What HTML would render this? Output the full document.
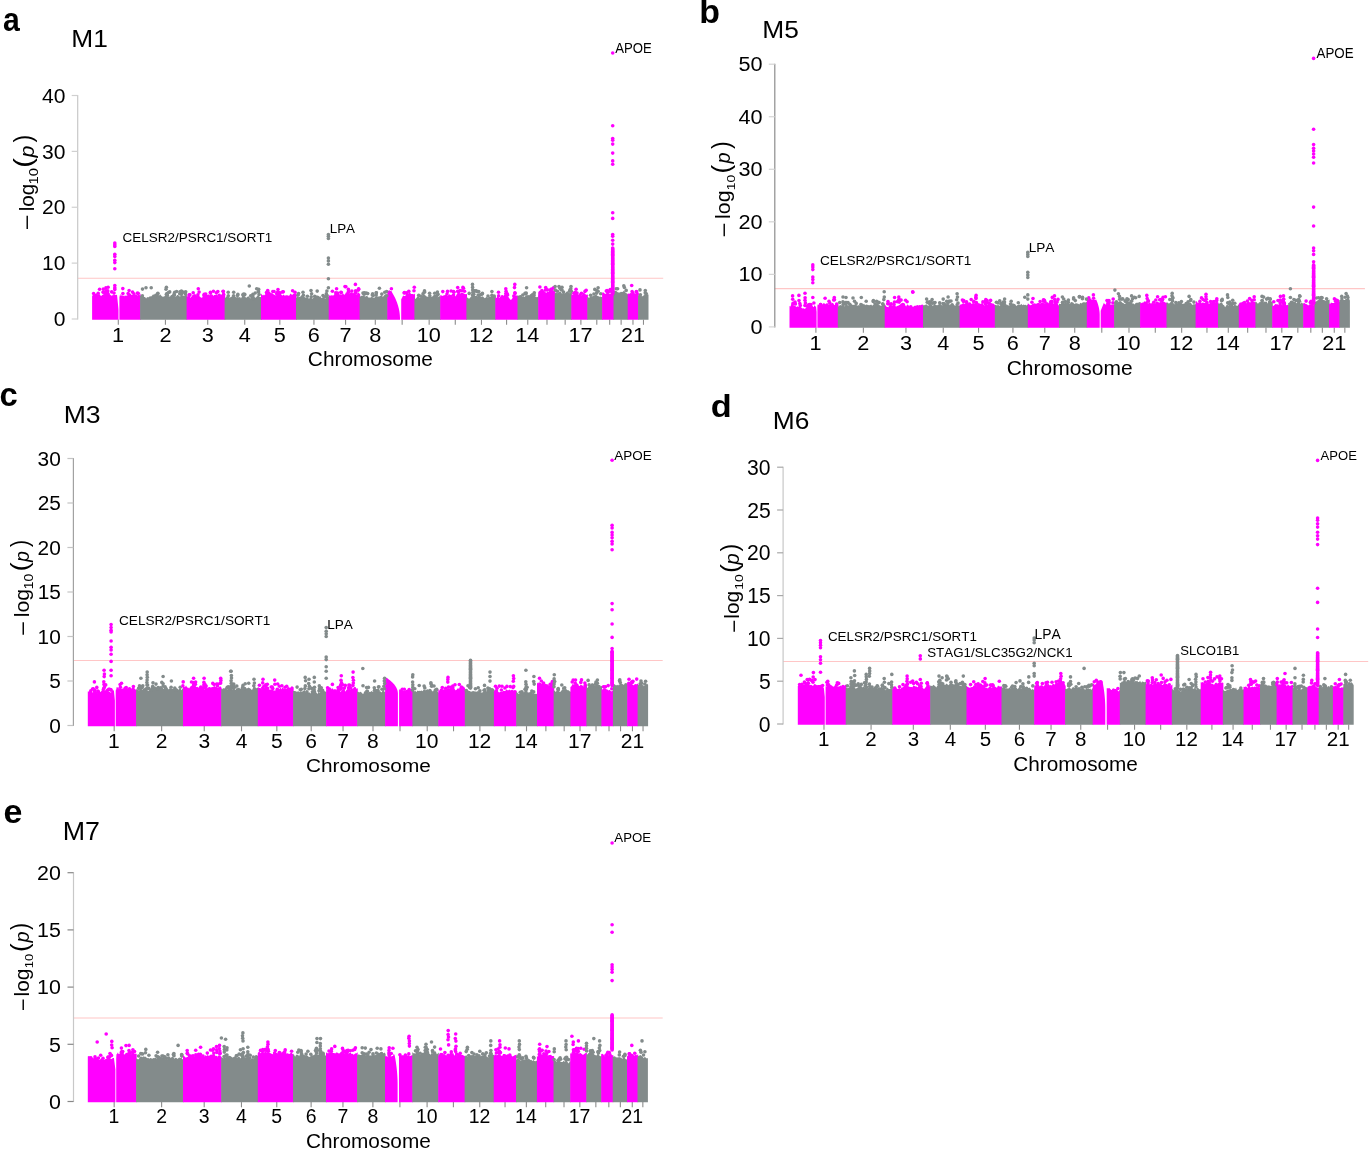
<!DOCTYPE html><html><head><meta charset="utf-8"><style>html,body{margin:0;padding:0;background:#fff;overflow:hidden;}svg{display:block;will-change:transform;} text{font-family:"Liberation Sans", sans-serif; fill:#000; font-kerning:none;}</style></head><body>
<svg width="1369" height="1150" viewBox="0 0 1369 1150">
<rect width="1369" height="1150" fill="#fff"/>
<line x1="77.7" y1="278.21" x2="663.2" y2="278.21" stroke="#ffc6c6" stroke-width="1.15"/>
<line x1="77.70" y1="95.0" x2="77.70" y2="319.5" stroke="#c8c8c8" stroke-width="1.2"/>
<line x1="71.7" y1="319.00" x2="77.7" y2="319.00" stroke="#d0d0d0" stroke-width="1.2"/>
<text x="53.82" y="326.16" font-size="19.63" textLength="11.70" lengthAdjust="spacingAndGlyphs">0</text>
<line x1="71.7" y1="263.12" x2="77.7" y2="263.12" stroke="#d0d0d0" stroke-width="1.2"/>
<text x="42.12" y="270.28" font-size="19.63" textLength="23.40" lengthAdjust="spacingAndGlyphs">10</text>
<line x1="71.7" y1="207.25" x2="77.7" y2="207.25" stroke="#d0d0d0" stroke-width="1.2"/>
<text x="42.12" y="214.41" font-size="19.63" textLength="23.40" lengthAdjust="spacingAndGlyphs">20</text>
<line x1="71.7" y1="151.38" x2="77.7" y2="151.38" stroke="#d0d0d0" stroke-width="1.2"/>
<text x="42.12" y="158.53" font-size="19.63" textLength="23.40" lengthAdjust="spacingAndGlyphs">30</text>
<line x1="71.7" y1="95.50" x2="77.7" y2="95.50" stroke="#d0d0d0" stroke-width="1.2"/>
<text x="42.12" y="102.66" font-size="19.63" textLength="23.40" lengthAdjust="spacingAndGlyphs">40</text>
<line x1="118.30" y1="319.6" x2="118.30" y2="324.8" stroke="#8c8c8c" stroke-width="1.1"/>
<text x="111.98" y="342.00" font-size="20.34" textLength="12.05" lengthAdjust="spacingAndGlyphs">1</text>
<line x1="165.43" y1="319.6" x2="165.43" y2="324.8" stroke="#8c8c8c" stroke-width="1.1"/>
<text x="159.41" y="342.00" font-size="20.34" textLength="12.05" lengthAdjust="spacingAndGlyphs">2</text>
<line x1="207.73" y1="319.6" x2="207.73" y2="324.8" stroke="#8c8c8c" stroke-width="1.1"/>
<text x="201.77" y="341.80" font-size="20.34" textLength="12.05" lengthAdjust="spacingAndGlyphs">3</text>
<line x1="244.74" y1="319.6" x2="244.74" y2="324.8" stroke="#8c8c8c" stroke-width="1.1"/>
<text x="238.79" y="342.00" font-size="20.34" textLength="12.05" lengthAdjust="spacingAndGlyphs">4</text>
<line x1="279.82" y1="319.6" x2="279.82" y2="324.8" stroke="#8c8c8c" stroke-width="1.1"/>
<text x="273.81" y="341.80" font-size="20.34" textLength="12.05" lengthAdjust="spacingAndGlyphs">5</text>
<line x1="313.94" y1="319.6" x2="313.94" y2="324.8" stroke="#8c8c8c" stroke-width="1.1"/>
<text x="307.84" y="341.80" font-size="20.34" textLength="12.05" lengthAdjust="spacingAndGlyphs">6</text>
<line x1="345.57" y1="319.6" x2="345.57" y2="324.8" stroke="#8c8c8c" stroke-width="1.1"/>
<text x="339.53" y="342.00" font-size="20.34" textLength="12.05" lengthAdjust="spacingAndGlyphs">7</text>
<line x1="375.30" y1="319.6" x2="375.30" y2="324.8" stroke="#8c8c8c" stroke-width="1.1"/>
<text x="369.28" y="341.80" font-size="20.34" textLength="12.05" lengthAdjust="spacingAndGlyphs">8</text>
<line x1="402.15" y1="319.6" x2="402.15" y2="324.8" stroke="#8c8c8c" stroke-width="1.1"/>
<line x1="429.16" y1="319.6" x2="429.16" y2="324.8" stroke="#8c8c8c" stroke-width="1.1"/>
<text x="416.71" y="341.80" font-size="20.34" textLength="24.10" lengthAdjust="spacingAndGlyphs">10</text>
<line x1="455.28" y1="319.6" x2="455.28" y2="324.8" stroke="#8c8c8c" stroke-width="1.1"/>
<line x1="481.46" y1="319.6" x2="481.46" y2="324.8" stroke="#8c8c8c" stroke-width="1.1"/>
<text x="469.13" y="342.00" font-size="20.34" textLength="24.10" lengthAdjust="spacingAndGlyphs">12</text>
<line x1="506.58" y1="319.6" x2="506.58" y2="324.8" stroke="#8c8c8c" stroke-width="1.1"/>
<line x1="527.76" y1="319.6" x2="527.76" y2="324.8" stroke="#8c8c8c" stroke-width="1.1"/>
<text x="515.20" y="342.00" font-size="20.34" textLength="24.10" lengthAdjust="spacingAndGlyphs">14</text>
<line x1="546.99" y1="319.6" x2="546.99" y2="324.8" stroke="#8c8c8c" stroke-width="1.1"/>
<line x1="565.16" y1="319.6" x2="565.16" y2="324.8" stroke="#8c8c8c" stroke-width="1.1"/>
<line x1="580.89" y1="319.6" x2="580.89" y2="324.8" stroke="#8c8c8c" stroke-width="1.1"/>
<text x="568.56" y="342.00" font-size="20.34" textLength="24.10" lengthAdjust="spacingAndGlyphs">17</text>
<line x1="596.79" y1="319.6" x2="596.79" y2="324.8" stroke="#8c8c8c" stroke-width="1.1"/>
<line x1="609.68" y1="319.6" x2="609.68" y2="324.8" stroke="#8c8c8c" stroke-width="1.1"/>
<line x1="621.13" y1="319.6" x2="621.13" y2="324.8" stroke="#8c8c8c" stroke-width="1.1"/>
<line x1="632.97" y1="319.6" x2="632.97" y2="324.8" stroke="#8c8c8c" stroke-width="1.1"/>
<text x="620.91" y="342.00" font-size="20.34" textLength="24.10" lengthAdjust="spacingAndGlyphs">21</text>
<line x1="643.48" y1="319.6" x2="643.48" y2="324.8" stroke="#8c8c8c" stroke-width="1.1"/>
<path d="M92.1,319.8 L92.1,295.7 L93.1,295.0 L94.1,294.1 L95.1,294.8 L96.1,295.8 L97.2,295.4 L98.2,294.7 L99.2,293.8 L100.2,295.2 L101.2,296.0 L102.2,294.9 L103.2,294.4 L104.2,293.3 L105.3,293.2 L106.3,294.0 L107.3,294.5 L108.3,292.6 L109.3,293.8 L110.3,294.8 L111.3,295.7 L112.3,295.2 L113.0,295.2 L113.2,295.2 L113.4,294.9 L113.6,294.9 L113.8,294.9 L114.0,294.9 L114.2,294.9 L114.4,295.1 L114.6,295.1 L114.8,295.1 L115.0,295.1 L115.2,295.1 L115.4,295.1 L115.6,295.0 L115.8,295.0 L116.0,295.0 L116.2,295.0 L116.4,295.0 L116.6,294.7 L116.8,294.7 L117.0,294.7 L117.2,296.5 L117.4,298.5 L117.6,300.5 L117.8,302.5 L118.0,304.5 L118.2,306.5 L118.4,308.5 L118.5,309.9 L118.5,319.8 L118.6,319.8 L118.8,319.8 L119.0,319.8 L119.2,319.8 L119.4,319.8 L119.4,319.8 L119.4,297.1 L119.6,296.4 L119.8,295.4 L120.0,294.4 L120.2,293.9 L120.4,293.9 L120.6,295.7 L120.8,295.7 L121.0,295.7 L121.2,295.7 L121.4,295.7 L121.6,294.7 L121.8,294.7 L122.0,294.7 L122.2,294.7 L122.4,294.7 L122.6,295.9 L122.8,295.9 L123.0,295.9 L123.2,295.9 L123.4,295.9 L123.6,295.5 L123.8,295.5 L124.0,295.5 L124.2,295.5 L124.4,295.5 L124.6,296.3 L124.8,296.3 L125.5,295.6 L126.5,295.8 L127.5,295.2 L128.5,292.3 L129.5,293.5 L130.5,293.4 L131.6,295.0 L132.6,295.1 L133.6,294.4 L134.6,294.6 L135.6,294.4 L136.6,294.5 L137.6,295.4 L138.6,294.6 L139.7,295.3 L140.7,293.6 L140.7,319.8 Z" fill="#ff00ff"/>
<circle cx="93.6" cy="293.5" r="1.8" fill="#ff00ff"/>
<circle cx="103.2" cy="292.0" r="1.8" fill="#ff00ff"/>
<circle cx="138.3" cy="293.6" r="1.8" fill="#ff00ff"/>
<circle cx="111.7" cy="291.9" r="1.8" fill="#ff00ff"/>
<circle cx="129.1" cy="290.5" r="1.8" fill="#ff00ff"/>
<circle cx="105.9" cy="290.9" r="1.8" fill="#ff00ff"/>
<circle cx="137.5" cy="293.1" r="1.8" fill="#ff00ff"/>
<circle cx="128.1" cy="293.5" r="1.8" fill="#ff00ff"/>
<circle cx="98.2" cy="293.2" r="1.8" fill="#ff00ff"/>
<circle cx="96.3" cy="295.3" r="1.8" fill="#ff00ff"/>
<circle cx="114.0" cy="293.1" r="1.8" fill="#ff00ff"/>
<circle cx="99.6" cy="289.3" r="1.8" fill="#ff00ff"/>
<circle cx="122.9" cy="293.5" r="1.8" fill="#ff00ff"/>
<circle cx="103.3" cy="292.3" r="1.8" fill="#ff00ff"/>
<circle cx="105.9" cy="287.9" r="1.8" fill="#ff00ff"/>
<circle cx="107.5" cy="293.5" r="1.8" fill="#ff00ff"/>
<circle cx="133.9" cy="293.7" r="1.8" fill="#ff00ff"/>
<circle cx="132.5" cy="292.1" r="1.8" fill="#ff00ff"/>
<circle cx="122.8" cy="288.6" r="1.8" fill="#ff00ff"/>
<circle cx="103.3" cy="289.1" r="1.8" fill="#ff00ff"/>
<circle cx="105.4" cy="292.8" r="1.8" fill="#ff00ff"/>
<path d="M140.1,319.8 L140.1,295.8 L141.1,295.8 L142.1,296.5 L143.1,296.6 L144.1,297.0 L145.1,297.1 L146.1,298.6 L147.1,296.9 L148.1,297.6 L149.1,296.8 L150.1,296.2 L151.1,296.5 L152.1,295.4 L153.1,294.3 L154.1,294.9 L155.1,296.0 L156.1,295.6 L157.1,294.6 L158.1,294.8 L159.1,295.6 L160.1,294.3 L161.1,295.6 L162.1,296.5 L163.2,296.8 L164.2,296.3 L165.2,296.1 L166.2,295.5 L167.2,295.9 L168.2,296.2 L169.2,296.8 L170.2,296.0 L171.2,297.0 L172.2,296.8 L173.2,296.0 L174.2,296.1 L175.2,296.4 L176.2,296.2 L177.2,295.1 L178.2,294.9 L179.2,296.3 L180.2,296.6 L181.2,294.6 L182.2,295.3 L183.2,295.5 L184.2,295.9 L185.2,295.1 L186.2,295.1 L187.2,295.4 L187.2,319.8 Z" fill="#838b8b"/>
<circle cx="157.9" cy="293.2" r="1.8" fill="#838b8b"/>
<circle cx="157.6" cy="293.9" r="1.8" fill="#838b8b"/>
<circle cx="180.9" cy="292.2" r="1.8" fill="#838b8b"/>
<circle cx="172.1" cy="296.5" r="1.8" fill="#838b8b"/>
<circle cx="167.4" cy="295.4" r="1.8" fill="#838b8b"/>
<circle cx="142.4" cy="295.9" r="1.8" fill="#838b8b"/>
<circle cx="181.8" cy="292.3" r="1.8" fill="#838b8b"/>
<circle cx="142.5" cy="289.1" r="1.8" fill="#838b8b"/>
<circle cx="169.7" cy="291.9" r="1.8" fill="#838b8b"/>
<circle cx="155.7" cy="295.4" r="1.8" fill="#838b8b"/>
<circle cx="185.7" cy="291.8" r="1.8" fill="#838b8b"/>
<circle cx="174.1" cy="294.3" r="1.8" fill="#838b8b"/>
<circle cx="181.3" cy="294.2" r="1.8" fill="#838b8b"/>
<circle cx="176.6" cy="291.5" r="1.8" fill="#838b8b"/>
<circle cx="182.0" cy="291.9" r="1.8" fill="#838b8b"/>
<circle cx="181.4" cy="291.0" r="1.8" fill="#838b8b"/>
<circle cx="180.0" cy="291.7" r="1.8" fill="#838b8b"/>
<circle cx="179.7" cy="293.7" r="1.8" fill="#838b8b"/>
<circle cx="166.9" cy="293.5" r="1.8" fill="#838b8b"/>
<circle cx="167.3" cy="293.9" r="1.8" fill="#838b8b"/>
<circle cx="168.5" cy="292.5" r="1.8" fill="#838b8b"/>
<circle cx="185.4" cy="294.1" r="1.8" fill="#838b8b"/>
<path d="M186.6,319.8 L186.6,295.7 L187.7,296.4 L188.7,296.1 L189.7,296.9 L190.7,297.7 L191.7,296.2 L192.7,294.8 L193.7,294.5 L194.8,293.9 L195.8,294.4 L196.8,295.5 L197.8,295.5 L198.8,295.8 L199.8,296.6 L200.8,297.5 L201.9,297.8 L202.9,296.8 L203.9,296.1 L204.9,296.3 L205.9,294.8 L206.9,295.0 L208.0,294.8 L209.0,294.2 L210.0,295.5 L211.0,297.1 L212.0,295.8 L213.0,296.3 L214.0,294.9 L215.1,294.9 L216.1,294.4 L217.1,294.3 L218.1,296.6 L219.1,295.5 L220.1,296.1 L221.1,296.5 L222.2,296.4 L223.2,295.4 L224.2,294.8 L225.2,294.3 L225.2,319.8 Z" fill="#ff00ff"/>
<circle cx="213.4" cy="291.3" r="1.8" fill="#ff00ff"/>
<circle cx="221.9" cy="296.2" r="1.8" fill="#ff00ff"/>
<circle cx="204.2" cy="294.3" r="1.8" fill="#ff00ff"/>
<circle cx="197.9" cy="294.8" r="1.8" fill="#ff00ff"/>
<circle cx="210.4" cy="292.4" r="1.8" fill="#ff00ff"/>
<circle cx="205.7" cy="294.0" r="1.8" fill="#ff00ff"/>
<circle cx="223.1" cy="291.2" r="1.8" fill="#ff00ff"/>
<circle cx="204.2" cy="295.5" r="1.8" fill="#ff00ff"/>
<circle cx="219.2" cy="295.2" r="1.8" fill="#ff00ff"/>
<circle cx="189.6" cy="295.1" r="1.8" fill="#ff00ff"/>
<circle cx="199.1" cy="292.1" r="1.8" fill="#ff00ff"/>
<circle cx="216.3" cy="292.8" r="1.8" fill="#ff00ff"/>
<circle cx="204.3" cy="295.9" r="1.8" fill="#ff00ff"/>
<circle cx="189.0" cy="295.1" r="1.8" fill="#ff00ff"/>
<circle cx="193.2" cy="292.8" r="1.8" fill="#ff00ff"/>
<circle cx="189.8" cy="294.7" r="1.8" fill="#ff00ff"/>
<circle cx="210.5" cy="293.1" r="1.8" fill="#ff00ff"/>
<circle cx="211.4" cy="296.1" r="1.8" fill="#ff00ff"/>
<path d="M224.6,319.8 L224.6,298.6 L225.6,297.4 L226.7,296.2 L227.7,296.4 L228.7,296.4 L229.7,297.8 L230.8,297.1 L231.8,296.6 L232.8,296.1 L233.8,297.1 L234.9,295.9 L235.9,297.3 L236.9,297.2 L237.9,296.9 L239.0,297.6 L240.0,296.8 L241.0,298.4 L242.1,296.0 L243.1,295.4 L244.1,296.0 L245.1,296.7 L246.2,297.8 L247.2,297.0 L248.2,296.2 L249.2,296.8 L250.3,298.3 L251.3,298.2 L252.3,297.0 L253.3,298.7 L254.4,298.9 L255.4,297.7 L256.4,296.9 L257.4,295.6 L258.5,295.6 L259.5,297.1 L260.5,297.0 L261.6,297.4 L261.6,319.8 Z" fill="#838b8b"/>
<circle cx="256.7" cy="288.7" r="1.8" fill="#838b8b"/>
<circle cx="244.3" cy="295.0" r="1.8" fill="#838b8b"/>
<circle cx="252.9" cy="294.2" r="1.8" fill="#838b8b"/>
<circle cx="255.2" cy="293.0" r="1.8" fill="#838b8b"/>
<circle cx="237.9" cy="294.4" r="1.8" fill="#838b8b"/>
<circle cx="244.8" cy="294.4" r="1.8" fill="#838b8b"/>
<circle cx="252.2" cy="297.5" r="1.8" fill="#838b8b"/>
<circle cx="253.6" cy="298.6" r="1.8" fill="#838b8b"/>
<circle cx="228.3" cy="295.8" r="1.8" fill="#838b8b"/>
<circle cx="237.5" cy="295.4" r="1.8" fill="#838b8b"/>
<circle cx="252.9" cy="295.9" r="1.8" fill="#838b8b"/>
<circle cx="243.6" cy="294.1" r="1.8" fill="#838b8b"/>
<circle cx="250.7" cy="295.8" r="1.8" fill="#838b8b"/>
<circle cx="258.2" cy="291.7" r="1.8" fill="#838b8b"/>
<circle cx="242.8" cy="294.8" r="1.8" fill="#838b8b"/>
<circle cx="233.6" cy="295.7" r="1.8" fill="#838b8b"/>
<path d="M261.0,319.8 L261.0,293.5 L262.0,294.7 L263.0,295.4 L264.0,294.6 L265.0,295.5 L266.0,295.4 L267.1,294.4 L268.1,293.6 L269.1,295.5 L270.1,294.8 L271.1,293.2 L272.1,293.0 L273.2,294.0 L274.2,294.8 L275.2,295.0 L276.2,295.8 L277.2,295.5 L278.3,295.3 L279.3,295.2 L280.3,294.0 L281.3,294.5 L282.3,295.8 L283.3,294.5 L284.4,295.5 L285.4,295.5 L286.4,295.3 L287.4,295.3 L288.4,295.8 L289.4,295.5 L290.5,293.4 L291.5,294.5 L292.5,294.7 L293.5,293.8 L294.5,293.6 L295.5,293.5 L296.6,293.4 L296.6,319.8 Z" fill="#ff00ff"/>
<circle cx="278.0" cy="289.6" r="1.8" fill="#ff00ff"/>
<circle cx="272.8" cy="291.5" r="1.8" fill="#ff00ff"/>
<circle cx="292.6" cy="290.8" r="1.8" fill="#ff00ff"/>
<circle cx="266.7" cy="295.3" r="1.8" fill="#ff00ff"/>
<circle cx="268.8" cy="293.0" r="1.8" fill="#ff00ff"/>
<circle cx="269.9" cy="294.5" r="1.8" fill="#ff00ff"/>
<circle cx="274.0" cy="291.5" r="1.8" fill="#ff00ff"/>
<circle cx="282.7" cy="291.9" r="1.8" fill="#ff00ff"/>
<circle cx="266.5" cy="292.5" r="1.8" fill="#ff00ff"/>
<circle cx="279.1" cy="295.3" r="1.8" fill="#ff00ff"/>
<circle cx="279.7" cy="293.2" r="1.8" fill="#ff00ff"/>
<circle cx="276.7" cy="293.6" r="1.8" fill="#ff00ff"/>
<circle cx="279.7" cy="293.0" r="1.8" fill="#ff00ff"/>
<circle cx="267.7" cy="293.2" r="1.8" fill="#ff00ff"/>
<circle cx="283.3" cy="291.7" r="1.8" fill="#ff00ff"/>
<circle cx="279.7" cy="292.7" r="1.8" fill="#ff00ff"/>
<path d="M296.0,319.8 L296.0,298.2 L297.0,297.0 L298.0,297.0 L299.0,299.2 L300.0,299.1 L301.0,298.1 L302.0,297.7 L303.0,298.3 L304.0,296.7 L305.1,297.4 L306.1,297.5 L307.1,297.4 L308.1,297.9 L309.1,298.7 L310.1,297.3 L311.1,296.9 L312.1,298.8 L313.1,298.0 L314.2,297.6 L315.2,297.3 L316.2,297.9 L317.2,298.2 L318.2,297.9 L319.2,297.0 L320.2,295.8 L321.2,298.1 L322.2,297.5 L323.2,297.3 L324.3,297.7 L325.3,298.9 L326.3,298.9 L327.3,299.1 L328.3,298.4 L329.3,298.2 L329.3,319.8 Z" fill="#838b8b"/>
<circle cx="298.6" cy="293.5" r="1.8" fill="#838b8b"/>
<circle cx="314.7" cy="296.4" r="1.8" fill="#838b8b"/>
<circle cx="301.9" cy="297.3" r="1.8" fill="#838b8b"/>
<circle cx="323.0" cy="295.6" r="1.8" fill="#838b8b"/>
<circle cx="327.5" cy="297.9" r="1.8" fill="#838b8b"/>
<circle cx="299.3" cy="298.6" r="1.8" fill="#838b8b"/>
<circle cx="326.3" cy="293.9" r="1.8" fill="#838b8b"/>
<circle cx="307.4" cy="296.2" r="1.8" fill="#838b8b"/>
<circle cx="311.6" cy="293.8" r="1.8" fill="#838b8b"/>
<circle cx="315.7" cy="297.0" r="1.8" fill="#838b8b"/>
<circle cx="297.9" cy="295.2" r="1.8" fill="#838b8b"/>
<circle cx="303.0" cy="292.2" r="1.8" fill="#838b8b"/>
<circle cx="311.2" cy="296.7" r="1.8" fill="#838b8b"/>
<circle cx="303.4" cy="295.2" r="1.8" fill="#838b8b"/>
<circle cx="302.5" cy="297.2" r="1.8" fill="#838b8b"/>
<circle cx="324.6" cy="296.7" r="1.8" fill="#838b8b"/>
<path d="M328.7,319.8 L328.7,294.3 L329.7,295.7 L330.7,295.4 L331.8,295.3 L332.8,295.5 L333.8,295.3 L334.8,293.2 L335.8,293.7 L336.8,293.9 L337.8,292.1 L338.9,293.0 L339.9,294.8 L340.9,294.1 L341.9,294.7 L342.9,293.0 L343.9,294.4 L345.0,294.7 L346.0,295.6 L347.0,294.8 L348.0,295.2 L349.0,294.7 L350.0,294.6 L351.1,294.8 L352.1,293.6 L353.1,293.0 L354.1,293.4 L355.1,294.3 L356.1,295.0 L357.2,294.3 L358.2,292.2 L359.2,293.3 L360.2,294.2 L360.2,319.8 Z" fill="#ff00ff"/>
<circle cx="349.0" cy="291.8" r="1.8" fill="#ff00ff"/>
<circle cx="341.3" cy="292.5" r="1.8" fill="#ff00ff"/>
<circle cx="358.7" cy="289.3" r="1.8" fill="#ff00ff"/>
<circle cx="351.9" cy="291.1" r="1.8" fill="#ff00ff"/>
<circle cx="358.1" cy="290.2" r="1.8" fill="#ff00ff"/>
<circle cx="351.3" cy="294.2" r="1.8" fill="#ff00ff"/>
<circle cx="337.5" cy="293.1" r="1.8" fill="#ff00ff"/>
<circle cx="335.8" cy="292.7" r="1.8" fill="#ff00ff"/>
<circle cx="340.9" cy="292.2" r="1.8" fill="#ff00ff"/>
<circle cx="356.0" cy="293.0" r="1.8" fill="#ff00ff"/>
<circle cx="345.9" cy="286.8" r="1.8" fill="#ff00ff"/>
<circle cx="346.4" cy="295.2" r="1.8" fill="#ff00ff"/>
<circle cx="358.6" cy="288.7" r="1.8" fill="#ff00ff"/>
<circle cx="332.4" cy="291.2" r="1.8" fill="#ff00ff"/>
<circle cx="347.2" cy="293.8" r="1.8" fill="#ff00ff"/>
<path d="M359.6,319.8 L359.6,296.9 L360.6,296.3 L361.6,295.7 L362.6,295.7 L363.6,295.3 L364.7,296.2 L365.7,296.6 L366.7,295.8 L367.7,296.5 L368.7,297.7 L369.7,297.4 L370.7,297.5 L371.7,296.7 L372.7,297.2 L373.7,297.8 L374.8,297.6 L375.8,295.9 L376.8,296.3 L377.8,296.4 L378.8,296.5 L379.8,296.3 L380.8,295.8 L381.8,295.1 L382.8,297.1 L383.8,295.8 L384.9,296.2 L385.9,296.7 L386.9,294.8 L387.9,295.8 L387.9,319.8 Z" fill="#838b8b"/>
<circle cx="363.0" cy="293.1" r="1.8" fill="#838b8b"/>
<circle cx="373.2" cy="295.5" r="1.8" fill="#838b8b"/>
<circle cx="385.7" cy="296.1" r="1.8" fill="#838b8b"/>
<circle cx="384.8" cy="292.2" r="1.8" fill="#838b8b"/>
<circle cx="379.4" cy="288.3" r="1.8" fill="#838b8b"/>
<circle cx="381.8" cy="294.1" r="1.8" fill="#838b8b"/>
<circle cx="376.4" cy="292.8" r="1.8" fill="#838b8b"/>
<circle cx="372.6" cy="293.9" r="1.8" fill="#838b8b"/>
<circle cx="366.3" cy="293.1" r="1.8" fill="#838b8b"/>
<circle cx="364.2" cy="294.2" r="1.8" fill="#838b8b"/>
<circle cx="372.3" cy="295.0" r="1.8" fill="#838b8b"/>
<circle cx="367.7" cy="293.6" r="1.8" fill="#838b8b"/>
<path d="M387.3,319.8 L387.3,290.7 L388.3,290.8 L389.3,290.3 L390.4,291.1 L391.4,291.1 L392.4,292.9 L393.4,294.7 L394.5,296.7 L394.6,296.9 L394.8,297.3 L395.0,297.8 L395.2,298.2 L395.4,298.6 L395.6,299.1 L395.8,299.5 L396.0,300.0 L396.2,300.5 L396.4,301.0 L396.6,301.5 L396.8,302.0 L397.0,302.5 L397.2,303.1 L397.4,303.7 L397.6,304.3 L397.8,304.9 L398.0,305.6 L398.2,306.3 L398.4,307.0 L398.6,307.8 L398.8,308.6 L399.0,309.5 L399.2,310.5 L399.4,311.6 L399.6,313.0 L399.8,314.8 L400.0,318.0 L400.0,319.0 L400.0,319.8 L400.2,319.8 L400.4,319.8 L400.6,319.8 L400.8,319.8 L401.0,319.8 L401.2,319.8 L401.2,319.8 L401.2,299.3 L401.4,299.0 L401.6,298.6 L401.8,298.2 L402.0,297.8 L402.2,297.4 L402.4,297.0 L402.6,296.6 L402.8,296.2 L403.0,295.8 L403.2,295.6 L403.4,295.6 L403.6,295.6 L403.8,296.0 L404.0,296.0 L404.2,296.0 L404.4,296.0 L404.6,296.0 L404.8,295.9 L405.0,295.9 L405.2,295.9 L405.4,295.9 L405.6,295.9 L405.8,295.3 L406.0,295.3 L406.2,295.3 L406.4,295.3 L406.6,295.3 L406.8,295.4 L407.8,295.0 L408.8,292.5 L409.9,292.0 L410.9,293.9 L411.9,293.9 L413.0,294.1 L414.0,294.4 L415.0,293.6 L415.0,319.8 Z" fill="#ff00ff"/>
<circle cx="404.2" cy="293.0" r="1.8" fill="#ff00ff"/>
<circle cx="404.4" cy="292.6" r="1.8" fill="#ff00ff"/>
<circle cx="407.2" cy="294.8" r="1.8" fill="#ff00ff"/>
<circle cx="408.8" cy="291.3" r="1.8" fill="#ff00ff"/>
<path d="M414.4,319.8 L414.4,297.5 L415.4,298.9 L416.4,298.1 L417.5,296.3 L418.5,296.3 L419.5,298.0 L420.5,297.9 L421.5,296.7 L422.5,295.1 L423.5,294.6 L424.6,295.0 L425.6,295.4 L426.6,296.6 L427.6,296.7 L428.6,296.7 L429.6,297.1 L430.6,296.6 L431.7,296.7 L432.7,296.2 L433.7,295.0 L434.7,294.9 L435.7,295.1 L436.7,295.8 L437.8,297.2 L438.8,296.8 L439.8,296.1 L440.8,296.9 L440.8,319.8 Z" fill="#838b8b"/>
<circle cx="424.5" cy="290.9" r="1.8" fill="#838b8b"/>
<circle cx="418.7" cy="295.3" r="1.8" fill="#838b8b"/>
<circle cx="437.4" cy="292.0" r="1.8" fill="#838b8b"/>
<circle cx="437.9" cy="294.4" r="1.8" fill="#838b8b"/>
<circle cx="434.7" cy="293.3" r="1.8" fill="#838b8b"/>
<circle cx="423.0" cy="293.9" r="1.8" fill="#838b8b"/>
<circle cx="437.8" cy="294.4" r="1.8" fill="#838b8b"/>
<circle cx="436.8" cy="295.7" r="1.8" fill="#838b8b"/>
<circle cx="424.5" cy="291.8" r="1.8" fill="#838b8b"/>
<circle cx="424.4" cy="292.3" r="1.8" fill="#838b8b"/>
<circle cx="420.5" cy="296.2" r="1.8" fill="#838b8b"/>
<path d="M440.2,319.8 L440.2,295.2 L441.2,295.2 L442.3,296.1 L443.3,295.5 L444.3,295.2 L445.4,294.8 L446.4,294.3 L447.4,295.8 L448.5,295.0 L449.5,294.3 L450.5,295.1 L451.6,294.7 L452.6,296.2 L453.6,296.0 L454.6,295.9 L455.7,296.2 L456.7,294.2 L457.7,293.7 L458.8,293.7 L459.8,294.1 L460.8,292.9 L461.9,292.7 L462.9,293.0 L463.9,293.6 L465.0,294.0 L466.0,294.3 L467.0,294.1 L467.0,319.8 Z" fill="#ff00ff"/>
<circle cx="447.5" cy="291.4" r="1.8" fill="#ff00ff"/>
<circle cx="447.0" cy="294.0" r="1.8" fill="#ff00ff"/>
<circle cx="459.9" cy="290.5" r="1.8" fill="#ff00ff"/>
<circle cx="451.1" cy="291.0" r="1.8" fill="#ff00ff"/>
<circle cx="457.7" cy="287.5" r="1.8" fill="#ff00ff"/>
<circle cx="453.5" cy="291.6" r="1.8" fill="#ff00ff"/>
<circle cx="458.6" cy="292.6" r="1.8" fill="#ff00ff"/>
<circle cx="463.5" cy="288.2" r="1.8" fill="#ff00ff"/>
<circle cx="457.6" cy="291.2" r="1.8" fill="#ff00ff"/>
<circle cx="462.0" cy="290.7" r="1.8" fill="#ff00ff"/>
<circle cx="462.9" cy="287.4" r="1.8" fill="#ff00ff"/>
<circle cx="464.5" cy="291.3" r="1.8" fill="#ff00ff"/>
<path d="M466.4,319.8 L466.4,297.4 L467.4,297.5 L468.5,298.5 L469.5,298.4 L470.5,297.3 L471.5,296.2 L472.5,295.4 L473.6,295.2 L474.6,295.9 L475.6,296.0 L476.6,295.8 L477.6,296.8 L478.6,296.5 L479.7,296.3 L480.7,296.5 L481.7,296.7 L482.7,296.3 L483.7,297.3 L484.7,298.2 L485.8,297.4 L486.8,296.8 L487.8,297.8 L488.8,297.0 L489.8,296.7 L490.8,296.8 L491.9,296.4 L492.9,296.2 L493.9,296.3 L494.9,295.9 L495.9,296.5 L495.9,319.8 Z" fill="#838b8b"/>
<circle cx="473.9" cy="291.2" r="1.8" fill="#838b8b"/>
<circle cx="472.8" cy="295.0" r="1.8" fill="#838b8b"/>
<circle cx="488.0" cy="296.0" r="1.8" fill="#838b8b"/>
<circle cx="476.2" cy="290.7" r="1.8" fill="#838b8b"/>
<circle cx="480.6" cy="294.6" r="1.8" fill="#838b8b"/>
<circle cx="474.8" cy="290.9" r="1.8" fill="#838b8b"/>
<circle cx="477.0" cy="291.5" r="1.8" fill="#838b8b"/>
<circle cx="482.4" cy="293.4" r="1.8" fill="#838b8b"/>
<circle cx="473.8" cy="294.3" r="1.8" fill="#838b8b"/>
<circle cx="469.2" cy="293.4" r="1.8" fill="#838b8b"/>
<circle cx="478.1" cy="295.1" r="1.8" fill="#838b8b"/>
<circle cx="481.9" cy="294.3" r="1.8" fill="#838b8b"/>
<circle cx="494.2" cy="296.1" r="1.8" fill="#838b8b"/>
<path d="M495.3,319.8 L495.3,297.6 L496.4,297.9 L497.4,296.7 L498.4,296.9 L499.5,298.0 L500.5,296.7 L501.5,297.2 L502.6,298.3 L503.6,297.6 L504.7,297.0 L505.7,297.4 L506.7,296.8 L507.8,296.3 L508.8,297.5 L509.8,299.0 L510.9,300.1 L511.9,298.9 L512.9,297.2 L514.0,296.4 L515.0,295.7 L516.0,294.9 L517.1,295.9 L518.1,295.7 L518.1,319.8 Z" fill="#ff00ff"/>
<circle cx="498.5" cy="292.3" r="1.8" fill="#ff00ff"/>
<circle cx="502.2" cy="296.9" r="1.8" fill="#ff00ff"/>
<circle cx="506.3" cy="296.1" r="1.8" fill="#ff00ff"/>
<circle cx="506.1" cy="293.6" r="1.8" fill="#ff00ff"/>
<circle cx="513.8" cy="296.1" r="1.8" fill="#ff00ff"/>
<circle cx="502.8" cy="297.5" r="1.8" fill="#ff00ff"/>
<circle cx="515.0" cy="293.4" r="1.8" fill="#ff00ff"/>
<circle cx="498.6" cy="295.9" r="1.8" fill="#ff00ff"/>
<circle cx="507.6" cy="295.0" r="1.8" fill="#ff00ff"/>
<circle cx="507.2" cy="293.7" r="1.8" fill="#ff00ff"/>
<path d="M517.5,319.8 L517.5,294.9 L518.5,295.7 L519.5,295.3 L520.5,295.0 L521.6,295.2 L522.6,296.9 L523.6,296.3 L524.6,297.0 L525.6,295.7 L526.6,295.2 L527.6,295.1 L528.7,297.6 L529.7,296.5 L530.7,295.7 L531.7,296.9 L532.7,295.8 L533.7,295.9 L534.7,296.1 L535.7,296.7 L536.8,297.3 L537.8,297.1 L538.8,294.2 L538.8,319.8 Z" fill="#838b8b"/>
<circle cx="533.6" cy="295.2" r="1.8" fill="#838b8b"/>
<circle cx="522.8" cy="295.0" r="1.8" fill="#838b8b"/>
<circle cx="525.9" cy="294.0" r="1.8" fill="#838b8b"/>
<circle cx="528.9" cy="296.8" r="1.8" fill="#838b8b"/>
<circle cx="526.2" cy="293.1" r="1.8" fill="#838b8b"/>
<circle cx="531.2" cy="295.7" r="1.8" fill="#838b8b"/>
<circle cx="532.4" cy="294.9" r="1.8" fill="#838b8b"/>
<circle cx="525.0" cy="293.4" r="1.8" fill="#838b8b"/>
<circle cx="532.2" cy="295.6" r="1.8" fill="#838b8b"/>
<path d="M538.2,319.8 L538.2,292.4 L539.2,290.8 L540.2,290.8 L541.2,290.9 L542.2,290.3 L543.2,290.2 L544.2,291.0 L545.2,291.8 L546.2,293.0 L547.2,291.5 L548.2,291.9 L549.3,292.0 L550.3,291.8 L551.3,291.3 L552.3,290.9 L553.3,290.6 L554.3,289.5 L555.3,289.7 L555.3,319.8 Z" fill="#ff00ff"/>
<circle cx="545.7" cy="287.5" r="1.8" fill="#ff00ff"/>
<circle cx="550.5" cy="291.4" r="1.8" fill="#ff00ff"/>
<circle cx="551.3" cy="289.2" r="1.8" fill="#ff00ff"/>
<circle cx="545.5" cy="290.0" r="1.8" fill="#ff00ff"/>
<circle cx="539.9" cy="287.0" r="1.8" fill="#ff00ff"/>
<circle cx="553.5" cy="287.9" r="1.8" fill="#ff00ff"/>
<circle cx="550.8" cy="289.6" r="1.8" fill="#ff00ff"/>
<path d="M554.7,319.8 L554.7,293.7 L555.7,292.6 L556.7,292.6 L557.7,293.3 L558.7,292.1 L559.8,291.8 L560.8,291.8 L561.8,293.6 L562.8,293.3 L563.8,292.6 L564.8,293.6 L565.8,292.5 L566.8,291.5 L567.9,291.2 L568.9,292.5 L569.9,293.2 L570.9,292.3 L571.9,291.7 L571.9,319.8 Z" fill="#838b8b"/>
<circle cx="570.2" cy="289.5" r="1.8" fill="#838b8b"/>
<circle cx="563.5" cy="292.1" r="1.8" fill="#838b8b"/>
<circle cx="559.0" cy="286.5" r="1.8" fill="#838b8b"/>
<circle cx="569.6" cy="291.1" r="1.8" fill="#838b8b"/>
<circle cx="557.4" cy="291.2" r="1.8" fill="#838b8b"/>
<circle cx="559.7" cy="288.0" r="1.8" fill="#838b8b"/>
<circle cx="560.9" cy="289.6" r="1.8" fill="#838b8b"/>
<path d="M571.3,319.8 L571.3,294.1 L572.3,294.7 L573.4,295.1 L574.4,294.8 L575.4,294.4 L576.5,294.6 L577.5,293.8 L578.6,294.8 L579.6,295.7 L580.6,295.7 L581.7,295.4 L582.7,293.4 L583.7,292.5 L584.8,293.6 L585.8,294.4 L586.8,294.8 L587.9,294.5 L587.9,319.8 Z" fill="#ff00ff"/>
<circle cx="585.0" cy="291.4" r="1.8" fill="#ff00ff"/>
<circle cx="576.1" cy="289.3" r="1.8" fill="#ff00ff"/>
<circle cx="575.3" cy="292.3" r="1.8" fill="#ff00ff"/>
<circle cx="580.2" cy="295.0" r="1.8" fill="#ff00ff"/>
<circle cx="575.3" cy="294.5" r="1.8" fill="#ff00ff"/>
<circle cx="586.2" cy="290.3" r="1.8" fill="#ff00ff"/>
<circle cx="577.0" cy="293.0" r="1.8" fill="#ff00ff"/>
<path d="M587.3,319.8 L587.3,296.8 L588.3,297.6 L589.3,297.7 L590.4,296.3 L591.4,296.2 L592.4,296.3 L593.4,295.9 L594.5,295.2 L595.5,295.1 L596.5,295.0 L597.6,295.9 L598.6,296.2 L599.6,296.8 L600.6,296.6 L601.7,297.0 L602.7,296.9 L602.7,319.8 Z" fill="#838b8b"/>
<circle cx="596.7" cy="290.6" r="1.8" fill="#838b8b"/>
<circle cx="590.6" cy="295.2" r="1.8" fill="#838b8b"/>
<circle cx="600.7" cy="293.8" r="1.8" fill="#838b8b"/>
<circle cx="593.9" cy="294.0" r="1.8" fill="#838b8b"/>
<circle cx="596.5" cy="293.2" r="1.8" fill="#838b8b"/>
<circle cx="598.1" cy="291.2" r="1.8" fill="#838b8b"/>
<circle cx="594.8" cy="289.4" r="1.8" fill="#838b8b"/>
<path d="M602.1,319.8 L602.1,292.8 L603.2,292.3 L604.3,293.2 L605.4,293.9 L606.5,293.0 L607.6,292.1 L608.6,292.9 L609.7,293.7 L610.8,293.4 L611.9,292.6 L613.0,293.1 L614.1,291.7 L614.1,319.8 Z" fill="#ff00ff"/>
<circle cx="611.7" cy="291.8" r="1.8" fill="#ff00ff"/>
<circle cx="610.2" cy="289.6" r="1.8" fill="#ff00ff"/>
<circle cx="606.3" cy="291.1" r="1.8" fill="#ff00ff"/>
<circle cx="608.9" cy="291.5" r="1.8" fill="#ff00ff"/>
<circle cx="607.6" cy="291.4" r="1.8" fill="#ff00ff"/>
<path d="M613.5,319.8 L613.5,293.0 L614.6,292.7 L615.6,291.3 L616.7,291.3 L617.7,292.3 L618.8,292.4 L619.9,292.6 L620.9,291.7 L622.0,291.9 L623.0,291.7 L624.1,290.2 L625.1,292.2 L626.2,293.0 L627.3,294.0 L628.3,294.5 L628.3,319.8 Z" fill="#838b8b"/>
<circle cx="617.6" cy="288.7" r="1.8" fill="#838b8b"/>
<circle cx="623.8" cy="285.8" r="1.8" fill="#838b8b"/>
<circle cx="616.2" cy="288.7" r="1.8" fill="#838b8b"/>
<circle cx="624.4" cy="287.5" r="1.8" fill="#838b8b"/>
<circle cx="626.2" cy="290.4" r="1.8" fill="#838b8b"/>
<circle cx="615.0" cy="292.6" r="1.8" fill="#838b8b"/>
<path d="M627.7,319.8 L627.7,293.2 L628.8,293.7 L629.9,293.5 L631.0,292.5 L632.1,294.0 L633.2,294.6 L634.3,293.8 L635.4,294.1 L636.5,294.1 L637.6,292.3 L638.7,292.7 L638.7,319.8 Z" fill="#ff00ff"/>
<circle cx="631.7" cy="285.5" r="1.8" fill="#ff00ff"/>
<circle cx="637.0" cy="294.0" r="1.8" fill="#ff00ff"/>
<circle cx="633.0" cy="293.4" r="1.8" fill="#ff00ff"/>
<circle cx="636.6" cy="291.7" r="1.8" fill="#ff00ff"/>
<path d="M638.1,319.8 L638.1,295.2 L639.2,295.7 L640.2,295.2 L641.2,296.0 L642.3,296.3 L643.3,295.9 L644.3,293.8 L645.4,296.4 L646.4,295.7 L647.5,294.6 L648.5,294.4 L648.5,319.8 Z" fill="#838b8b"/>
<circle cx="640.0" cy="289.9" r="1.8" fill="#838b8b"/>
<circle cx="640.4" cy="294.8" r="1.8" fill="#838b8b"/>
<circle cx="646.3" cy="293.8" r="1.8" fill="#838b8b"/>
<circle cx="646.0" cy="296.0" r="1.8" fill="#838b8b"/>
<circle cx="107.8" cy="293.5" r="1.8" fill="#ff00ff"/>
<circle cx="107.8" cy="290.9" r="1.8" fill="#ff00ff"/>
<circle cx="108.1" cy="287.2" r="1.8" fill="#ff00ff"/>
<circle cx="146.0" cy="287.7" r="1.8" fill="#838b8b"/>
<circle cx="151.2" cy="287.7" r="1.8" fill="#838b8b"/>
<circle cx="166.3" cy="294.5" r="1.8" fill="#838b8b"/>
<circle cx="166.0" cy="289.3" r="1.8" fill="#838b8b"/>
<circle cx="166.4" cy="287.2" r="1.8" fill="#838b8b"/>
<circle cx="174.4" cy="295.1" r="1.8" fill="#838b8b"/>
<circle cx="174.7" cy="292.2" r="1.8" fill="#838b8b"/>
<circle cx="183.8" cy="292.2" r="1.8" fill="#838b8b"/>
<circle cx="198.3" cy="288.8" r="1.8" fill="#ff00ff"/>
<circle cx="217.8" cy="291.6" r="1.8" fill="#ff00ff"/>
<circle cx="223.6" cy="294.4" r="1.8" fill="#ff00ff"/>
<circle cx="223.3" cy="291.6" r="1.8" fill="#ff00ff"/>
<circle cx="228.2" cy="292.2" r="1.8" fill="#838b8b"/>
<circle cx="233.7" cy="292.2" r="1.8" fill="#838b8b"/>
<circle cx="249.3" cy="286.0" r="1.8" fill="#838b8b"/>
<circle cx="259.1" cy="294.6" r="1.8" fill="#838b8b"/>
<circle cx="258.6" cy="292.0" r="1.8" fill="#838b8b"/>
<circle cx="258.7" cy="289.4" r="1.8" fill="#838b8b"/>
<circle cx="267.3" cy="293.4" r="1.8" fill="#ff00ff"/>
<circle cx="267.7" cy="290.5" r="1.8" fill="#ff00ff"/>
<circle cx="277.4" cy="294.5" r="1.8" fill="#ff00ff"/>
<circle cx="277.6" cy="292.2" r="1.8" fill="#ff00ff"/>
<circle cx="295.0" cy="292.2" r="1.8" fill="#ff00ff"/>
<circle cx="311.0" cy="290.5" r="1.8" fill="#838b8b"/>
<circle cx="317.5" cy="297.2" r="1.8" fill="#838b8b"/>
<circle cx="317.2" cy="291.1" r="1.8" fill="#838b8b"/>
<circle cx="327.0" cy="297.9" r="1.8" fill="#838b8b"/>
<circle cx="326.9" cy="295.3" r="1.8" fill="#838b8b"/>
<circle cx="326.9" cy="291.1" r="1.8" fill="#838b8b"/>
<circle cx="336.6" cy="288.8" r="1.8" fill="#ff00ff"/>
<circle cx="345.0" cy="286.6" r="1.8" fill="#ff00ff"/>
<circle cx="348.3" cy="294.2" r="1.8" fill="#ff00ff"/>
<circle cx="348.5" cy="291.6" r="1.8" fill="#ff00ff"/>
<circle cx="348.4" cy="289.4" r="1.8" fill="#ff00ff"/>
<circle cx="355.2" cy="293.3" r="1.8" fill="#ff00ff"/>
<circle cx="355.6" cy="290.7" r="1.8" fill="#ff00ff"/>
<circle cx="355.4" cy="284.4" r="1.8" fill="#ff00ff"/>
<circle cx="364.4" cy="292.7" r="1.8" fill="#838b8b"/>
<circle cx="376.2" cy="294.9" r="1.8" fill="#838b8b"/>
<circle cx="376.2" cy="292.7" r="1.8" fill="#838b8b"/>
<circle cx="386.8" cy="295.7" r="1.8" fill="#838b8b"/>
<circle cx="386.6" cy="291.6" r="1.8" fill="#838b8b"/>
<circle cx="391.4" cy="288.8" r="1.8" fill="#ff00ff"/>
<circle cx="406.7" cy="292.7" r="1.8" fill="#ff00ff"/>
<circle cx="414.0" cy="290.8" r="1.8" fill="#ff00ff"/>
<circle cx="414.3" cy="287.2" r="1.8" fill="#ff00ff"/>
<circle cx="429.8" cy="295.7" r="1.8" fill="#838b8b"/>
<circle cx="429.6" cy="293.3" r="1.8" fill="#838b8b"/>
<circle cx="442.8" cy="291.6" r="1.8" fill="#ff00ff"/>
<circle cx="453.5" cy="295.0" r="1.8" fill="#ff00ff"/>
<circle cx="453.9" cy="292.2" r="1.8" fill="#ff00ff"/>
<circle cx="472.7" cy="295.2" r="1.8" fill="#838b8b"/>
<circle cx="472.8" cy="292.6" r="1.8" fill="#838b8b"/>
<circle cx="472.7" cy="290.0" r="1.8" fill="#838b8b"/>
<circle cx="472.6" cy="287.4" r="1.8" fill="#838b8b"/>
<circle cx="472.5" cy="284.4" r="1.8" fill="#838b8b"/>
<circle cx="479.0" cy="295.5" r="1.8" fill="#838b8b"/>
<circle cx="478.7" cy="291.6" r="1.8" fill="#838b8b"/>
<circle cx="491.9" cy="295.4" r="1.8" fill="#838b8b"/>
<circle cx="491.9" cy="291.6" r="1.8" fill="#838b8b"/>
<circle cx="505.4" cy="296.4" r="1.8" fill="#ff00ff"/>
<circle cx="505.9" cy="293.8" r="1.8" fill="#ff00ff"/>
<circle cx="506.1" cy="291.2" r="1.8" fill="#ff00ff"/>
<circle cx="505.8" cy="288.8" r="1.8" fill="#ff00ff"/>
<circle cx="514.9" cy="292.8" r="1.8" fill="#ff00ff"/>
<circle cx="514.5" cy="287.6" r="1.8" fill="#ff00ff"/>
<circle cx="514.8" cy="284.4" r="1.8" fill="#ff00ff"/>
<circle cx="526.6" cy="287.7" r="1.8" fill="#838b8b"/>
<circle cx="534.0" cy="294.9" r="1.8" fill="#838b8b"/>
<circle cx="534.3" cy="292.7" r="1.8" fill="#838b8b"/>
<circle cx="541.9" cy="290.5" r="1.8" fill="#ff00ff"/>
<circle cx="547.4" cy="289.9" r="1.8" fill="#ff00ff"/>
<circle cx="551.6" cy="289.4" r="1.8" fill="#ff00ff"/>
<circle cx="555.4" cy="290.1" r="1.8" fill="#838b8b"/>
<circle cx="555.1" cy="286.6" r="1.8" fill="#838b8b"/>
<circle cx="562.0" cy="290.0" r="1.8" fill="#838b8b"/>
<circle cx="562.0" cy="287.2" r="1.8" fill="#838b8b"/>
<circle cx="571.3" cy="291.3" r="1.8" fill="#838b8b"/>
<circle cx="570.8" cy="288.7" r="1.8" fill="#838b8b"/>
<circle cx="571.0" cy="286.6" r="1.8" fill="#838b8b"/>
<circle cx="573.8" cy="293.3" r="1.8" fill="#ff00ff"/>
<circle cx="581.4" cy="293.3" r="1.8" fill="#ff00ff"/>
<circle cx="598.1" cy="287.7" r="1.8" fill="#838b8b"/>
<circle cx="607.1" cy="290.5" r="1.8" fill="#ff00ff"/>
<circle cx="632.1" cy="291.6" r="1.8" fill="#ff00ff"/>
<circle cx="636.3" cy="291.6" r="1.8" fill="#ff00ff"/>
<circle cx="645.2" cy="292.8" r="1.8" fill="#838b8b"/>
<circle cx="645.3" cy="290.5" r="1.8" fill="#838b8b"/>
<circle cx="612.7" cy="53.0" r="1.8" fill="#ff00ff"/>
<circle cx="612.7" cy="125.7" r="1.8" fill="#ff00ff"/>
<circle cx="612.7" cy="138.5" r="1.8" fill="#ff00ff"/>
<circle cx="612.7" cy="140.2" r="1.8" fill="#ff00ff"/>
<circle cx="612.7" cy="144.1" r="1.8" fill="#ff00ff"/>
<circle cx="612.7" cy="153.1" r="1.8" fill="#ff00ff"/>
<circle cx="612.7" cy="160.9" r="1.8" fill="#ff00ff"/>
<circle cx="612.7" cy="164.2" r="1.8" fill="#ff00ff"/>
<circle cx="612.7" cy="212.8" r="1.8" fill="#ff00ff"/>
<circle cx="612.7" cy="218.4" r="1.8" fill="#ff00ff"/>
<circle cx="612.7" cy="234.6" r="1.8" fill="#ff00ff"/>
<circle cx="612.7" cy="236.3" r="1.8" fill="#ff00ff"/>
<circle cx="612.7" cy="240.2" r="1.8" fill="#ff00ff"/>
<circle cx="612.7" cy="244.1" r="1.8" fill="#ff00ff"/>
<circle cx="612.7" cy="248.0" r="1.8" fill="#ff00ff"/>
<circle cx="612.7" cy="293.9" r="1.8" fill="#ff00ff"/>
<circle cx="612.7" cy="293.0" r="1.8" fill="#ff00ff"/>
<circle cx="612.7" cy="292.1" r="1.8" fill="#ff00ff"/>
<circle cx="612.7" cy="291.2" r="1.8" fill="#ff00ff"/>
<circle cx="612.7" cy="290.3" r="1.8" fill="#ff00ff"/>
<circle cx="612.7" cy="289.4" r="1.8" fill="#ff00ff"/>
<circle cx="612.7" cy="288.5" r="1.8" fill="#ff00ff"/>
<circle cx="612.7" cy="287.6" r="1.8" fill="#ff00ff"/>
<circle cx="612.7" cy="286.7" r="1.8" fill="#ff00ff"/>
<circle cx="612.7" cy="285.8" r="1.8" fill="#ff00ff"/>
<circle cx="612.7" cy="284.9" r="1.8" fill="#ff00ff"/>
<circle cx="612.7" cy="284.0" r="1.8" fill="#ff00ff"/>
<circle cx="612.7" cy="283.1" r="1.8" fill="#ff00ff"/>
<circle cx="612.7" cy="282.2" r="1.8" fill="#ff00ff"/>
<circle cx="612.7" cy="281.3" r="1.8" fill="#ff00ff"/>
<circle cx="612.7" cy="280.4" r="1.8" fill="#ff00ff"/>
<circle cx="612.7" cy="279.5" r="1.8" fill="#ff00ff"/>
<circle cx="612.7" cy="278.6" r="1.8" fill="#ff00ff"/>
<circle cx="612.7" cy="277.7" r="1.8" fill="#ff00ff"/>
<circle cx="612.7" cy="276.8" r="1.8" fill="#ff00ff"/>
<circle cx="612.7" cy="275.9" r="1.8" fill="#ff00ff"/>
<circle cx="612.7" cy="275.0" r="1.8" fill="#ff00ff"/>
<circle cx="612.7" cy="274.1" r="1.8" fill="#ff00ff"/>
<circle cx="612.7" cy="273.2" r="1.8" fill="#ff00ff"/>
<circle cx="612.7" cy="272.3" r="1.8" fill="#ff00ff"/>
<circle cx="612.7" cy="271.4" r="1.8" fill="#ff00ff"/>
<circle cx="612.7" cy="270.5" r="1.8" fill="#ff00ff"/>
<circle cx="612.7" cy="269.6" r="1.8" fill="#ff00ff"/>
<circle cx="612.7" cy="268.7" r="1.8" fill="#ff00ff"/>
<circle cx="612.7" cy="267.8" r="1.8" fill="#ff00ff"/>
<circle cx="612.7" cy="266.9" r="1.8" fill="#ff00ff"/>
<circle cx="612.7" cy="266.0" r="1.8" fill="#ff00ff"/>
<circle cx="612.7" cy="265.1" r="1.8" fill="#ff00ff"/>
<circle cx="612.7" cy="264.2" r="1.8" fill="#ff00ff"/>
<circle cx="612.7" cy="263.3" r="1.8" fill="#ff00ff"/>
<circle cx="612.7" cy="262.4" r="1.8" fill="#ff00ff"/>
<circle cx="612.7" cy="261.5" r="1.8" fill="#ff00ff"/>
<circle cx="612.7" cy="260.6" r="1.8" fill="#ff00ff"/>
<circle cx="612.7" cy="259.7" r="1.8" fill="#ff00ff"/>
<circle cx="612.7" cy="258.8" r="1.8" fill="#ff00ff"/>
<circle cx="612.7" cy="257.9" r="1.8" fill="#ff00ff"/>
<circle cx="612.7" cy="257.0" r="1.8" fill="#ff00ff"/>
<circle cx="612.7" cy="256.1" r="1.8" fill="#ff00ff"/>
<circle cx="612.7" cy="255.2" r="1.8" fill="#ff00ff"/>
<circle cx="612.7" cy="254.3" r="1.8" fill="#ff00ff"/>
<circle cx="612.7" cy="253.4" r="1.8" fill="#ff00ff"/>
<circle cx="612.7" cy="252.5" r="1.8" fill="#ff00ff"/>
<circle cx="612.7" cy="251.6" r="1.8" fill="#ff00ff"/>
<circle cx="612.7" cy="250.7" r="1.8" fill="#ff00ff"/>
<circle cx="612.7" cy="249.8" r="1.8" fill="#ff00ff"/>
<circle cx="612.7" cy="248.9" r="1.8" fill="#ff00ff"/>
<circle cx="114.8" cy="243.0" r="1.8" fill="#ff00ff"/>
<circle cx="114.8" cy="244.7" r="1.8" fill="#ff00ff"/>
<circle cx="114.8" cy="246.4" r="1.8" fill="#ff00ff"/>
<circle cx="114.8" cy="254.2" r="1.8" fill="#ff00ff"/>
<circle cx="114.8" cy="256.4" r="1.8" fill="#ff00ff"/>
<circle cx="114.8" cy="260.3" r="1.8" fill="#ff00ff"/>
<circle cx="114.8" cy="262.6" r="1.8" fill="#ff00ff"/>
<circle cx="114.8" cy="268.7" r="1.8" fill="#ff00ff"/>
<circle cx="114.8" cy="285.5" r="1.8" fill="#ff00ff"/>
<circle cx="114.8" cy="287.7" r="1.8" fill="#ff00ff"/>
<circle cx="114.8" cy="289.4" r="1.8" fill="#ff00ff"/>
<circle cx="328.4" cy="234.6" r="1.8" fill="#838b8b"/>
<circle cx="328.4" cy="236.3" r="1.8" fill="#838b8b"/>
<circle cx="328.4" cy="238.5" r="1.8" fill="#838b8b"/>
<circle cx="328.4" cy="258.1" r="1.8" fill="#838b8b"/>
<circle cx="328.4" cy="260.9" r="1.8" fill="#838b8b"/>
<circle cx="328.4" cy="264.2" r="1.8" fill="#838b8b"/>
<circle cx="328.4" cy="278.8" r="1.8" fill="#838b8b"/>
<circle cx="328.4" cy="287.7" r="1.8" fill="#838b8b"/>
<text x="3.02" y="30.77" font-size="33.59" textLength="16.79" lengthAdjust="spacingAndGlyphs" font-weight="bold">a</text>
<text x="71.24" y="46.90" font-size="23.98" textLength="36.54" lengthAdjust="spacingAndGlyphs">M1</text>
<text transform="translate(33.50,0) rotate(-90)" x="-230.33" y="0.67" font-size="20.40" textLength="15.75" lengthAdjust="spacingAndGlyphs">−</text>
<text transform="translate(33.50,0) rotate(-90)" x="-211.30" y="0.00" font-size="20.40" textLength="27.63" lengthAdjust="spacingAndGlyphs">log</text>
<text transform="translate(37.80,0) rotate(-90)" x="-184.43" y="0.00" font-size="11.90" textLength="16.51" lengthAdjust="spacingAndGlyphs">10</text>
<text transform="translate(32.40,0) rotate(-90)" x="-167.72" y="0.00" font-size="26.10" textLength="9.80" lengthAdjust="spacingAndGlyphs">(</text>
<text transform="translate(33.50,0) rotate(-90)" x="-157.56" y="0.00" font-size="20.40" textLength="11.96" lengthAdjust="spacingAndGlyphs" font-style="italic">p</text>
<text transform="translate(32.40,0) rotate(-90)" x="-142.53" y="0.00" font-size="26.10" textLength="7.66" lengthAdjust="spacingAndGlyphs">)</text>
<text x="307.84" y="365.80" font-size="20.29" textLength="125.08" lengthAdjust="spacingAndGlyphs">Chromosome</text>
<text x="615.27" y="52.86" font-size="14.83" textLength="36.59" lengthAdjust="spacingAndGlyphs">APOE</text>
<text x="122.62" y="242.47" font-size="12.94" textLength="149.64" lengthAdjust="spacingAndGlyphs">CELSR2/PSRC1/SORT1</text>
<text x="329.70" y="233.30" font-size="12.21" textLength="25.33" lengthAdjust="spacingAndGlyphs">LPA</text>
<line x1="774.8" y1="288.55" x2="1364.9" y2="288.55" stroke="#ffc6c6" stroke-width="1.15"/>
<line x1="774.80" y1="63.7" x2="774.80" y2="327.4" stroke="#8c8c8c" stroke-width="1.2"/>
<line x1="768.8" y1="326.90" x2="774.8" y2="326.90" stroke="#d4d4d4" stroke-width="1.2"/>
<text x="750.59" y="333.91" font-size="19.77" textLength="12.06" lengthAdjust="spacingAndGlyphs">0</text>
<line x1="768.8" y1="274.36" x2="774.8" y2="274.36" stroke="#d4d4d4" stroke-width="1.2"/>
<text x="738.53" y="281.37" font-size="19.77" textLength="24.11" lengthAdjust="spacingAndGlyphs">10</text>
<line x1="768.8" y1="221.82" x2="774.8" y2="221.82" stroke="#d4d4d4" stroke-width="1.2"/>
<text x="738.53" y="228.83" font-size="19.77" textLength="24.11" lengthAdjust="spacingAndGlyphs">20</text>
<line x1="768.8" y1="169.28" x2="774.8" y2="169.28" stroke="#d4d4d4" stroke-width="1.2"/>
<text x="738.53" y="176.29" font-size="19.77" textLength="24.11" lengthAdjust="spacingAndGlyphs">30</text>
<line x1="768.8" y1="116.74" x2="774.8" y2="116.74" stroke="#d4d4d4" stroke-width="1.2"/>
<text x="738.53" y="123.75" font-size="19.77" textLength="24.11" lengthAdjust="spacingAndGlyphs">40</text>
<line x1="768.8" y1="64.20" x2="774.8" y2="64.20" stroke="#d4d4d4" stroke-width="1.2"/>
<text x="738.53" y="71.21" font-size="19.77" textLength="24.11" lengthAdjust="spacingAndGlyphs">50</text>
<line x1="815.89" y1="327.5" x2="815.89" y2="332.7" stroke="#8c8c8c" stroke-width="1.1"/>
<text x="809.57" y="350.10" font-size="19.77" textLength="12.05" lengthAdjust="spacingAndGlyphs">1</text>
<line x1="863.36" y1="327.5" x2="863.36" y2="332.7" stroke="#8c8c8c" stroke-width="1.1"/>
<text x="857.33" y="350.10" font-size="19.77" textLength="12.05" lengthAdjust="spacingAndGlyphs">2</text>
<line x1="905.96" y1="327.5" x2="905.96" y2="332.7" stroke="#8c8c8c" stroke-width="1.1"/>
<text x="900.00" y="349.91" font-size="19.77" textLength="12.05" lengthAdjust="spacingAndGlyphs">3</text>
<line x1="943.24" y1="327.5" x2="943.24" y2="332.7" stroke="#8c8c8c" stroke-width="1.1"/>
<text x="937.29" y="350.10" font-size="19.77" textLength="12.05" lengthAdjust="spacingAndGlyphs">4</text>
<line x1="978.56" y1="327.5" x2="978.56" y2="332.7" stroke="#8c8c8c" stroke-width="1.1"/>
<text x="972.56" y="349.91" font-size="19.77" textLength="12.05" lengthAdjust="spacingAndGlyphs">5</text>
<line x1="1012.94" y1="327.5" x2="1012.94" y2="332.7" stroke="#8c8c8c" stroke-width="1.1"/>
<text x="1006.84" y="349.91" font-size="19.77" textLength="12.05" lengthAdjust="spacingAndGlyphs">6</text>
<line x1="1044.79" y1="327.5" x2="1044.79" y2="332.7" stroke="#8c8c8c" stroke-width="1.1"/>
<text x="1038.75" y="350.10" font-size="19.77" textLength="12.05" lengthAdjust="spacingAndGlyphs">7</text>
<line x1="1074.74" y1="327.5" x2="1074.74" y2="332.7" stroke="#8c8c8c" stroke-width="1.1"/>
<text x="1068.71" y="349.91" font-size="19.77" textLength="12.05" lengthAdjust="spacingAndGlyphs">8</text>
<line x1="1101.78" y1="327.5" x2="1101.78" y2="332.7" stroke="#8c8c8c" stroke-width="1.1"/>
<line x1="1128.98" y1="327.5" x2="1128.98" y2="332.7" stroke="#8c8c8c" stroke-width="1.1"/>
<text x="1116.53" y="349.91" font-size="19.77" textLength="24.10" lengthAdjust="spacingAndGlyphs">10</text>
<line x1="1155.29" y1="327.5" x2="1155.29" y2="332.7" stroke="#8c8c8c" stroke-width="1.1"/>
<line x1="1181.66" y1="327.5" x2="1181.66" y2="332.7" stroke="#8c8c8c" stroke-width="1.1"/>
<text x="1169.33" y="350.10" font-size="19.77" textLength="24.10" lengthAdjust="spacingAndGlyphs">12</text>
<line x1="1206.96" y1="327.5" x2="1206.96" y2="332.7" stroke="#8c8c8c" stroke-width="1.1"/>
<line x1="1228.29" y1="327.5" x2="1228.29" y2="332.7" stroke="#8c8c8c" stroke-width="1.1"/>
<text x="1215.74" y="350.10" font-size="19.77" textLength="24.10" lengthAdjust="spacingAndGlyphs">14</text>
<line x1="1247.66" y1="327.5" x2="1247.66" y2="332.7" stroke="#8c8c8c" stroke-width="1.1"/>
<line x1="1265.97" y1="327.5" x2="1265.97" y2="332.7" stroke="#8c8c8c" stroke-width="1.1"/>
<line x1="1281.81" y1="327.5" x2="1281.81" y2="332.7" stroke="#8c8c8c" stroke-width="1.1"/>
<text x="1269.48" y="350.10" font-size="19.77" textLength="24.10" lengthAdjust="spacingAndGlyphs">17</text>
<line x1="1297.82" y1="327.5" x2="1297.82" y2="332.7" stroke="#8c8c8c" stroke-width="1.1"/>
<line x1="1310.81" y1="327.5" x2="1310.81" y2="332.7" stroke="#8c8c8c" stroke-width="1.1"/>
<line x1="1322.34" y1="327.5" x2="1322.34" y2="332.7" stroke="#8c8c8c" stroke-width="1.1"/>
<line x1="1334.26" y1="327.5" x2="1334.26" y2="332.7" stroke="#8c8c8c" stroke-width="1.1"/>
<text x="1322.20" y="350.10" font-size="19.77" textLength="24.10" lengthAdjust="spacingAndGlyphs">21</text>
<line x1="1344.84" y1="327.5" x2="1344.84" y2="332.7" stroke="#8c8c8c" stroke-width="1.1"/>
<path d="M789.5,327.7 L789.5,306.1 L790.5,306.4 L791.5,303.5 L792.6,304.4 L793.6,305.2 L794.6,305.4 L795.6,306.3 L796.6,307.0 L797.7,306.3 L798.7,306.8 L799.7,306.0 L800.7,306.4 L801.7,307.9 L802.7,308.4 L803.8,308.2 L804.8,309.1 L805.8,308.0 L806.8,307.6 L807.8,306.3 L808.9,307.1 L809.9,307.0 L810.9,306.3 L811.0,306.3 L811.2,306.3 L811.4,306.3 L811.6,306.3 L811.8,306.3 L812.0,305.8 L812.2,305.8 L812.4,305.8 L812.6,305.8 L812.8,305.8 L813.0,306.9 L813.2,306.9 L813.4,306.9 L813.6,306.9 L813.8,306.9 L814.0,305.5 L814.2,305.5 L814.4,305.5 L814.6,305.5 L814.8,305.5 L815.0,306.4 L815.2,306.4 L815.4,306.4 L815.6,306.4 L815.8,306.4 L816.0,305.9 L816.2,307.9 L816.4,309.9 L816.6,311.8 L816.6,327.7 L816.6,327.7 L816.8,327.7 L817.0,327.7 L817.2,327.7 L817.4,327.7 L817.4,306.0 L817.4,305.9 L817.6,304.8 L817.8,304.6 L818.0,304.6 L818.2,305.1 L818.4,305.1 L818.6,305.1 L818.8,305.1 L819.0,305.1 L819.2,306.0 L819.4,306.0 L819.6,306.0 L819.8,306.0 L820.0,306.0 L820.2,305.6 L820.4,305.6 L820.6,305.6 L820.8,305.6 L821.0,305.6 L821.2,303.3 L821.4,303.3 L821.6,303.3 L821.8,303.3 L822.0,303.3 L822.2,304.6 L822.4,304.6 L822.6,304.6 L822.8,304.6 L823.1,303.4 L824.1,303.0 L825.2,304.2 L826.2,303.6 L827.2,303.0 L828.2,304.1 L829.2,304.9 L830.3,304.0 L831.3,304.1 L832.3,302.7 L833.3,303.3 L834.3,305.0 L835.4,305.0 L836.4,305.9 L837.4,304.8 L838.4,304.3 L838.4,327.7 Z" fill="#ff00ff"/>
<circle cx="808.2" cy="305.0" r="1.8" fill="#ff00ff"/>
<circle cx="810.9" cy="304.6" r="1.8" fill="#ff00ff"/>
<circle cx="795.0" cy="302.1" r="1.8" fill="#ff00ff"/>
<circle cx="836.7" cy="304.0" r="1.8" fill="#ff00ff"/>
<circle cx="809.5" cy="304.6" r="1.8" fill="#ff00ff"/>
<circle cx="833.7" cy="299.9" r="1.8" fill="#ff00ff"/>
<circle cx="809.4" cy="306.0" r="1.8" fill="#ff00ff"/>
<circle cx="795.4" cy="303.9" r="1.8" fill="#ff00ff"/>
<circle cx="807.0" cy="306.2" r="1.8" fill="#ff00ff"/>
<circle cx="799.8" cy="303.5" r="1.8" fill="#ff00ff"/>
<circle cx="792.7" cy="299.2" r="1.8" fill="#ff00ff"/>
<circle cx="820.7" cy="304.5" r="1.8" fill="#ff00ff"/>
<circle cx="800.3" cy="305.6" r="1.8" fill="#ff00ff"/>
<circle cx="809.9" cy="306.2" r="1.8" fill="#ff00ff"/>
<circle cx="829.0" cy="301.2" r="1.8" fill="#ff00ff"/>
<circle cx="829.9" cy="303.3" r="1.8" fill="#ff00ff"/>
<circle cx="813.9" cy="303.0" r="1.8" fill="#ff00ff"/>
<circle cx="836.5" cy="305.4" r="1.8" fill="#ff00ff"/>
<circle cx="825.1" cy="298.2" r="1.8" fill="#ff00ff"/>
<circle cx="820.5" cy="304.6" r="1.8" fill="#ff00ff"/>
<path d="M837.8,327.7 L837.8,305.1 L838.8,306.7 L839.8,307.6 L840.8,307.8 L841.9,305.8 L842.9,305.5 L843.9,306.0 L844.9,306.3 L845.9,305.3 L846.9,304.3 L847.9,305.4 L848.9,305.2 L849.9,303.3 L851.0,303.7 L852.0,304.7 L853.0,304.7 L854.0,304.9 L855.0,304.5 L856.0,304.6 L857.0,305.4 L858.0,305.5 L859.0,305.1 L860.1,305.8 L861.1,305.5 L862.1,306.2 L863.1,304.8 L864.1,303.7 L865.1,305.2 L866.1,304.5 L867.1,304.8 L868.1,304.9 L869.1,305.3 L870.2,305.1 L871.2,304.4 L872.2,305.8 L873.2,304.8 L874.2,305.2 L875.2,306.2 L876.2,305.9 L877.2,305.1 L878.2,305.3 L879.3,305.1 L880.3,305.5 L881.3,305.9 L882.3,304.8 L883.3,305.8 L884.3,304.8 L885.3,304.7 L885.3,327.7 Z" fill="#838b8b"/>
<circle cx="866.2" cy="301.2" r="1.8" fill="#838b8b"/>
<circle cx="840.6" cy="306.7" r="1.8" fill="#838b8b"/>
<circle cx="873.4" cy="300.5" r="1.8" fill="#838b8b"/>
<circle cx="883.2" cy="304.7" r="1.8" fill="#838b8b"/>
<circle cx="877.0" cy="305.5" r="1.8" fill="#838b8b"/>
<circle cx="845.5" cy="302.6" r="1.8" fill="#838b8b"/>
<circle cx="854.5" cy="301.3" r="1.8" fill="#838b8b"/>
<circle cx="839.7" cy="302.5" r="1.8" fill="#838b8b"/>
<circle cx="856.2" cy="303.4" r="1.8" fill="#838b8b"/>
<circle cx="875.0" cy="303.8" r="1.8" fill="#838b8b"/>
<circle cx="879.1" cy="302.6" r="1.8" fill="#838b8b"/>
<circle cx="877.1" cy="304.9" r="1.8" fill="#838b8b"/>
<circle cx="862.1" cy="305.3" r="1.8" fill="#838b8b"/>
<circle cx="846.4" cy="303.1" r="1.8" fill="#838b8b"/>
<circle cx="876.6" cy="301.2" r="1.8" fill="#838b8b"/>
<circle cx="875.7" cy="305.9" r="1.8" fill="#838b8b"/>
<circle cx="882.7" cy="303.7" r="1.8" fill="#838b8b"/>
<circle cx="878.2" cy="302.2" r="1.8" fill="#838b8b"/>
<circle cx="873.2" cy="301.4" r="1.8" fill="#838b8b"/>
<circle cx="848.0" cy="302.5" r="1.8" fill="#838b8b"/>
<circle cx="846.5" cy="302.5" r="1.8" fill="#838b8b"/>
<circle cx="849.8" cy="304.2" r="1.8" fill="#838b8b"/>
<path d="M884.7,327.7 L884.7,305.2 L885.7,305.5 L886.8,307.1 L887.8,307.0 L888.8,307.2 L889.8,307.1 L890.9,306.5 L891.9,306.3 L892.9,304.9 L893.9,305.6 L894.9,305.1 L896.0,306.8 L897.0,306.1 L898.0,305.7 L899.0,305.3 L900.1,304.6 L901.1,303.5 L902.1,305.1 L903.1,306.3 L904.1,305.5 L905.2,305.6 L906.2,306.4 L907.2,304.2 L908.2,305.2 L909.2,305.7 L910.3,307.4 L911.3,306.3 L912.3,307.1 L913.3,306.8 L914.4,305.7 L915.4,305.7 L916.4,305.4 L917.4,304.9 L918.4,305.6 L919.5,304.9 L920.5,305.2 L921.5,304.7 L922.5,304.6 L923.6,305.4 L923.6,327.7 Z" fill="#ff00ff"/>
<circle cx="903.3" cy="304.7" r="1.8" fill="#ff00ff"/>
<circle cx="901.1" cy="300.1" r="1.8" fill="#ff00ff"/>
<circle cx="897.2" cy="301.7" r="1.8" fill="#ff00ff"/>
<circle cx="905.6" cy="300.2" r="1.8" fill="#ff00ff"/>
<circle cx="899.7" cy="300.0" r="1.8" fill="#ff00ff"/>
<circle cx="887.7" cy="303.7" r="1.8" fill="#ff00ff"/>
<circle cx="894.0" cy="304.5" r="1.8" fill="#ff00ff"/>
<circle cx="890.8" cy="306.9" r="1.8" fill="#ff00ff"/>
<circle cx="891.2" cy="303.9" r="1.8" fill="#ff00ff"/>
<circle cx="888.0" cy="301.5" r="1.8" fill="#ff00ff"/>
<circle cx="890.3" cy="306.9" r="1.8" fill="#ff00ff"/>
<circle cx="903.4" cy="305.2" r="1.8" fill="#ff00ff"/>
<circle cx="888.7" cy="303.7" r="1.8" fill="#ff00ff"/>
<circle cx="898.4" cy="300.9" r="1.8" fill="#ff00ff"/>
<circle cx="907.1" cy="301.8" r="1.8" fill="#ff00ff"/>
<circle cx="902.7" cy="304.5" r="1.8" fill="#ff00ff"/>
<circle cx="910.8" cy="306.7" r="1.8" fill="#ff00ff"/>
<path d="M923.0,327.7 L923.0,305.6 L924.0,305.3 L925.0,305.0 L926.0,304.6 L927.0,304.5 L928.0,306.0 L929.0,305.1 L930.0,304.8 L931.0,304.0 L932.0,305.1 L933.0,305.9 L934.0,303.7 L935.0,304.0 L936.0,305.0 L937.0,305.3 L938.0,305.0 L939.0,303.8 L940.1,303.6 L941.1,304.5 L942.1,305.5 L943.1,304.6 L944.1,304.4 L945.1,303.9 L946.1,303.5 L947.1,304.6 L948.1,304.5 L949.1,305.2 L950.1,304.1 L951.1,305.5 L952.1,305.1 L953.1,304.0 L954.1,304.9 L955.1,305.8 L956.1,305.9 L957.2,305.8 L958.2,306.1 L959.2,305.8 L960.2,305.2 L960.2,327.7 Z" fill="#838b8b"/>
<circle cx="958.0" cy="303.0" r="1.8" fill="#838b8b"/>
<circle cx="944.3" cy="303.9" r="1.8" fill="#838b8b"/>
<circle cx="928.8" cy="302.9" r="1.8" fill="#838b8b"/>
<circle cx="949.6" cy="301.3" r="1.8" fill="#838b8b"/>
<circle cx="935.0" cy="302.5" r="1.8" fill="#838b8b"/>
<circle cx="951.0" cy="301.0" r="1.8" fill="#838b8b"/>
<circle cx="948.9" cy="301.2" r="1.8" fill="#838b8b"/>
<circle cx="932.4" cy="303.2" r="1.8" fill="#838b8b"/>
<circle cx="946.7" cy="301.3" r="1.8" fill="#838b8b"/>
<circle cx="933.4" cy="302.7" r="1.8" fill="#838b8b"/>
<circle cx="952.1" cy="304.9" r="1.8" fill="#838b8b"/>
<circle cx="929.9" cy="301.8" r="1.8" fill="#838b8b"/>
<circle cx="929.9" cy="303.8" r="1.8" fill="#838b8b"/>
<circle cx="927.9" cy="302.1" r="1.8" fill="#838b8b"/>
<circle cx="930.5" cy="302.4" r="1.8" fill="#838b8b"/>
<circle cx="927.3" cy="302.2" r="1.8" fill="#838b8b"/>
<circle cx="939.7" cy="302.8" r="1.8" fill="#838b8b"/>
<path d="M959.6,327.7 L959.6,303.9 L960.6,304.8 L961.6,304.2 L962.6,303.4 L963.7,303.3 L964.7,303.7 L965.7,303.4 L966.7,303.3 L967.8,303.0 L968.8,304.1 L969.8,302.9 L970.8,303.7 L971.9,304.1 L972.9,303.1 L973.9,303.4 L974.9,304.1 L976.0,303.6 L977.0,304.4 L978.0,303.3 L979.0,303.2 L980.1,303.8 L981.1,303.9 L982.1,302.2 L983.1,303.9 L984.2,305.5 L985.2,304.8 L986.2,304.6 L987.2,305.1 L988.3,303.3 L989.3,301.8 L990.3,301.8 L991.3,303.1 L992.4,303.5 L993.4,303.4 L994.4,304.6 L995.4,305.2 L995.4,327.7 Z" fill="#ff00ff"/>
<circle cx="973.8" cy="302.1" r="1.8" fill="#ff00ff"/>
<circle cx="987.1" cy="300.6" r="1.8" fill="#ff00ff"/>
<circle cx="966.6" cy="302.5" r="1.8" fill="#ff00ff"/>
<circle cx="962.4" cy="300.0" r="1.8" fill="#ff00ff"/>
<circle cx="987.9" cy="302.8" r="1.8" fill="#ff00ff"/>
<circle cx="976.0" cy="298.4" r="1.8" fill="#ff00ff"/>
<circle cx="966.5" cy="301.9" r="1.8" fill="#ff00ff"/>
<circle cx="969.6" cy="304.0" r="1.8" fill="#ff00ff"/>
<circle cx="986.0" cy="303.6" r="1.8" fill="#ff00ff"/>
<circle cx="971.2" cy="299.6" r="1.8" fill="#ff00ff"/>
<circle cx="982.9" cy="301.9" r="1.8" fill="#ff00ff"/>
<circle cx="963.7" cy="300.5" r="1.8" fill="#ff00ff"/>
<circle cx="976.5" cy="303.2" r="1.8" fill="#ff00ff"/>
<circle cx="973.9" cy="301.2" r="1.8" fill="#ff00ff"/>
<circle cx="963.5" cy="301.5" r="1.8" fill="#ff00ff"/>
<circle cx="990.6" cy="300.4" r="1.8" fill="#ff00ff"/>
<circle cx="985.3" cy="303.8" r="1.8" fill="#ff00ff"/>
<circle cx="985.3" cy="301.2" r="1.8" fill="#ff00ff"/>
<path d="M994.8,327.7 L994.8,305.3 L995.9,304.7 L996.9,305.6 L997.9,305.1 L998.9,305.2 L999.9,305.9 L1000.9,304.2 L1002.0,304.6 L1003.0,305.3 L1004.0,305.6 L1005.0,305.2 L1006.0,305.2 L1007.0,304.6 L1008.1,305.4 L1009.1,305.2 L1010.1,305.6 L1011.1,306.0 L1012.1,305.1 L1013.1,305.8 L1014.2,306.9 L1015.2,305.6 L1016.2,305.9 L1017.2,305.2 L1018.2,304.8 L1019.3,304.6 L1020.3,304.9 L1021.3,303.8 L1022.3,305.3 L1023.3,304.4 L1024.3,304.9 L1025.4,304.8 L1026.4,305.4 L1027.4,304.7 L1028.4,304.6 L1028.4,327.7 Z" fill="#838b8b"/>
<circle cx="1002.8" cy="303.5" r="1.8" fill="#838b8b"/>
<circle cx="1001.1" cy="304.1" r="1.8" fill="#838b8b"/>
<circle cx="1024.8" cy="297.3" r="1.8" fill="#838b8b"/>
<circle cx="1003.3" cy="302.0" r="1.8" fill="#838b8b"/>
<circle cx="1014.2" cy="305.8" r="1.8" fill="#838b8b"/>
<circle cx="999.7" cy="300.7" r="1.8" fill="#838b8b"/>
<circle cx="996.4" cy="302.2" r="1.8" fill="#838b8b"/>
<circle cx="1018.3" cy="302.7" r="1.8" fill="#838b8b"/>
<circle cx="1011.2" cy="301.2" r="1.8" fill="#838b8b"/>
<circle cx="1010.5" cy="304.0" r="1.8" fill="#838b8b"/>
<circle cx="1012.0" cy="305.8" r="1.8" fill="#838b8b"/>
<circle cx="1003.7" cy="304.9" r="1.8" fill="#838b8b"/>
<circle cx="1001.2" cy="303.4" r="1.8" fill="#838b8b"/>
<circle cx="998.0" cy="303.0" r="1.8" fill="#838b8b"/>
<circle cx="1013.3" cy="305.2" r="1.8" fill="#838b8b"/>
<circle cx="1011.7" cy="305.0" r="1.8" fill="#838b8b"/>
<path d="M1027.8,327.7 L1027.8,303.2 L1028.8,303.9 L1029.9,304.9 L1030.9,305.3 L1031.9,304.6 L1032.9,303.5 L1033.9,303.4 L1035.0,303.3 L1036.0,304.1 L1037.0,303.2 L1038.0,302.9 L1039.1,303.0 L1040.1,303.6 L1041.1,302.9 L1042.1,302.6 L1043.2,302.5 L1044.2,303.6 L1045.2,303.6 L1046.2,302.2 L1047.3,302.3 L1048.3,302.5 L1049.3,304.3 L1050.3,304.9 L1051.3,303.8 L1052.4,304.3 L1053.4,304.0 L1054.4,303.1 L1055.4,302.9 L1056.5,302.7 L1057.5,302.9 L1058.5,305.4 L1059.5,304.6 L1059.5,327.7 Z" fill="#ff00ff"/>
<circle cx="1050.5" cy="303.7" r="1.8" fill="#ff00ff"/>
<circle cx="1057.1" cy="301.9" r="1.8" fill="#ff00ff"/>
<circle cx="1050.7" cy="301.9" r="1.8" fill="#ff00ff"/>
<circle cx="1051.2" cy="304.7" r="1.8" fill="#ff00ff"/>
<circle cx="1058.0" cy="299.4" r="1.8" fill="#ff00ff"/>
<circle cx="1051.7" cy="303.5" r="1.8" fill="#ff00ff"/>
<circle cx="1031.9" cy="302.2" r="1.8" fill="#ff00ff"/>
<circle cx="1040.1" cy="301.6" r="1.8" fill="#ff00ff"/>
<circle cx="1044.4" cy="300.4" r="1.8" fill="#ff00ff"/>
<circle cx="1051.7" cy="301.4" r="1.8" fill="#ff00ff"/>
<circle cx="1043.2" cy="301.0" r="1.8" fill="#ff00ff"/>
<circle cx="1043.5" cy="299.7" r="1.8" fill="#ff00ff"/>
<circle cx="1052.3" cy="297.4" r="1.8" fill="#ff00ff"/>
<circle cx="1045.0" cy="302.1" r="1.8" fill="#ff00ff"/>
<path d="M1058.9,327.7 L1058.9,303.7 L1059.9,303.9 L1061.0,304.1 L1062.0,303.0 L1063.0,302.8 L1064.0,303.6 L1065.0,302.2 L1066.1,303.2 L1067.1,301.8 L1068.1,302.6 L1069.1,303.4 L1070.1,303.5 L1071.1,302.0 L1072.2,302.2 L1073.2,302.5 L1074.2,303.9 L1075.2,303.4 L1076.2,303.3 L1077.2,303.4 L1078.3,303.7 L1079.3,304.5 L1080.3,302.7 L1081.3,303.5 L1082.3,302.7 L1083.3,302.3 L1084.4,302.3 L1085.4,302.4 L1086.4,302.1 L1087.4,302.6 L1087.4,327.7 Z" fill="#838b8b"/>
<circle cx="1062.7" cy="302.9" r="1.8" fill="#838b8b"/>
<circle cx="1062.6" cy="302.2" r="1.8" fill="#838b8b"/>
<circle cx="1079.5" cy="296.6" r="1.8" fill="#838b8b"/>
<circle cx="1073.6" cy="298.9" r="1.8" fill="#838b8b"/>
<circle cx="1063.7" cy="299.0" r="1.8" fill="#838b8b"/>
<circle cx="1062.4" cy="297.0" r="1.8" fill="#838b8b"/>
<circle cx="1068.3" cy="302.2" r="1.8" fill="#838b8b"/>
<circle cx="1082.4" cy="298.8" r="1.8" fill="#838b8b"/>
<circle cx="1079.3" cy="296.9" r="1.8" fill="#838b8b"/>
<circle cx="1082.5" cy="297.2" r="1.8" fill="#838b8b"/>
<circle cx="1065.4" cy="301.6" r="1.8" fill="#838b8b"/>
<circle cx="1073.6" cy="297.9" r="1.8" fill="#838b8b"/>
<path d="M1086.8,327.7 L1086.8,299.5 L1087.8,299.2 L1088.9,298.1 L1089.9,298.7 L1090.9,298.4 L1092.0,300.1 L1093.0,299.2 L1094.0,299.9 L1094.2,299.9 L1094.4,299.9 L1094.6,299.9 L1094.8,299.9 L1095.0,299.9 L1095.2,299.8 L1095.4,299.8 L1095.6,299.8 L1095.8,299.8 L1096.0,299.8 L1096.2,299.6 L1096.4,300.0 L1096.6,300.5 L1096.8,301.0 L1097.0,301.5 L1097.2,302.0 L1097.4,302.6 L1097.6,303.1 L1097.8,303.7 L1098.0,304.3 L1098.2,305.0 L1098.4,305.7 L1098.6,306.5 L1098.8,307.3 L1099.0,308.3 L1099.2,309.4 L1099.4,310.7 L1099.6,312.6 L1099.7,314.5 L1099.7,327.7 L1099.8,327.7 L1100.0,327.7 L1100.2,327.7 L1100.4,327.7 L1100.6,327.7 L1100.7,327.7 L1100.7,310.7 L1100.8,310.5 L1101.0,310.0 L1101.2,309.5 L1101.4,309.0 L1101.6,308.5 L1101.8,308.0 L1102.0,307.5 L1102.2,307.0 L1102.4,306.5 L1102.6,306.0 L1102.8,305.5 L1103.0,305.0 L1103.2,304.5 L1103.4,304.0 L1103.6,303.5 L1103.8,303.0 L1104.0,302.7 L1104.2,302.7 L1104.4,304.0 L1104.6,304.0 L1104.8,304.0 L1105.0,304.0 L1105.2,304.0 L1105.4,304.0 L1105.6,304.7 L1105.8,304.7 L1106.0,304.7 L1106.5,303.3 L1107.5,304.1 L1108.5,303.4 L1109.6,303.0 L1110.6,304.7 L1111.6,304.5 L1112.7,304.6 L1113.7,304.3 L1114.7,305.3 L1114.7,327.7 Z" fill="#ff00ff"/>
<circle cx="1107.9" cy="303.4" r="1.8" fill="#ff00ff"/>
<circle cx="1107.0" cy="300.5" r="1.8" fill="#ff00ff"/>
<circle cx="1088.8" cy="297.9" r="1.8" fill="#ff00ff"/>
<circle cx="1112.9" cy="302.7" r="1.8" fill="#ff00ff"/>
<circle cx="1108.9" cy="300.6" r="1.8" fill="#ff00ff"/>
<circle cx="1109.2" cy="302.5" r="1.8" fill="#ff00ff"/>
<path d="M1114.1,327.7 L1114.1,301.9 L1115.2,301.2 L1116.2,302.3 L1117.2,302.9 L1118.2,302.1 L1119.2,301.3 L1120.3,301.1 L1121.3,301.4 L1122.3,302.7 L1123.3,303.0 L1124.3,303.9 L1125.4,303.7 L1126.4,302.1 L1127.4,300.9 L1128.4,301.8 L1129.5,301.5 L1130.5,300.8 L1131.5,302.3 L1132.5,303.4 L1133.5,303.4 L1134.6,304.6 L1135.6,303.0 L1136.6,302.8 L1137.6,302.8 L1138.7,302.5 L1139.7,302.0 L1140.7,302.2 L1140.7,327.7 Z" fill="#838b8b"/>
<circle cx="1125.7" cy="301.4" r="1.8" fill="#838b8b"/>
<circle cx="1119.7" cy="299.2" r="1.8" fill="#838b8b"/>
<circle cx="1127.5" cy="300.3" r="1.8" fill="#838b8b"/>
<circle cx="1132.5" cy="298.9" r="1.8" fill="#838b8b"/>
<circle cx="1122.7" cy="298.7" r="1.8" fill="#838b8b"/>
<circle cx="1128.2" cy="299.5" r="1.8" fill="#838b8b"/>
<circle cx="1134.5" cy="297.3" r="1.8" fill="#838b8b"/>
<circle cx="1119.5" cy="296.4" r="1.8" fill="#838b8b"/>
<circle cx="1127.0" cy="298.7" r="1.8" fill="#838b8b"/>
<circle cx="1125.0" cy="300.8" r="1.8" fill="#838b8b"/>
<circle cx="1135.7" cy="297.7" r="1.8" fill="#838b8b"/>
<circle cx="1116.4" cy="301.8" r="1.8" fill="#838b8b"/>
<path d="M1140.1,327.7 L1140.1,302.9 L1141.1,303.2 L1142.1,302.6 L1143.1,302.8 L1144.1,301.5 L1145.1,301.2 L1146.1,302.1 L1147.1,301.4 L1148.1,303.7 L1149.1,301.8 L1150.1,303.1 L1151.1,303.8 L1152.1,302.3 L1153.1,303.6 L1154.1,303.6 L1155.1,302.8 L1156.1,304.3 L1157.1,303.5 L1158.1,302.3 L1159.1,302.9 L1160.1,301.5 L1161.1,302.6 L1162.1,301.4 L1163.1,301.5 L1164.1,301.8 L1165.1,302.2 L1166.1,303.1 L1167.1,301.9 L1167.1,327.7 Z" fill="#ff00ff"/>
<circle cx="1153.8" cy="302.3" r="1.8" fill="#ff00ff"/>
<circle cx="1147.9" cy="301.2" r="1.8" fill="#ff00ff"/>
<circle cx="1162.5" cy="299.4" r="1.8" fill="#ff00ff"/>
<circle cx="1155.8" cy="300.0" r="1.8" fill="#ff00ff"/>
<circle cx="1148.4" cy="300.7" r="1.8" fill="#ff00ff"/>
<circle cx="1162.5" cy="299.5" r="1.8" fill="#ff00ff"/>
<circle cx="1161.8" cy="301.0" r="1.8" fill="#ff00ff"/>
<circle cx="1159.7" cy="299.7" r="1.8" fill="#ff00ff"/>
<circle cx="1163.1" cy="297.3" r="1.8" fill="#ff00ff"/>
<circle cx="1157.1" cy="303.4" r="1.8" fill="#ff00ff"/>
<circle cx="1157.6" cy="296.7" r="1.8" fill="#ff00ff"/>
<circle cx="1165.4" cy="296.8" r="1.8" fill="#ff00ff"/>
<path d="M1166.5,327.7 L1166.5,303.0 L1167.5,302.5 L1168.6,303.6 L1169.6,303.3 L1170.6,302.1 L1171.6,301.9 L1172.7,302.0 L1173.7,303.4 L1174.7,304.2 L1175.7,304.0 L1176.8,302.7 L1177.8,303.8 L1178.8,303.3 L1179.8,302.7 L1180.9,302.6 L1181.9,303.2 L1182.9,304.0 L1183.9,303.4 L1185.0,303.9 L1186.0,303.6 L1187.0,304.1 L1188.0,304.4 L1189.1,304.6 L1190.1,305.1 L1191.1,303.8 L1192.1,304.9 L1193.2,304.2 L1194.2,304.4 L1195.2,303.8 L1196.2,305.1 L1196.2,327.7 Z" fill="#838b8b"/>
<circle cx="1175.8" cy="302.6" r="1.8" fill="#838b8b"/>
<circle cx="1188.7" cy="304.4" r="1.8" fill="#838b8b"/>
<circle cx="1193.9" cy="302.1" r="1.8" fill="#838b8b"/>
<circle cx="1178.8" cy="302.9" r="1.8" fill="#838b8b"/>
<circle cx="1169.8" cy="299.5" r="1.8" fill="#838b8b"/>
<circle cx="1190.5" cy="300.5" r="1.8" fill="#838b8b"/>
<circle cx="1172.8" cy="297.5" r="1.8" fill="#838b8b"/>
<circle cx="1172.2" cy="299.1" r="1.8" fill="#838b8b"/>
<circle cx="1190.8" cy="299.5" r="1.8" fill="#838b8b"/>
<circle cx="1188.1" cy="301.8" r="1.8" fill="#838b8b"/>
<circle cx="1189.8" cy="304.2" r="1.8" fill="#838b8b"/>
<circle cx="1186.2" cy="303.5" r="1.8" fill="#838b8b"/>
<circle cx="1181.4" cy="301.6" r="1.8" fill="#838b8b"/>
<path d="M1195.6,327.7 L1195.6,302.2 L1196.7,301.1 L1197.7,302.9 L1198.8,302.6 L1199.8,302.5 L1200.8,302.7 L1201.9,303.3 L1202.9,302.3 L1204.0,303.1 L1205.0,302.9 L1206.1,303.0 L1207.1,302.7 L1208.1,303.2 L1209.2,303.7 L1210.2,302.8 L1211.3,302.9 L1212.3,302.2 L1213.4,302.6 L1214.4,302.5 L1215.4,302.3 L1216.5,302.0 L1217.5,301.9 L1218.6,302.7 L1218.6,327.7 Z" fill="#ff00ff"/>
<circle cx="1216.7" cy="300.6" r="1.8" fill="#ff00ff"/>
<circle cx="1214.2" cy="301.6" r="1.8" fill="#ff00ff"/>
<circle cx="1216.8" cy="298.8" r="1.8" fill="#ff00ff"/>
<circle cx="1210.6" cy="301.6" r="1.8" fill="#ff00ff"/>
<circle cx="1206.9" cy="302.6" r="1.8" fill="#ff00ff"/>
<circle cx="1201.5" cy="297.9" r="1.8" fill="#ff00ff"/>
<circle cx="1204.8" cy="300.5" r="1.8" fill="#ff00ff"/>
<circle cx="1213.2" cy="301.9" r="1.8" fill="#ff00ff"/>
<circle cx="1199.9" cy="301.4" r="1.8" fill="#ff00ff"/>
<circle cx="1203.1" cy="299.5" r="1.8" fill="#ff00ff"/>
<path d="M1218.0,327.7 L1218.0,303.6 L1219.0,303.7 L1220.0,303.3 L1221.0,302.2 L1222.1,302.7 L1223.1,304.7 L1224.1,305.3 L1225.1,307.3 L1226.1,305.8 L1227.2,303.7 L1228.2,305.7 L1229.2,304.2 L1230.2,305.3 L1231.2,304.2 L1232.3,303.7 L1233.3,305.8 L1234.3,304.9 L1235.3,305.1 L1236.3,305.4 L1237.4,305.9 L1238.4,304.4 L1239.4,304.4 L1239.4,327.7 Z" fill="#838b8b"/>
<circle cx="1232.9" cy="303.4" r="1.8" fill="#838b8b"/>
<circle cx="1221.7" cy="300.5" r="1.8" fill="#838b8b"/>
<circle cx="1229.8" cy="302.1" r="1.8" fill="#838b8b"/>
<circle cx="1230.9" cy="303.7" r="1.8" fill="#838b8b"/>
<circle cx="1222.2" cy="299.4" r="1.8" fill="#838b8b"/>
<circle cx="1234.8" cy="303.2" r="1.8" fill="#838b8b"/>
<circle cx="1232.7" cy="300.3" r="1.8" fill="#838b8b"/>
<circle cx="1221.8" cy="300.4" r="1.8" fill="#838b8b"/>
<circle cx="1229.2" cy="303.7" r="1.8" fill="#838b8b"/>
<path d="M1238.8,327.7 L1238.8,303.9 L1239.8,302.4 L1240.8,302.5 L1241.8,302.2 L1242.8,301.6 L1243.9,303.1 L1244.9,302.9 L1245.9,302.8 L1246.9,303.5 L1247.9,303.8 L1248.9,303.2 L1249.9,302.7 L1251.0,301.7 L1252.0,301.4 L1253.0,300.8 L1254.0,302.0 L1255.0,302.1 L1256.0,302.4 L1256.0,327.7 Z" fill="#ff00ff"/>
<circle cx="1244.5" cy="302.5" r="1.8" fill="#ff00ff"/>
<circle cx="1249.6" cy="298.6" r="1.8" fill="#ff00ff"/>
<circle cx="1248.3" cy="303.3" r="1.8" fill="#ff00ff"/>
<circle cx="1254.2" cy="299.8" r="1.8" fill="#ff00ff"/>
<circle cx="1254.2" cy="296.8" r="1.8" fill="#ff00ff"/>
<circle cx="1247.4" cy="301.0" r="1.8" fill="#ff00ff"/>
<circle cx="1251.9" cy="300.4" r="1.8" fill="#ff00ff"/>
<path d="M1255.4,327.7 L1255.4,301.4 L1256.4,301.9 L1257.5,303.5 L1258.5,303.2 L1259.5,304.2 L1260.5,302.1 L1261.5,301.7 L1262.6,301.5 L1263.6,302.3 L1264.6,301.5 L1265.6,301.8 L1266.6,301.4 L1267.7,303.6 L1268.7,302.6 L1269.7,301.9 L1270.7,302.1 L1271.7,301.5 L1272.8,301.0 L1272.8,327.7 Z" fill="#838b8b"/>
<circle cx="1268.0" cy="298.4" r="1.8" fill="#838b8b"/>
<circle cx="1269.6" cy="302.0" r="1.8" fill="#838b8b"/>
<circle cx="1263.6" cy="297.1" r="1.8" fill="#838b8b"/>
<circle cx="1270.2" cy="298.9" r="1.8" fill="#838b8b"/>
<circle cx="1260.2" cy="303.9" r="1.8" fill="#838b8b"/>
<circle cx="1262.1" cy="300.5" r="1.8" fill="#838b8b"/>
<circle cx="1270.0" cy="299.3" r="1.8" fill="#838b8b"/>
<path d="M1272.2,327.7 L1272.2,305.6 L1273.2,306.1 L1274.2,305.3 L1275.3,304.1 L1276.3,304.3 L1277.4,304.2 L1278.4,304.7 L1279.5,303.7 L1280.5,304.0 L1281.5,304.0 L1282.6,305.2 L1283.6,304.1 L1284.7,303.9 L1285.7,304.7 L1286.7,305.3 L1287.8,304.7 L1288.8,305.7 L1288.8,327.7 Z" fill="#ff00ff"/>
<circle cx="1284.4" cy="303.8" r="1.8" fill="#ff00ff"/>
<circle cx="1282.7" cy="302.4" r="1.8" fill="#ff00ff"/>
<circle cx="1282.8" cy="301.1" r="1.8" fill="#ff00ff"/>
<circle cx="1283.5" cy="299.3" r="1.8" fill="#ff00ff"/>
<circle cx="1273.8" cy="301.8" r="1.8" fill="#ff00ff"/>
<circle cx="1284.3" cy="303.1" r="1.8" fill="#ff00ff"/>
<circle cx="1278.0" cy="300.5" r="1.8" fill="#ff00ff"/>
<path d="M1288.2,327.7 L1288.2,302.9 L1289.3,302.8 L1290.3,302.1 L1291.3,302.5 L1292.4,301.2 L1293.4,301.2 L1294.4,301.9 L1295.5,301.7 L1296.5,303.2 L1297.6,302.7 L1298.6,302.2 L1299.6,302.2 L1300.7,303.7 L1301.7,302.3 L1302.7,303.6 L1303.8,303.8 L1303.8,327.7 Z" fill="#838b8b"/>
<circle cx="1298.4" cy="301.6" r="1.8" fill="#838b8b"/>
<circle cx="1295.8" cy="300.4" r="1.8" fill="#838b8b"/>
<circle cx="1298.7" cy="299.2" r="1.8" fill="#838b8b"/>
<circle cx="1291.5" cy="302.2" r="1.8" fill="#838b8b"/>
<circle cx="1299.9" cy="296.2" r="1.8" fill="#838b8b"/>
<circle cx="1299.5" cy="301.3" r="1.8" fill="#838b8b"/>
<circle cx="1293.9" cy="299.6" r="1.8" fill="#838b8b"/>
<path d="M1303.2,327.7 L1303.2,303.5 L1304.2,302.7 L1305.2,303.7 L1306.2,303.9 L1307.2,304.6 L1308.2,305.4 L1309.2,304.4 L1310.2,303.9 L1311.2,304.5 L1312.2,304.6 L1313.2,305.2 L1314.2,303.8 L1315.2,303.2 L1315.2,327.7 Z" fill="#ff00ff"/>
<circle cx="1310.4" cy="302.4" r="1.8" fill="#ff00ff"/>
<circle cx="1306.1" cy="301.1" r="1.8" fill="#ff00ff"/>
<circle cx="1312.1" cy="303.4" r="1.8" fill="#ff00ff"/>
<circle cx="1312.9" cy="302.1" r="1.8" fill="#ff00ff"/>
<circle cx="1311.1" cy="301.3" r="1.8" fill="#ff00ff"/>
<path d="M1314.6,327.7 L1314.6,301.3 L1315.7,301.8 L1316.8,300.9 L1317.8,300.3 L1318.9,299.5 L1320.0,300.3 L1321.0,299.9 L1322.1,299.8 L1323.2,299.9 L1324.2,300.0 L1325.3,300.8 L1326.4,300.3 L1327.4,299.6 L1328.5,300.0 L1329.6,299.5 L1329.6,327.7 Z" fill="#838b8b"/>
<circle cx="1320.9" cy="298.9" r="1.8" fill="#838b8b"/>
<circle cx="1320.7" cy="300.0" r="1.8" fill="#838b8b"/>
<circle cx="1318.5" cy="297.7" r="1.8" fill="#838b8b"/>
<circle cx="1321.3" cy="297.5" r="1.8" fill="#838b8b"/>
<circle cx="1326.6" cy="298.8" r="1.8" fill="#838b8b"/>
<circle cx="1322.1" cy="297.7" r="1.8" fill="#838b8b"/>
<path d="M1329.0,327.7 L1329.0,303.2 L1330.0,304.2 L1331.0,302.4 L1332.0,302.9 L1333.0,303.0 L1334.0,303.1 L1335.0,302.1 L1336.0,303.0 L1337.0,303.1 L1338.0,302.9 L1339.0,302.1 L1340.0,301.0 L1340.0,327.7 Z" fill="#ff00ff"/>
<circle cx="1337.4" cy="302.9" r="1.8" fill="#ff00ff"/>
<circle cx="1337.7" cy="300.8" r="1.8" fill="#ff00ff"/>
<circle cx="1336.3" cy="300.1" r="1.8" fill="#ff00ff"/>
<circle cx="1334.4" cy="298.9" r="1.8" fill="#ff00ff"/>
<circle cx="1335.6" cy="301.3" r="1.8" fill="#ff00ff"/>
<path d="M1339.4,327.7 L1339.4,300.1 L1340.5,299.9 L1341.5,300.0 L1342.6,299.9 L1343.6,300.1 L1344.7,299.9 L1345.7,299.1 L1346.8,298.9 L1347.8,299.0 L1348.9,298.4 L1349.9,300.5 L1349.9,327.7 Z" fill="#838b8b"/>
<circle cx="1345.1" cy="297.2" r="1.8" fill="#838b8b"/>
<circle cx="1347.4" cy="296.1" r="1.8" fill="#838b8b"/>
<circle cx="1347.9" cy="297.6" r="1.8" fill="#838b8b"/>
<circle cx="1346.1" cy="293.6" r="1.8" fill="#838b8b"/>
<circle cx="793.0" cy="303.4" r="1.8" fill="#ff00ff"/>
<circle cx="792.6" cy="295.9" r="1.8" fill="#ff00ff"/>
<circle cx="799.0" cy="300.6" r="1.8" fill="#ff00ff"/>
<circle cx="798.9" cy="295.4" r="1.8" fill="#ff00ff"/>
<circle cx="804.9" cy="305.5" r="1.8" fill="#ff00ff"/>
<circle cx="805.4" cy="302.9" r="1.8" fill="#ff00ff"/>
<circle cx="805.0" cy="300.3" r="1.8" fill="#ff00ff"/>
<circle cx="805.1" cy="297.7" r="1.8" fill="#ff00ff"/>
<circle cx="805.0" cy="293.3" r="1.8" fill="#ff00ff"/>
<circle cx="834.5" cy="299.7" r="1.8" fill="#ff00ff"/>
<circle cx="834.3" cy="297.5" r="1.8" fill="#ff00ff"/>
<circle cx="843.2" cy="304.5" r="1.8" fill="#838b8b"/>
<circle cx="842.9" cy="301.9" r="1.8" fill="#838b8b"/>
<circle cx="843.0" cy="297.0" r="1.8" fill="#838b8b"/>
<circle cx="845.6" cy="304.3" r="1.8" fill="#838b8b"/>
<circle cx="846.0" cy="297.5" r="1.8" fill="#838b8b"/>
<circle cx="853.0" cy="298.0" r="1.8" fill="#838b8b"/>
<circle cx="860.9" cy="304.5" r="1.8" fill="#838b8b"/>
<circle cx="861.3" cy="297.5" r="1.8" fill="#838b8b"/>
<circle cx="883.8" cy="299.6" r="1.8" fill="#838b8b"/>
<circle cx="884.3" cy="297.0" r="1.8" fill="#838b8b"/>
<circle cx="884.2" cy="291.7" r="1.8" fill="#838b8b"/>
<circle cx="894.5" cy="302.0" r="1.8" fill="#ff00ff"/>
<circle cx="894.6" cy="297.5" r="1.8" fill="#ff00ff"/>
<circle cx="899.2" cy="302.1" r="1.8" fill="#ff00ff"/>
<circle cx="898.8" cy="299.5" r="1.8" fill="#ff00ff"/>
<circle cx="898.8" cy="297.0" r="1.8" fill="#ff00ff"/>
<circle cx="912.7" cy="291.7" r="1.8" fill="#ff00ff"/>
<circle cx="926.6" cy="299.1" r="1.8" fill="#838b8b"/>
<circle cx="932.1" cy="299.6" r="1.8" fill="#838b8b"/>
<circle cx="943.0" cy="303.6" r="1.8" fill="#838b8b"/>
<circle cx="943.2" cy="299.1" r="1.8" fill="#838b8b"/>
<circle cx="947.8" cy="303.5" r="1.8" fill="#838b8b"/>
<circle cx="948.1" cy="297.0" r="1.8" fill="#838b8b"/>
<circle cx="957.1" cy="304.9" r="1.8" fill="#838b8b"/>
<circle cx="956.7" cy="299.7" r="1.8" fill="#838b8b"/>
<circle cx="957.5" cy="297.1" r="1.8" fill="#838b8b"/>
<circle cx="957.1" cy="293.8" r="1.8" fill="#838b8b"/>
<circle cx="976.3" cy="302.6" r="1.8" fill="#ff00ff"/>
<circle cx="975.8" cy="297.4" r="1.8" fill="#ff00ff"/>
<circle cx="976.1" cy="295.4" r="1.8" fill="#ff00ff"/>
<circle cx="985.8" cy="299.6" r="1.8" fill="#ff00ff"/>
<circle cx="1004.6" cy="304.6" r="1.8" fill="#838b8b"/>
<circle cx="1004.5" cy="302.0" r="1.8" fill="#838b8b"/>
<circle cx="1004.6" cy="299.1" r="1.8" fill="#838b8b"/>
<circle cx="1033.0" cy="298.5" r="1.8" fill="#ff00ff"/>
<circle cx="1054.9" cy="302.1" r="1.8" fill="#ff00ff"/>
<circle cx="1054.7" cy="299.5" r="1.8" fill="#ff00ff"/>
<circle cx="1054.5" cy="295.9" r="1.8" fill="#ff00ff"/>
<circle cx="1068.4" cy="300.1" r="1.8" fill="#838b8b"/>
<circle cx="1075.3" cy="300.6" r="1.8" fill="#838b8b"/>
<circle cx="1086.4" cy="299.1" r="1.8" fill="#838b8b"/>
<circle cx="1093.6" cy="298.2" r="1.8" fill="#ff00ff"/>
<circle cx="1093.4" cy="294.9" r="1.8" fill="#ff00ff"/>
<circle cx="1108.0" cy="301.2" r="1.8" fill="#ff00ff"/>
<circle cx="1113.2" cy="299.1" r="1.8" fill="#ff00ff"/>
<circle cx="1114.9" cy="290.1" r="1.8" fill="#838b8b"/>
<circle cx="1118.4" cy="293.8" r="1.8" fill="#838b8b"/>
<circle cx="1121.8" cy="299.1" r="1.8" fill="#838b8b"/>
<circle cx="1131.5" cy="301.3" r="1.8" fill="#838b8b"/>
<circle cx="1131.6" cy="295.9" r="1.8" fill="#838b8b"/>
<circle cx="1139.2" cy="296.4" r="1.8" fill="#838b8b"/>
<circle cx="1147.2" cy="298.5" r="1.8" fill="#ff00ff"/>
<circle cx="1146.8" cy="295.4" r="1.8" fill="#ff00ff"/>
<circle cx="1160.7" cy="299.6" r="1.8" fill="#ff00ff"/>
<circle cx="1172.5" cy="300.9" r="1.8" fill="#838b8b"/>
<circle cx="1172.6" cy="298.3" r="1.8" fill="#838b8b"/>
<circle cx="1172.0" cy="295.7" r="1.8" fill="#838b8b"/>
<circle cx="1172.2" cy="293.3" r="1.8" fill="#838b8b"/>
<circle cx="1189.1" cy="296.4" r="1.8" fill="#838b8b"/>
<circle cx="1206.3" cy="299.3" r="1.8" fill="#ff00ff"/>
<circle cx="1206.0" cy="296.7" r="1.8" fill="#ff00ff"/>
<circle cx="1206.0" cy="294.3" r="1.8" fill="#ff00ff"/>
<circle cx="1227.7" cy="302.7" r="1.8" fill="#838b8b"/>
<circle cx="1227.8" cy="297.5" r="1.8" fill="#838b8b"/>
<circle cx="1227.5" cy="294.9" r="1.8" fill="#838b8b"/>
<circle cx="1262.2" cy="300.7" r="1.8" fill="#838b8b"/>
<circle cx="1262.0" cy="296.4" r="1.8" fill="#838b8b"/>
<circle cx="1266.6" cy="299.1" r="1.8" fill="#838b8b"/>
<circle cx="1280.1" cy="302.7" r="1.8" fill="#ff00ff"/>
<circle cx="1280.3" cy="300.1" r="1.8" fill="#ff00ff"/>
<circle cx="1280.4" cy="296.4" r="1.8" fill="#ff00ff"/>
<circle cx="1283.9" cy="304.2" r="1.8" fill="#ff00ff"/>
<circle cx="1283.4" cy="301.6" r="1.8" fill="#ff00ff"/>
<circle cx="1283.7" cy="299.0" r="1.8" fill="#ff00ff"/>
<circle cx="1283.5" cy="295.9" r="1.8" fill="#ff00ff"/>
<circle cx="1290.4" cy="288.8" r="1.8" fill="#838b8b"/>
<circle cx="1290.4" cy="297.5" r="1.8" fill="#838b8b"/>
<circle cx="1299.6" cy="295.9" r="1.8" fill="#838b8b"/>
<circle cx="1316.4" cy="298.0" r="1.8" fill="#838b8b"/>
<circle cx="1341.9" cy="299.0" r="1.8" fill="#838b8b"/>
<circle cx="1341.7" cy="296.4" r="1.8" fill="#838b8b"/>
<circle cx="1313.6" cy="58.4" r="1.8" fill="#ff00ff"/>
<circle cx="1313.6" cy="129.3" r="1.8" fill="#ff00ff"/>
<circle cx="1313.6" cy="144.6" r="1.8" fill="#ff00ff"/>
<circle cx="1313.6" cy="148.3" r="1.8" fill="#ff00ff"/>
<circle cx="1313.6" cy="150.9" r="1.8" fill="#ff00ff"/>
<circle cx="1313.6" cy="154.0" r="1.8" fill="#ff00ff"/>
<circle cx="1313.6" cy="157.2" r="1.8" fill="#ff00ff"/>
<circle cx="1313.6" cy="163.0" r="1.8" fill="#ff00ff"/>
<circle cx="1313.6" cy="207.1" r="1.8" fill="#ff00ff"/>
<circle cx="1313.6" cy="226.0" r="1.8" fill="#ff00ff"/>
<circle cx="1313.6" cy="248.1" r="1.8" fill="#ff00ff"/>
<circle cx="1313.6" cy="250.7" r="1.8" fill="#ff00ff"/>
<circle cx="1313.6" cy="254.4" r="1.8" fill="#ff00ff"/>
<circle cx="1313.6" cy="261.8" r="1.8" fill="#ff00ff"/>
<circle cx="1313.6" cy="264.9" r="1.8" fill="#ff00ff"/>
<circle cx="1313.6" cy="303.3" r="1.8" fill="#ff00ff"/>
<circle cx="1313.6" cy="302.4" r="1.8" fill="#ff00ff"/>
<circle cx="1313.6" cy="301.5" r="1.8" fill="#ff00ff"/>
<circle cx="1313.6" cy="300.6" r="1.8" fill="#ff00ff"/>
<circle cx="1313.6" cy="299.7" r="1.8" fill="#ff00ff"/>
<circle cx="1313.6" cy="298.8" r="1.8" fill="#ff00ff"/>
<circle cx="1313.6" cy="297.9" r="1.8" fill="#ff00ff"/>
<circle cx="1313.6" cy="297.0" r="1.8" fill="#ff00ff"/>
<circle cx="1313.6" cy="296.1" r="1.8" fill="#ff00ff"/>
<circle cx="1313.6" cy="295.2" r="1.8" fill="#ff00ff"/>
<circle cx="1313.6" cy="294.3" r="1.8" fill="#ff00ff"/>
<circle cx="1313.6" cy="293.4" r="1.8" fill="#ff00ff"/>
<circle cx="1313.6" cy="292.5" r="1.8" fill="#ff00ff"/>
<circle cx="1313.6" cy="291.6" r="1.8" fill="#ff00ff"/>
<circle cx="1313.6" cy="290.7" r="1.8" fill="#ff00ff"/>
<circle cx="1313.6" cy="289.8" r="1.8" fill="#ff00ff"/>
<circle cx="1313.6" cy="288.9" r="1.8" fill="#ff00ff"/>
<circle cx="1313.6" cy="288.0" r="1.8" fill="#ff00ff"/>
<circle cx="1313.6" cy="287.1" r="1.8" fill="#ff00ff"/>
<circle cx="1313.6" cy="286.2" r="1.8" fill="#ff00ff"/>
<circle cx="1313.6" cy="285.3" r="1.8" fill="#ff00ff"/>
<circle cx="1313.6" cy="284.4" r="1.8" fill="#ff00ff"/>
<circle cx="1313.6" cy="283.5" r="1.8" fill="#ff00ff"/>
<circle cx="1313.6" cy="282.6" r="1.8" fill="#ff00ff"/>
<circle cx="1313.6" cy="281.7" r="1.8" fill="#ff00ff"/>
<circle cx="1313.6" cy="280.8" r="1.8" fill="#ff00ff"/>
<circle cx="1313.6" cy="279.9" r="1.8" fill="#ff00ff"/>
<circle cx="1313.6" cy="279.0" r="1.8" fill="#ff00ff"/>
<circle cx="1313.6" cy="278.1" r="1.8" fill="#ff00ff"/>
<circle cx="1313.6" cy="277.2" r="1.8" fill="#ff00ff"/>
<circle cx="1313.6" cy="276.3" r="1.8" fill="#ff00ff"/>
<circle cx="1313.6" cy="275.4" r="1.8" fill="#ff00ff"/>
<circle cx="1313.6" cy="274.5" r="1.8" fill="#ff00ff"/>
<circle cx="1313.6" cy="273.6" r="1.8" fill="#ff00ff"/>
<circle cx="1313.6" cy="272.7" r="1.8" fill="#ff00ff"/>
<circle cx="1313.6" cy="271.8" r="1.8" fill="#ff00ff"/>
<circle cx="1313.6" cy="270.9" r="1.8" fill="#ff00ff"/>
<circle cx="1313.6" cy="270.0" r="1.8" fill="#ff00ff"/>
<circle cx="1313.6" cy="269.1" r="1.8" fill="#ff00ff"/>
<circle cx="1313.6" cy="268.2" r="1.8" fill="#ff00ff"/>
<circle cx="1313.6" cy="267.3" r="1.8" fill="#ff00ff"/>
<circle cx="1313.6" cy="266.4" r="1.8" fill="#ff00ff"/>
<circle cx="1313.6" cy="265.5" r="1.8" fill="#ff00ff"/>
<circle cx="812.8" cy="264.9" r="1.8" fill="#ff00ff"/>
<circle cx="812.8" cy="267.0" r="1.8" fill="#ff00ff"/>
<circle cx="812.8" cy="269.6" r="1.8" fill="#ff00ff"/>
<circle cx="812.8" cy="277.0" r="1.8" fill="#ff00ff"/>
<circle cx="812.8" cy="279.6" r="1.8" fill="#ff00ff"/>
<circle cx="812.8" cy="282.8" r="1.8" fill="#ff00ff"/>
<circle cx="812.8" cy="297.5" r="1.8" fill="#ff00ff"/>
<circle cx="1027.8" cy="252.3" r="1.8" fill="#838b8b"/>
<circle cx="1027.8" cy="254.4" r="1.8" fill="#838b8b"/>
<circle cx="1027.8" cy="256.5" r="1.8" fill="#838b8b"/>
<circle cx="1027.8" cy="272.3" r="1.8" fill="#838b8b"/>
<circle cx="1027.8" cy="274.9" r="1.8" fill="#838b8b"/>
<circle cx="1027.8" cy="277.5" r="1.8" fill="#838b8b"/>
<circle cx="1027.8" cy="294.9" r="1.8" fill="#838b8b"/>
<circle cx="1027.8" cy="299.1" r="1.8" fill="#838b8b"/>
<circle cx="912.8" cy="292.2" r="1.8" fill="#ff00ff"/>
<text x="699.16" y="23.37" font-size="33.63" textLength="20.73" lengthAdjust="spacingAndGlyphs" font-weight="bold">b</text>
<text x="762.34" y="37.86" font-size="24.51" textLength="36.56" lengthAdjust="spacingAndGlyphs">M5</text>
<text transform="translate(730.20,0) rotate(-90)" x="-237.58" y="0.67" font-size="20.40" textLength="15.15" lengthAdjust="spacingAndGlyphs">−</text>
<text transform="translate(730.20,0) rotate(-90)" x="-218.93" y="0.00" font-size="20.40" textLength="28.41" lengthAdjust="spacingAndGlyphs">log</text>
<text transform="translate(735.00,0) rotate(-90)" x="-190.36" y="0.00" font-size="11.30" textLength="15.51" lengthAdjust="spacingAndGlyphs">10</text>
<text transform="translate(729.60,0) rotate(-90)" x="-173.51" y="0.00" font-size="26.10" textLength="8.67" lengthAdjust="spacingAndGlyphs">(</text>
<text transform="translate(730.20,0) rotate(-90)" x="-163.61" y="0.00" font-size="20.40" textLength="11.05" lengthAdjust="spacingAndGlyphs" font-style="italic">p</text>
<text transform="translate(729.60,0) rotate(-90)" x="-149.03" y="0.00" font-size="26.10" textLength="7.66" lengthAdjust="spacingAndGlyphs">)</text>
<text x="1006.73" y="374.60" font-size="20.29" textLength="125.90" lengthAdjust="spacingAndGlyphs">Chromosome</text>
<text x="1316.57" y="58.05" font-size="14.97" textLength="37.10" lengthAdjust="spacingAndGlyphs">APOE</text>
<text x="820.01" y="265.37" font-size="13.48" textLength="151.26" lengthAdjust="spacingAndGlyphs">CELSR2/PSRC1/SORT1</text>
<text x="1028.68" y="252.10" font-size="13.52" textLength="25.74" lengthAdjust="spacingAndGlyphs">LPA</text>
<line x1="73.4" y1="660.53" x2="662.7" y2="660.53" stroke="#ffc6c6" stroke-width="1.15"/>
<line x1="73.40" y1="458.0" x2="73.40" y2="726.0" stroke="#a2a2a2" stroke-width="1.2"/>
<line x1="67.4" y1="725.50" x2="73.4" y2="725.50" stroke="#c4c4c4" stroke-width="1.2"/>
<text x="49.21" y="732.66" font-size="19.92" textLength="11.60" lengthAdjust="spacingAndGlyphs">0</text>
<line x1="67.4" y1="681.00" x2="73.4" y2="681.00" stroke="#c4c4c4" stroke-width="1.2"/>
<text x="49.27" y="688.16" font-size="19.92" textLength="11.60" lengthAdjust="spacingAndGlyphs">5</text>
<line x1="67.4" y1="636.50" x2="73.4" y2="636.50" stroke="#c4c4c4" stroke-width="1.2"/>
<text x="37.61" y="643.66" font-size="19.92" textLength="23.21" lengthAdjust="spacingAndGlyphs">10</text>
<line x1="67.4" y1="592.00" x2="73.4" y2="592.00" stroke="#c4c4c4" stroke-width="1.2"/>
<text x="37.67" y="599.16" font-size="19.92" textLength="23.21" lengthAdjust="spacingAndGlyphs">15</text>
<line x1="67.4" y1="547.50" x2="73.4" y2="547.50" stroke="#c4c4c4" stroke-width="1.2"/>
<text x="37.61" y="554.66" font-size="19.92" textLength="23.21" lengthAdjust="spacingAndGlyphs">20</text>
<line x1="67.4" y1="503.00" x2="73.4" y2="503.00" stroke="#c4c4c4" stroke-width="1.2"/>
<text x="37.67" y="510.16" font-size="19.92" textLength="23.21" lengthAdjust="spacingAndGlyphs">25</text>
<line x1="67.4" y1="458.50" x2="73.4" y2="458.50" stroke="#c4c4c4" stroke-width="1.2"/>
<text x="37.61" y="465.66" font-size="19.92" textLength="23.21" lengthAdjust="spacingAndGlyphs">30</text>
<line x1="114.18" y1="726.1" x2="114.18" y2="731.3" stroke="#8c8c8c" stroke-width="1.1"/>
<text x="108.04" y="748.00" font-size="19.77" textLength="11.71" lengthAdjust="spacingAndGlyphs">1</text>
<line x1="161.64" y1="726.1" x2="161.64" y2="731.3" stroke="#8c8c8c" stroke-width="1.1"/>
<text x="155.79" y="748.00" font-size="19.77" textLength="11.71" lengthAdjust="spacingAndGlyphs">2</text>
<line x1="204.24" y1="726.1" x2="204.24" y2="731.3" stroke="#8c8c8c" stroke-width="1.1"/>
<text x="198.44" y="747.81" font-size="19.77" textLength="11.71" lengthAdjust="spacingAndGlyphs">3</text>
<line x1="241.51" y1="726.1" x2="241.51" y2="731.3" stroke="#8c8c8c" stroke-width="1.1"/>
<text x="235.72" y="748.00" font-size="19.77" textLength="11.71" lengthAdjust="spacingAndGlyphs">4</text>
<line x1="276.83" y1="726.1" x2="276.83" y2="731.3" stroke="#8c8c8c" stroke-width="1.1"/>
<text x="270.99" y="747.81" font-size="19.77" textLength="11.71" lengthAdjust="spacingAndGlyphs">5</text>
<line x1="311.20" y1="726.1" x2="311.20" y2="731.3" stroke="#8c8c8c" stroke-width="1.1"/>
<text x="305.27" y="747.81" font-size="19.77" textLength="11.71" lengthAdjust="spacingAndGlyphs">6</text>
<line x1="343.04" y1="726.1" x2="343.04" y2="731.3" stroke="#8c8c8c" stroke-width="1.1"/>
<text x="337.18" y="748.00" font-size="19.77" textLength="11.71" lengthAdjust="spacingAndGlyphs">7</text>
<line x1="372.99" y1="726.1" x2="372.99" y2="731.3" stroke="#8c8c8c" stroke-width="1.1"/>
<text x="367.13" y="747.81" font-size="19.77" textLength="11.71" lengthAdjust="spacingAndGlyphs">8</text>
<line x1="400.02" y1="726.1" x2="400.02" y2="731.3" stroke="#8c8c8c" stroke-width="1.1"/>
<line x1="427.22" y1="726.1" x2="427.22" y2="731.3" stroke="#8c8c8c" stroke-width="1.1"/>
<text x="415.12" y="747.81" font-size="19.77" textLength="23.43" lengthAdjust="spacingAndGlyphs">10</text>
<line x1="453.53" y1="726.1" x2="453.53" y2="731.3" stroke="#8c8c8c" stroke-width="1.1"/>
<line x1="479.89" y1="726.1" x2="479.89" y2="731.3" stroke="#8c8c8c" stroke-width="1.1"/>
<text x="467.90" y="748.00" font-size="19.77" textLength="23.43" lengthAdjust="spacingAndGlyphs">12</text>
<line x1="505.19" y1="726.1" x2="505.19" y2="731.3" stroke="#8c8c8c" stroke-width="1.1"/>
<line x1="526.51" y1="726.1" x2="526.51" y2="731.3" stroke="#8c8c8c" stroke-width="1.1"/>
<text x="514.31" y="748.00" font-size="19.77" textLength="23.43" lengthAdjust="spacingAndGlyphs">14</text>
<line x1="545.88" y1="726.1" x2="545.88" y2="731.3" stroke="#8c8c8c" stroke-width="1.1"/>
<line x1="564.18" y1="726.1" x2="564.18" y2="731.3" stroke="#8c8c8c" stroke-width="1.1"/>
<line x1="580.02" y1="726.1" x2="580.02" y2="731.3" stroke="#8c8c8c" stroke-width="1.1"/>
<text x="568.03" y="748.00" font-size="19.77" textLength="23.43" lengthAdjust="spacingAndGlyphs">17</text>
<line x1="596.03" y1="726.1" x2="596.03" y2="731.3" stroke="#8c8c8c" stroke-width="1.1"/>
<line x1="609.01" y1="726.1" x2="609.01" y2="731.3" stroke="#8c8c8c" stroke-width="1.1"/>
<line x1="620.54" y1="726.1" x2="620.54" y2="731.3" stroke="#8c8c8c" stroke-width="1.1"/>
<line x1="632.46" y1="726.1" x2="632.46" y2="731.3" stroke="#8c8c8c" stroke-width="1.1"/>
<text x="620.74" y="748.00" font-size="19.77" textLength="23.43" lengthAdjust="spacingAndGlyphs">21</text>
<line x1="643.04" y1="726.1" x2="643.04" y2="731.3" stroke="#8c8c8c" stroke-width="1.1"/>
<path d="M87.8,726.3 L87.8,691.5 L88.8,691.5 L89.8,690.8 L90.9,691.3 L91.9,691.9 L92.9,692.6 L93.9,691.2 L94.9,691.2 L96.0,691.5 L97.0,692.0 L98.0,693.4 L99.0,692.1 L100.0,692.3 L101.0,691.6 L102.1,690.0 L103.1,690.6 L104.1,690.8 L105.1,690.0 L106.1,690.5 L107.2,690.5 L108.2,691.5 L109.2,691.9 L109.3,691.9 L109.5,691.9 L109.7,691.9 L109.9,691.9 L110.1,691.9 L110.3,692.6 L110.5,692.6 L110.7,692.6 L110.9,692.6 L111.1,692.6 L111.3,691.0 L111.5,691.0 L111.7,691.0 L111.9,691.0 L112.1,691.0 L112.3,689.8 L112.5,689.8 L112.7,689.8 L112.9,689.8 L113.1,689.8 L113.3,690.6 L113.5,690.6 L113.7,690.6 L113.9,690.6 L114.1,692.5 L114.3,694.5 L114.5,696.5 L114.7,698.5 L114.9,700.4 L114.9,726.3 L114.9,726.3 L115.1,726.3 L115.3,726.3 L115.5,726.3 L115.7,726.3 L115.7,691.0 L115.7,690.9 L115.9,689.8 L116.1,689.6 L116.3,689.6 L116.5,687.3 L116.7,687.3 L116.9,687.3 L117.1,687.3 L117.3,687.3 L117.5,687.4 L117.7,687.4 L117.9,687.4 L118.1,687.4 L118.3,687.4 L118.5,688.3 L118.7,688.3 L118.9,688.3 L119.1,688.3 L119.3,688.3 L119.5,688.2 L119.7,688.2 L119.9,688.2 L120.1,688.2 L120.3,688.2 L120.5,687.5 L120.7,687.5 L120.9,687.5 L121.1,687.5 L121.4,689.1 L122.4,688.6 L123.5,688.4 L124.5,688.7 L125.5,688.3 L126.5,687.7 L127.5,688.3 L128.6,689.0 L129.6,688.3 L130.6,688.5 L131.6,688.5 L132.6,687.2 L133.6,687.7 L134.7,688.4 L135.7,689.8 L136.7,689.2 L136.7,726.3 Z" fill="#ff00ff"/>
<circle cx="94.8" cy="690.0" r="1.8" fill="#ff00ff"/>
<circle cx="103.8" cy="688.4" r="1.8" fill="#ff00ff"/>
<circle cx="98.6" cy="692.5" r="1.8" fill="#ff00ff"/>
<circle cx="98.2" cy="691.5" r="1.8" fill="#ff00ff"/>
<circle cx="111.0" cy="689.9" r="1.8" fill="#ff00ff"/>
<circle cx="105.7" cy="684.9" r="1.8" fill="#ff00ff"/>
<circle cx="103.4" cy="689.4" r="1.8" fill="#ff00ff"/>
<circle cx="92.5" cy="689.0" r="1.8" fill="#ff00ff"/>
<circle cx="125.1" cy="688.4" r="1.8" fill="#ff00ff"/>
<circle cx="94.4" cy="690.9" r="1.8" fill="#ff00ff"/>
<circle cx="109.7" cy="689.4" r="1.8" fill="#ff00ff"/>
<circle cx="121.5" cy="683.3" r="1.8" fill="#ff00ff"/>
<circle cx="96.8" cy="687.4" r="1.8" fill="#ff00ff"/>
<circle cx="90.8" cy="690.7" r="1.8" fill="#ff00ff"/>
<circle cx="93.3" cy="688.7" r="1.8" fill="#ff00ff"/>
<circle cx="110.5" cy="689.7" r="1.8" fill="#ff00ff"/>
<circle cx="108.7" cy="689.2" r="1.8" fill="#ff00ff"/>
<circle cx="129.5" cy="688.9" r="1.8" fill="#ff00ff"/>
<circle cx="133.4" cy="686.6" r="1.8" fill="#ff00ff"/>
<circle cx="107.5" cy="690.4" r="1.8" fill="#ff00ff"/>
<circle cx="126.2" cy="687.6" r="1.8" fill="#ff00ff"/>
<circle cx="97.8" cy="691.0" r="1.8" fill="#ff00ff"/>
<path d="M136.1,726.3 L136.1,689.2 L137.1,689.4 L138.1,690.1 L139.1,690.4 L140.1,688.2 L141.2,688.7 L142.2,690.1 L143.2,688.9 L144.2,687.4 L145.2,688.7 L146.2,688.7 L147.2,689.8 L148.2,690.9 L149.2,690.0 L150.3,690.3 L151.3,690.5 L152.3,689.7 L153.3,688.9 L154.3,688.9 L155.3,687.8 L156.3,688.7 L157.3,688.9 L158.3,688.1 L159.3,686.6 L160.4,685.9 L161.4,686.4 L162.4,687.3 L163.4,689.0 L164.4,687.6 L165.4,688.2 L166.4,686.5 L167.4,687.4 L168.4,689.5 L169.5,688.2 L170.5,688.3 L171.5,688.9 L172.5,688.7 L173.5,688.6 L174.5,688.4 L175.5,689.9 L176.5,689.3 L177.5,688.7 L178.6,689.7 L179.6,688.2 L180.6,688.5 L181.6,690.2 L182.6,688.2 L183.6,688.7 L183.6,726.3 Z" fill="#838b8b"/>
<circle cx="174.8" cy="688.1" r="1.8" fill="#838b8b"/>
<circle cx="176.0" cy="689.9" r="1.8" fill="#838b8b"/>
<circle cx="165.1" cy="686.9" r="1.8" fill="#838b8b"/>
<circle cx="152.4" cy="688.3" r="1.8" fill="#838b8b"/>
<circle cx="152.7" cy="686.4" r="1.8" fill="#838b8b"/>
<circle cx="146.6" cy="688.6" r="1.8" fill="#838b8b"/>
<circle cx="141.3" cy="688.3" r="1.8" fill="#838b8b"/>
<circle cx="142.1" cy="687.2" r="1.8" fill="#838b8b"/>
<circle cx="156.0" cy="684.1" r="1.8" fill="#838b8b"/>
<circle cx="161.8" cy="682.4" r="1.8" fill="#838b8b"/>
<circle cx="158.1" cy="687.5" r="1.8" fill="#838b8b"/>
<circle cx="138.6" cy="688.4" r="1.8" fill="#838b8b"/>
<circle cx="141.1" cy="686.7" r="1.8" fill="#838b8b"/>
<circle cx="148.8" cy="688.4" r="1.8" fill="#838b8b"/>
<circle cx="151.2" cy="690.1" r="1.8" fill="#838b8b"/>
<circle cx="157.6" cy="688.6" r="1.8" fill="#838b8b"/>
<circle cx="154.6" cy="688.0" r="1.8" fill="#838b8b"/>
<circle cx="147.6" cy="685.1" r="1.8" fill="#838b8b"/>
<circle cx="139.5" cy="685.9" r="1.8" fill="#838b8b"/>
<circle cx="153.0" cy="682.7" r="1.8" fill="#838b8b"/>
<circle cx="142.8" cy="685.8" r="1.8" fill="#838b8b"/>
<circle cx="180.2" cy="687.2" r="1.8" fill="#838b8b"/>
<path d="M183.0,726.3 L183.0,686.9 L184.0,687.1 L185.0,686.9 L186.1,685.5 L187.1,687.6 L188.1,687.4 L189.1,688.4 L190.2,686.7 L191.2,685.8 L192.2,685.8 L193.2,686.1 L194.2,686.0 L195.3,685.8 L196.3,686.9 L197.3,686.7 L198.3,687.4 L199.4,687.4 L200.4,688.9 L201.4,688.4 L202.4,688.2 L203.4,688.6 L204.5,689.6 L205.5,688.1 L206.5,688.4 L207.5,688.0 L208.5,687.3 L209.6,687.1 L210.6,687.5 L211.6,687.2 L212.6,686.9 L213.7,686.5 L214.7,686.0 L215.7,686.9 L216.7,686.9 L217.7,688.1 L218.8,687.0 L219.8,686.6 L220.8,686.5 L221.8,688.4 L221.8,726.3 Z" fill="#ff00ff"/>
<circle cx="217.4" cy="686.0" r="1.8" fill="#ff00ff"/>
<circle cx="204.9" cy="684.4" r="1.8" fill="#ff00ff"/>
<circle cx="220.1" cy="683.3" r="1.8" fill="#ff00ff"/>
<circle cx="216.7" cy="684.0" r="1.8" fill="#ff00ff"/>
<circle cx="205.5" cy="687.5" r="1.8" fill="#ff00ff"/>
<circle cx="212.8" cy="683.4" r="1.8" fill="#ff00ff"/>
<circle cx="202.7" cy="688.1" r="1.8" fill="#ff00ff"/>
<circle cx="195.6" cy="682.1" r="1.8" fill="#ff00ff"/>
<circle cx="194.6" cy="685.1" r="1.8" fill="#ff00ff"/>
<circle cx="200.9" cy="687.0" r="1.8" fill="#ff00ff"/>
<circle cx="193.6" cy="685.0" r="1.8" fill="#ff00ff"/>
<circle cx="195.4" cy="684.2" r="1.8" fill="#ff00ff"/>
<circle cx="214.1" cy="684.5" r="1.8" fill="#ff00ff"/>
<circle cx="217.8" cy="684.2" r="1.8" fill="#ff00ff"/>
<circle cx="191.5" cy="682.0" r="1.8" fill="#ff00ff"/>
<circle cx="200.6" cy="687.9" r="1.8" fill="#ff00ff"/>
<circle cx="206.1" cy="686.1" r="1.8" fill="#ff00ff"/>
<path d="M221.2,726.3 L221.2,689.0 L222.2,689.3 L223.2,688.1 L224.2,688.7 L225.3,687.2 L226.3,688.6 L227.3,689.5 L228.3,688.8 L229.3,689.4 L230.3,689.5 L231.3,689.8 L232.3,689.4 L233.3,688.7 L234.3,688.3 L235.3,690.2 L236.3,688.3 L237.3,688.2 L238.3,687.7 L239.3,687.8 L240.3,688.9 L241.3,687.3 L242.3,688.8 L243.4,688.4 L244.4,688.9 L245.4,688.3 L246.4,688.5 L247.4,688.3 L248.4,687.5 L249.4,688.0 L250.4,688.4 L251.4,689.7 L252.4,689.4 L253.4,686.7 L254.4,686.9 L255.4,687.3 L256.4,688.2 L257.4,688.0 L258.4,687.1 L258.4,726.3 Z" fill="#838b8b"/>
<circle cx="227.2" cy="687.4" r="1.8" fill="#838b8b"/>
<circle cx="228.8" cy="687.8" r="1.8" fill="#838b8b"/>
<circle cx="233.0" cy="686.7" r="1.8" fill="#838b8b"/>
<circle cx="232.9" cy="687.6" r="1.8" fill="#838b8b"/>
<circle cx="233.4" cy="685.1" r="1.8" fill="#838b8b"/>
<circle cx="243.0" cy="685.4" r="1.8" fill="#838b8b"/>
<circle cx="242.7" cy="687.3" r="1.8" fill="#838b8b"/>
<circle cx="233.7" cy="684.1" r="1.8" fill="#838b8b"/>
<circle cx="245.2" cy="683.8" r="1.8" fill="#838b8b"/>
<circle cx="236.8" cy="686.1" r="1.8" fill="#838b8b"/>
<circle cx="232.6" cy="685.8" r="1.8" fill="#838b8b"/>
<circle cx="228.4" cy="686.9" r="1.8" fill="#838b8b"/>
<circle cx="244.6" cy="688.5" r="1.8" fill="#838b8b"/>
<circle cx="248.7" cy="683.3" r="1.8" fill="#838b8b"/>
<circle cx="229.3" cy="689.1" r="1.8" fill="#838b8b"/>
<circle cx="234.3" cy="687.4" r="1.8" fill="#838b8b"/>
<circle cx="233.5" cy="687.7" r="1.8" fill="#838b8b"/>
<circle cx="233.5" cy="685.1" r="1.8" fill="#838b8b"/>
<path d="M257.8,726.3 L257.8,687.4 L258.9,687.8 L259.9,688.0 L260.9,688.2 L261.9,689.3 L263.0,689.1 L264.0,687.4 L265.0,688.3 L266.0,688.8 L267.1,688.6 L268.1,689.1 L269.1,689.4 L270.1,689.6 L271.2,689.6 L272.2,688.9 L273.2,690.3 L274.2,690.4 L275.3,690.4 L276.3,689.3 L277.3,689.4 L278.3,688.4 L279.4,688.9 L280.4,687.6 L281.4,689.2 L282.4,687.2 L283.5,688.5 L284.5,688.5 L285.5,689.1 L286.5,688.8 L287.6,687.3 L288.6,686.9 L289.6,687.8 L290.6,687.5 L291.6,686.3 L292.7,686.6 L293.7,687.4 L293.7,726.3 Z" fill="#ff00ff"/>
<circle cx="263.9" cy="686.2" r="1.8" fill="#ff00ff"/>
<circle cx="286.7" cy="686.3" r="1.8" fill="#ff00ff"/>
<circle cx="267.5" cy="688.4" r="1.8" fill="#ff00ff"/>
<circle cx="266.2" cy="688.0" r="1.8" fill="#ff00ff"/>
<circle cx="277.3" cy="689.2" r="1.8" fill="#ff00ff"/>
<circle cx="281.9" cy="685.7" r="1.8" fill="#ff00ff"/>
<circle cx="271.2" cy="687.0" r="1.8" fill="#ff00ff"/>
<circle cx="259.4" cy="685.2" r="1.8" fill="#ff00ff"/>
<circle cx="265.9" cy="685.7" r="1.8" fill="#ff00ff"/>
<circle cx="265.8" cy="684.7" r="1.8" fill="#ff00ff"/>
<circle cx="267.3" cy="684.3" r="1.8" fill="#ff00ff"/>
<circle cx="272.8" cy="688.6" r="1.8" fill="#ff00ff"/>
<circle cx="285.1" cy="687.3" r="1.8" fill="#ff00ff"/>
<circle cx="277.7" cy="684.0" r="1.8" fill="#ff00ff"/>
<circle cx="279.5" cy="686.3" r="1.8" fill="#ff00ff"/>
<circle cx="272.2" cy="687.1" r="1.8" fill="#ff00ff"/>
<path d="M293.1,726.3 L293.1,691.0 L294.1,691.0 L295.1,691.1 L296.1,691.6 L297.2,691.7 L298.2,691.1 L299.2,692.2 L300.2,691.2 L301.2,691.5 L302.3,691.5 L303.3,691.0 L304.3,689.5 L305.3,691.5 L306.3,693.0 L307.3,691.8 L308.4,692.4 L309.4,692.3 L310.4,693.5 L311.4,692.1 L312.4,691.9 L313.4,693.4 L314.5,692.1 L315.5,692.2 L316.5,692.7 L317.5,693.9 L318.5,691.7 L319.5,692.7 L320.6,692.0 L321.6,692.7 L322.6,693.3 L323.6,692.1 L324.6,691.7 L325.6,691.5 L326.7,692.2 L326.7,726.3 Z" fill="#838b8b"/>
<circle cx="300.3" cy="689.8" r="1.8" fill="#838b8b"/>
<circle cx="314.5" cy="691.7" r="1.8" fill="#838b8b"/>
<circle cx="319.0" cy="690.8" r="1.8" fill="#838b8b"/>
<circle cx="323.5" cy="692.5" r="1.8" fill="#838b8b"/>
<circle cx="297.1" cy="687.1" r="1.8" fill="#838b8b"/>
<circle cx="301.3" cy="689.3" r="1.8" fill="#838b8b"/>
<circle cx="311.7" cy="688.4" r="1.8" fill="#838b8b"/>
<circle cx="319.7" cy="690.0" r="1.8" fill="#838b8b"/>
<circle cx="321.3" cy="687.8" r="1.8" fill="#838b8b"/>
<circle cx="312.4" cy="691.7" r="1.8" fill="#838b8b"/>
<circle cx="320.8" cy="690.2" r="1.8" fill="#838b8b"/>
<circle cx="319.7" cy="688.2" r="1.8" fill="#838b8b"/>
<circle cx="319.3" cy="685.9" r="1.8" fill="#838b8b"/>
<circle cx="306.9" cy="691.7" r="1.8" fill="#838b8b"/>
<circle cx="322.6" cy="690.4" r="1.8" fill="#838b8b"/>
<circle cx="321.8" cy="691.7" r="1.8" fill="#838b8b"/>
<path d="M326.1,726.3 L326.1,689.6 L327.1,688.2 L328.1,689.7 L329.1,689.5 L330.2,689.8 L331.2,689.3 L332.2,688.1 L333.2,689.5 L334.2,689.3 L335.3,689.3 L336.3,689.5 L337.3,691.2 L338.3,690.3 L339.4,690.5 L340.4,691.7 L341.4,690.9 L342.4,689.3 L343.5,689.0 L344.5,689.3 L345.5,691.7 L346.5,689.7 L347.6,688.9 L348.6,688.1 L349.6,688.8 L350.6,689.8 L351.6,688.3 L352.7,689.0 L353.7,687.6 L354.7,686.7 L355.7,687.3 L356.8,689.0 L357.8,687.9 L357.8,726.3 Z" fill="#ff00ff"/>
<circle cx="344.4" cy="688.1" r="1.8" fill="#ff00ff"/>
<circle cx="348.9" cy="685.1" r="1.8" fill="#ff00ff"/>
<circle cx="350.8" cy="688.1" r="1.8" fill="#ff00ff"/>
<circle cx="348.5" cy="687.7" r="1.8" fill="#ff00ff"/>
<circle cx="340.6" cy="689.3" r="1.8" fill="#ff00ff"/>
<circle cx="340.8" cy="684.7" r="1.8" fill="#ff00ff"/>
<circle cx="327.6" cy="687.8" r="1.8" fill="#ff00ff"/>
<circle cx="345.3" cy="685.4" r="1.8" fill="#ff00ff"/>
<circle cx="342.7" cy="684.7" r="1.8" fill="#ff00ff"/>
<circle cx="353.3" cy="683.1" r="1.8" fill="#ff00ff"/>
<circle cx="332.4" cy="684.4" r="1.8" fill="#ff00ff"/>
<circle cx="329.4" cy="689.0" r="1.8" fill="#ff00ff"/>
<circle cx="349.9" cy="685.4" r="1.8" fill="#ff00ff"/>
<circle cx="340.3" cy="686.3" r="1.8" fill="#ff00ff"/>
<circle cx="338.1" cy="690.2" r="1.8" fill="#ff00ff"/>
<circle cx="338.1" cy="687.6" r="1.8" fill="#ff00ff"/>
<path d="M357.2,726.3 L357.2,691.5 L358.2,691.7 L359.2,692.6 L360.2,691.8 L361.3,692.3 L362.3,693.5 L363.3,693.9 L364.3,691.3 L365.3,691.6 L366.3,692.2 L367.4,692.6 L368.4,692.3 L369.4,692.0 L370.4,691.9 L371.4,691.1 L372.4,691.7 L373.5,691.2 L374.5,691.3 L375.5,691.7 L376.5,691.0 L377.5,690.8 L378.5,691.7 L379.6,691.0 L380.6,691.5 L381.6,692.6 L382.6,690.4 L383.6,689.7 L384.6,691.9 L385.7,691.4 L385.7,726.3 Z" fill="#838b8b"/>
<circle cx="376.4" cy="690.9" r="1.8" fill="#838b8b"/>
<circle cx="367.3" cy="691.2" r="1.8" fill="#838b8b"/>
<circle cx="366.9" cy="691.4" r="1.8" fill="#838b8b"/>
<circle cx="366.6" cy="687.6" r="1.8" fill="#838b8b"/>
<circle cx="363.0" cy="685.7" r="1.8" fill="#838b8b"/>
<circle cx="378.9" cy="686.7" r="1.8" fill="#838b8b"/>
<circle cx="383.9" cy="686.3" r="1.8" fill="#838b8b"/>
<circle cx="382.0" cy="689.2" r="1.8" fill="#838b8b"/>
<circle cx="378.4" cy="687.1" r="1.8" fill="#838b8b"/>
<circle cx="368.4" cy="687.4" r="1.8" fill="#838b8b"/>
<circle cx="374.7" cy="690.3" r="1.8" fill="#838b8b"/>
<circle cx="378.0" cy="690.6" r="1.8" fill="#838b8b"/>
<path d="M385.1,726.3 L385.1,680.2 L386.1,677.8 L387.1,678.1 L388.2,678.9 L389.2,679.7 L390.2,680.5 L391.3,681.4 L392.3,682.4 L392.5,682.6 L392.7,682.8 L392.9,683.0 L393.1,683.2 L393.3,683.4 L393.5,683.6 L393.7,683.9 L393.9,684.1 L394.1,684.3 L394.3,684.6 L394.5,684.8 L394.7,685.1 L394.9,685.4 L395.1,685.6 L395.3,685.9 L395.5,686.2 L395.7,686.5 L395.9,686.9 L396.1,687.2 L396.3,687.6 L396.5,687.9 L396.7,688.4 L396.9,688.8 L397.1,689.3 L397.3,689.9 L397.5,690.5 L397.7,691.4 L397.9,693.0 L397.9,693.5 L397.9,726.3 L398.1,726.3 L398.3,726.3 L398.5,726.3 L398.7,726.3 L398.9,726.3 L399.1,726.3 L399.1,726.3 L399.1,689.6 L399.3,689.6 L399.5,689.6 L399.7,689.6 L399.9,689.6 L400.1,689.6 L400.3,689.6 L400.5,689.6 L400.7,689.6 L400.9,689.6 L401.1,689.6 L401.3,689.6 L401.5,689.6 L401.7,689.6 L401.9,689.6 L402.1,689.6 L402.3,689.6 L402.5,689.6 L402.7,690.9 L402.9,690.9 L403.1,690.9 L403.3,690.9 L403.5,690.9 L403.7,690.9 L403.9,691.1 L404.1,691.1 L404.3,691.1 L404.5,691.1 L404.7,691.0 L405.7,690.0 L406.8,690.0 L407.8,689.6 L408.8,689.9 L409.9,689.6 L410.9,689.6 L411.9,689.6 L413.0,689.6 L413.0,726.3 Z" fill="#ff00ff"/>
<circle cx="409.2" cy="689.6" r="1.8" fill="#ff00ff"/>
<circle cx="402.3" cy="689.2" r="1.8" fill="#ff00ff"/>
<circle cx="404.3" cy="689.3" r="1.8" fill="#ff00ff"/>
<path d="M412.4,726.3 L412.4,690.9 L413.4,690.8 L414.4,691.3 L415.4,691.1 L416.5,691.9 L417.5,690.4 L418.5,691.0 L419.5,690.7 L420.5,691.1 L421.6,690.4 L422.6,691.2 L423.6,689.5 L424.6,689.8 L425.7,690.2 L426.7,689.4 L427.7,689.2 L428.7,689.9 L429.7,691.2 L430.8,690.9 L431.8,690.6 L432.8,691.4 L433.8,690.8 L434.9,691.1 L435.9,690.4 L436.9,690.8 L437.9,691.7 L438.9,693.0 L438.9,726.3 Z" fill="#838b8b"/>
<circle cx="429.9" cy="690.5" r="1.8" fill="#838b8b"/>
<circle cx="436.7" cy="689.4" r="1.8" fill="#838b8b"/>
<circle cx="414.8" cy="688.8" r="1.8" fill="#838b8b"/>
<circle cx="431.9" cy="685.6" r="1.8" fill="#838b8b"/>
<circle cx="431.0" cy="684.0" r="1.8" fill="#838b8b"/>
<circle cx="419.2" cy="685.5" r="1.8" fill="#838b8b"/>
<circle cx="435.3" cy="690.4" r="1.8" fill="#838b8b"/>
<circle cx="424.8" cy="687.9" r="1.8" fill="#838b8b"/>
<circle cx="424.1" cy="686.1" r="1.8" fill="#838b8b"/>
<circle cx="434.0" cy="686.0" r="1.8" fill="#838b8b"/>
<circle cx="431.6" cy="686.2" r="1.8" fill="#838b8b"/>
<circle cx="435.7" cy="690.0" r="1.8" fill="#838b8b"/>
<path d="M438.3,726.3 L438.3,689.1 L439.3,690.7 L440.3,688.6 L441.3,689.0 L442.3,688.9 L443.3,689.5 L444.3,689.0 L445.3,689.6 L446.3,689.3 L447.3,688.3 L448.3,688.6 L449.3,688.4 L450.3,688.2 L451.3,687.9 L452.3,688.2 L453.4,688.3 L454.4,688.6 L455.4,690.2 L456.4,690.1 L457.4,688.4 L458.4,688.4 L459.4,688.7 L460.4,689.7 L461.4,689.7 L462.4,688.5 L463.4,687.1 L464.4,687.5 L465.4,689.0 L465.4,726.3 Z" fill="#ff00ff"/>
<circle cx="452.7" cy="687.7" r="1.8" fill="#ff00ff"/>
<circle cx="460.9" cy="688.8" r="1.8" fill="#ff00ff"/>
<circle cx="452.4" cy="687.5" r="1.8" fill="#ff00ff"/>
<circle cx="452.8" cy="686.0" r="1.8" fill="#ff00ff"/>
<circle cx="442.3" cy="687.6" r="1.8" fill="#ff00ff"/>
<circle cx="461.4" cy="687.0" r="1.8" fill="#ff00ff"/>
<circle cx="462.7" cy="688.1" r="1.8" fill="#ff00ff"/>
<circle cx="445.7" cy="688.2" r="1.8" fill="#ff00ff"/>
<circle cx="455.0" cy="684.7" r="1.8" fill="#ff00ff"/>
<circle cx="448.5" cy="687.1" r="1.8" fill="#ff00ff"/>
<circle cx="459.3" cy="684.5" r="1.8" fill="#ff00ff"/>
<circle cx="450.8" cy="687.3" r="1.8" fill="#ff00ff"/>
<path d="M464.8,726.3 L464.8,690.3 L465.8,691.1 L466.8,690.4 L467.8,690.1 L468.9,691.1 L469.9,690.9 L470.9,691.8 L471.9,691.6 L473.0,691.0 L474.0,691.3 L475.0,691.4 L476.0,691.4 L477.0,691.8 L478.1,690.5 L479.1,692.1 L480.1,691.8 L481.1,692.6 L482.2,692.5 L483.2,692.1 L484.2,690.0 L485.2,690.7 L486.3,691.2 L487.3,691.0 L488.3,691.6 L489.3,692.5 L490.4,691.4 L491.4,691.0 L492.4,691.5 L493.4,691.7 L494.5,690.6 L494.5,726.3 Z" fill="#838b8b"/>
<circle cx="484.5" cy="685.4" r="1.8" fill="#838b8b"/>
<circle cx="492.7" cy="690.4" r="1.8" fill="#838b8b"/>
<circle cx="468.0" cy="685.7" r="1.8" fill="#838b8b"/>
<circle cx="487.9" cy="688.0" r="1.8" fill="#838b8b"/>
<circle cx="491.8" cy="689.8" r="1.8" fill="#838b8b"/>
<circle cx="484.1" cy="690.2" r="1.8" fill="#838b8b"/>
<circle cx="488.4" cy="690.5" r="1.8" fill="#838b8b"/>
<circle cx="469.7" cy="687.5" r="1.8" fill="#838b8b"/>
<circle cx="484.9" cy="689.9" r="1.8" fill="#838b8b"/>
<circle cx="466.3" cy="690.5" r="1.8" fill="#838b8b"/>
<circle cx="475.4" cy="688.8" r="1.8" fill="#838b8b"/>
<circle cx="478.2" cy="687.8" r="1.8" fill="#838b8b"/>
<circle cx="479.9" cy="690.8" r="1.8" fill="#838b8b"/>
<path d="M493.9,726.3 L493.9,690.9 L494.9,690.3 L495.9,691.5 L497.0,690.7 L498.0,691.6 L499.1,692.6 L500.1,692.0 L501.2,691.7 L502.2,691.7 L503.2,690.8 L504.3,691.1 L505.3,691.0 L506.4,689.3 L507.4,690.3 L508.5,690.3 L509.5,689.5 L510.5,690.6 L511.6,689.8 L512.6,690.0 L513.7,690.6 L514.7,690.0 L515.8,690.3 L516.8,691.0 L516.8,726.3 Z" fill="#ff00ff"/>
<circle cx="497.0" cy="688.2" r="1.8" fill="#ff00ff"/>
<circle cx="504.9" cy="688.0" r="1.8" fill="#ff00ff"/>
<circle cx="513.0" cy="687.6" r="1.8" fill="#ff00ff"/>
<circle cx="502.0" cy="686.3" r="1.8" fill="#ff00ff"/>
<circle cx="501.4" cy="690.0" r="1.8" fill="#ff00ff"/>
<circle cx="506.9" cy="686.4" r="1.8" fill="#ff00ff"/>
<circle cx="499.3" cy="686.1" r="1.8" fill="#ff00ff"/>
<circle cx="510.3" cy="686.6" r="1.8" fill="#ff00ff"/>
<circle cx="495.5" cy="686.2" r="1.8" fill="#ff00ff"/>
<circle cx="496.4" cy="690.9" r="1.8" fill="#ff00ff"/>
<path d="M516.2,726.3 L516.2,691.8 L517.2,692.5 L518.2,693.7 L519.3,693.8 L520.3,694.0 L521.3,694.3 L522.3,694.6 L523.3,694.4 L524.4,694.4 L525.4,693.1 L526.4,692.1 L527.4,692.2 L528.4,692.6 L529.5,692.2 L530.5,691.9 L531.5,691.4 L532.5,693.2 L533.5,692.9 L534.6,694.1 L535.6,693.7 L536.6,693.9 L537.6,693.1 L537.6,726.3 Z" fill="#838b8b"/>
<circle cx="531.8" cy="691.1" r="1.8" fill="#838b8b"/>
<circle cx="520.3" cy="692.3" r="1.8" fill="#838b8b"/>
<circle cx="524.2" cy="693.7" r="1.8" fill="#838b8b"/>
<circle cx="521.9" cy="691.8" r="1.8" fill="#838b8b"/>
<circle cx="525.6" cy="688.9" r="1.8" fill="#838b8b"/>
<circle cx="523.6" cy="694.4" r="1.8" fill="#838b8b"/>
<circle cx="525.1" cy="689.3" r="1.8" fill="#838b8b"/>
<circle cx="521.7" cy="693.8" r="1.8" fill="#838b8b"/>
<circle cx="527.1" cy="687.3" r="1.8" fill="#838b8b"/>
<path d="M537.0,726.3 L537.0,682.4 L538.0,683.4 L539.0,682.0 L540.1,682.9 L541.1,682.9 L542.1,683.9 L543.1,683.5 L544.1,684.3 L545.1,683.6 L546.1,684.2 L547.1,684.0 L548.2,685.0 L549.2,685.6 L550.2,684.9 L551.2,684.2 L552.2,683.7 L553.2,683.9 L554.2,685.2 L554.2,726.3 Z" fill="#ff00ff"/>
<circle cx="551.9" cy="683.7" r="1.8" fill="#ff00ff"/>
<circle cx="550.2" cy="684.3" r="1.8" fill="#ff00ff"/>
<circle cx="541.3" cy="681.0" r="1.8" fill="#ff00ff"/>
<circle cx="539.5" cy="678.3" r="1.8" fill="#ff00ff"/>
<circle cx="552.1" cy="683.5" r="1.8" fill="#ff00ff"/>
<circle cx="552.4" cy="681.5" r="1.8" fill="#ff00ff"/>
<circle cx="543.5" cy="683.1" r="1.8" fill="#ff00ff"/>
<path d="M553.6,726.3 L553.6,690.3 L554.7,690.7 L555.7,692.1 L556.7,690.8 L557.7,690.6 L558.7,691.0 L559.8,692.0 L560.8,691.5 L561.8,689.9 L562.8,689.0 L563.8,690.0 L564.9,690.9 L565.9,690.9 L566.9,690.4 L567.9,690.0 L568.9,690.5 L570.0,691.6 L571.0,691.7 L571.0,726.3 Z" fill="#838b8b"/>
<circle cx="563.8" cy="688.3" r="1.8" fill="#838b8b"/>
<circle cx="564.7" cy="687.7" r="1.8" fill="#838b8b"/>
<circle cx="558.2" cy="689.3" r="1.8" fill="#838b8b"/>
<circle cx="561.8" cy="685.0" r="1.8" fill="#838b8b"/>
<circle cx="565.6" cy="690.7" r="1.8" fill="#838b8b"/>
<circle cx="558.2" cy="690.1" r="1.8" fill="#838b8b"/>
<circle cx="558.2" cy="688.5" r="1.8" fill="#838b8b"/>
<path d="M570.4,726.3 L570.4,687.0 L571.4,686.2 L572.5,684.1 L573.5,684.5 L574.5,684.2 L575.6,684.4 L576.6,685.5 L577.7,685.4 L578.7,685.7 L579.7,686.0 L580.8,684.4 L581.8,685.2 L582.9,685.7 L583.9,686.6 L585.0,686.1 L586.0,684.1 L587.0,684.4 L587.0,726.3 Z" fill="#ff00ff"/>
<circle cx="572.2" cy="682.0" r="1.8" fill="#ff00ff"/>
<circle cx="580.8" cy="682.4" r="1.8" fill="#ff00ff"/>
<circle cx="576.9" cy="685.4" r="1.8" fill="#ff00ff"/>
<circle cx="584.9" cy="683.1" r="1.8" fill="#ff00ff"/>
<circle cx="573.2" cy="680.1" r="1.8" fill="#ff00ff"/>
<circle cx="585.2" cy="685.5" r="1.8" fill="#ff00ff"/>
<circle cx="581.5" cy="679.9" r="1.8" fill="#ff00ff"/>
<path d="M586.4,726.3 L586.4,686.4 L587.5,688.0 L588.5,686.4 L589.5,684.9 L590.6,685.1 L591.6,685.2 L592.7,685.5 L593.7,684.9 L594.7,685.2 L595.8,685.2 L596.8,686.9 L597.8,687.1 L598.9,687.2 L599.9,686.9 L600.9,685.7 L602.0,686.3 L602.0,726.3 Z" fill="#838b8b"/>
<circle cx="596.0" cy="682.0" r="1.8" fill="#838b8b"/>
<circle cx="589.1" cy="684.9" r="1.8" fill="#838b8b"/>
<circle cx="598.9" cy="686.5" r="1.8" fill="#838b8b"/>
<circle cx="588.1" cy="680.4" r="1.8" fill="#838b8b"/>
<circle cx="592.1" cy="685.0" r="1.8" fill="#838b8b"/>
<circle cx="592.8" cy="685.4" r="1.8" fill="#838b8b"/>
<circle cx="595.6" cy="683.9" r="1.8" fill="#838b8b"/>
<path d="M601.4,726.3 L601.4,688.5 L602.4,689.5 L603.4,688.9 L604.4,688.9 L605.4,688.7 L606.4,689.3 L607.4,689.5 L608.4,690.5 L609.4,689.7 L610.4,690.6 L611.4,691.4 L612.4,690.7 L613.5,690.1 L613.5,726.3 Z" fill="#ff00ff"/>
<circle cx="603.5" cy="686.8" r="1.8" fill="#ff00ff"/>
<circle cx="608.2" cy="685.6" r="1.8" fill="#ff00ff"/>
<circle cx="605.5" cy="686.7" r="1.8" fill="#ff00ff"/>
<circle cx="611.8" cy="688.8" r="1.8" fill="#ff00ff"/>
<circle cx="604.4" cy="687.2" r="1.8" fill="#ff00ff"/>
<path d="M612.9,726.3 L612.9,684.5 L613.9,684.0 L615.0,684.6 L616.1,685.4 L617.1,684.8 L618.2,685.4 L619.3,684.0 L620.3,686.1 L621.4,686.2 L622.5,686.8 L623.5,686.1 L624.6,684.6 L625.7,685.3 L626.7,684.5 L627.8,683.9 L627.8,726.3 Z" fill="#838b8b"/>
<circle cx="625.9" cy="684.8" r="1.8" fill="#838b8b"/>
<circle cx="623.1" cy="686.4" r="1.8" fill="#838b8b"/>
<circle cx="619.5" cy="680.8" r="1.8" fill="#838b8b"/>
<circle cx="619.8" cy="679.9" r="1.8" fill="#838b8b"/>
<circle cx="620.3" cy="682.6" r="1.8" fill="#838b8b"/>
<circle cx="621.3" cy="685.2" r="1.8" fill="#838b8b"/>
<path d="M627.2,726.3 L627.2,683.0 L628.2,684.3 L629.2,683.0 L630.2,683.1 L631.2,683.4 L632.2,684.3 L633.2,684.9 L634.2,685.6 L635.2,686.1 L636.2,685.0 L637.2,683.8 L638.2,683.8 L638.2,726.3 Z" fill="#ff00ff"/>
<circle cx="635.6" cy="685.7" r="1.8" fill="#ff00ff"/>
<circle cx="632.3" cy="682.4" r="1.8" fill="#ff00ff"/>
<circle cx="632.9" cy="681.3" r="1.8" fill="#ff00ff"/>
<circle cx="631.7" cy="682.1" r="1.8" fill="#ff00ff"/>
<circle cx="636.7" cy="679.1" r="1.8" fill="#ff00ff"/>
<path d="M637.6,726.3 L637.6,685.1 L638.7,685.1 L639.7,686.6 L640.8,686.4 L641.8,685.5 L642.9,684.8 L643.9,686.2 L645.0,685.3 L646.0,684.4 L647.1,683.8 L648.1,684.8 L648.1,726.3 Z" fill="#838b8b"/>
<circle cx="641.6" cy="683.3" r="1.8" fill="#838b8b"/>
<circle cx="644.8" cy="684.0" r="1.8" fill="#838b8b"/>
<circle cx="645.6" cy="681.2" r="1.8" fill="#838b8b"/>
<circle cx="640.2" cy="683.9" r="1.8" fill="#838b8b"/>
<circle cx="94.4" cy="681.9" r="1.8" fill="#ff00ff"/>
<circle cx="104.5" cy="687.0" r="1.8" fill="#ff00ff"/>
<circle cx="104.0" cy="684.4" r="1.8" fill="#ff00ff"/>
<circle cx="103.8" cy="681.8" r="1.8" fill="#ff00ff"/>
<circle cx="104.2" cy="676.6" r="1.8" fill="#ff00ff"/>
<circle cx="104.4" cy="674.0" r="1.8" fill="#ff00ff"/>
<circle cx="104.1" cy="670.3" r="1.8" fill="#ff00ff"/>
<circle cx="120.4" cy="687.2" r="1.8" fill="#ff00ff"/>
<circle cx="120.1" cy="684.6" r="1.8" fill="#ff00ff"/>
<circle cx="140.7" cy="687.2" r="1.8" fill="#838b8b"/>
<circle cx="140.9" cy="678.3" r="1.8" fill="#838b8b"/>
<circle cx="147.0" cy="685.1" r="1.8" fill="#838b8b"/>
<circle cx="146.9" cy="682.5" r="1.8" fill="#838b8b"/>
<circle cx="147.1" cy="679.9" r="1.8" fill="#838b8b"/>
<circle cx="147.3" cy="677.3" r="1.8" fill="#838b8b"/>
<circle cx="147.1" cy="674.7" r="1.8" fill="#838b8b"/>
<circle cx="147.2" cy="672.1" r="1.8" fill="#838b8b"/>
<circle cx="163.1" cy="686.3" r="1.8" fill="#838b8b"/>
<circle cx="163.1" cy="683.7" r="1.8" fill="#838b8b"/>
<circle cx="163.1" cy="676.5" r="1.8" fill="#838b8b"/>
<circle cx="171.1" cy="687.3" r="1.8" fill="#838b8b"/>
<circle cx="171.4" cy="681.0" r="1.8" fill="#838b8b"/>
<circle cx="182.9" cy="685.9" r="1.8" fill="#ff00ff"/>
<circle cx="183.2" cy="681.9" r="1.8" fill="#ff00ff"/>
<circle cx="193.8" cy="685.1" r="1.8" fill="#ff00ff"/>
<circle cx="193.5" cy="682.5" r="1.8" fill="#ff00ff"/>
<circle cx="193.6" cy="678.3" r="1.8" fill="#ff00ff"/>
<circle cx="204.1" cy="687.6" r="1.8" fill="#ff00ff"/>
<circle cx="203.8" cy="685.0" r="1.8" fill="#ff00ff"/>
<circle cx="203.9" cy="682.4" r="1.8" fill="#ff00ff"/>
<circle cx="204.1" cy="678.3" r="1.8" fill="#ff00ff"/>
<circle cx="220.7" cy="683.0" r="1.8" fill="#ff00ff"/>
<circle cx="220.9" cy="680.4" r="1.8" fill="#ff00ff"/>
<circle cx="220.7" cy="678.3" r="1.8" fill="#ff00ff"/>
<circle cx="231.1" cy="688.5" r="1.8" fill="#838b8b"/>
<circle cx="231.1" cy="685.9" r="1.8" fill="#838b8b"/>
<circle cx="231.3" cy="683.3" r="1.8" fill="#838b8b"/>
<circle cx="231.1" cy="680.7" r="1.8" fill="#838b8b"/>
<circle cx="231.5" cy="678.1" r="1.8" fill="#838b8b"/>
<circle cx="231.4" cy="675.5" r="1.8" fill="#838b8b"/>
<circle cx="231.1" cy="671.2" r="1.8" fill="#838b8b"/>
<circle cx="253.8" cy="685.7" r="1.8" fill="#838b8b"/>
<circle cx="254.4" cy="683.1" r="1.8" fill="#838b8b"/>
<circle cx="254.0" cy="679.2" r="1.8" fill="#838b8b"/>
<circle cx="262.7" cy="688.1" r="1.8" fill="#ff00ff"/>
<circle cx="262.7" cy="682.9" r="1.8" fill="#ff00ff"/>
<circle cx="263.0" cy="679.2" r="1.8" fill="#ff00ff"/>
<circle cx="274.9" cy="684.2" r="1.8" fill="#ff00ff"/>
<circle cx="274.7" cy="680.1" r="1.8" fill="#ff00ff"/>
<circle cx="304.9" cy="688.5" r="1.8" fill="#838b8b"/>
<circle cx="305.3" cy="685.9" r="1.8" fill="#838b8b"/>
<circle cx="305.6" cy="680.7" r="1.8" fill="#838b8b"/>
<circle cx="305.2" cy="677.4" r="1.8" fill="#838b8b"/>
<circle cx="308.9" cy="688.8" r="1.8" fill="#838b8b"/>
<circle cx="309.4" cy="686.2" r="1.8" fill="#838b8b"/>
<circle cx="308.7" cy="683.6" r="1.8" fill="#838b8b"/>
<circle cx="309.0" cy="679.2" r="1.8" fill="#838b8b"/>
<circle cx="314.3" cy="692.4" r="1.8" fill="#838b8b"/>
<circle cx="314.1" cy="689.8" r="1.8" fill="#838b8b"/>
<circle cx="314.5" cy="687.2" r="1.8" fill="#838b8b"/>
<circle cx="314.3" cy="682.0" r="1.8" fill="#838b8b"/>
<circle cx="314.3" cy="677.4" r="1.8" fill="#838b8b"/>
<circle cx="341.4" cy="688.1" r="1.8" fill="#ff00ff"/>
<circle cx="341.0" cy="685.5" r="1.8" fill="#ff00ff"/>
<circle cx="341.5" cy="682.9" r="1.8" fill="#ff00ff"/>
<circle cx="341.0" cy="680.3" r="1.8" fill="#ff00ff"/>
<circle cx="341.3" cy="675.7" r="1.8" fill="#ff00ff"/>
<circle cx="352.9" cy="685.4" r="1.8" fill="#ff00ff"/>
<circle cx="353.4" cy="680.2" r="1.8" fill="#ff00ff"/>
<circle cx="352.9" cy="677.6" r="1.8" fill="#ff00ff"/>
<circle cx="353.1" cy="672.1" r="1.8" fill="#ff00ff"/>
<circle cx="362.8" cy="668.5" r="1.8" fill="#838b8b"/>
<circle cx="374.7" cy="690.3" r="1.8" fill="#838b8b"/>
<circle cx="374.3" cy="687.7" r="1.8" fill="#838b8b"/>
<circle cx="374.6" cy="681.0" r="1.8" fill="#838b8b"/>
<circle cx="384.5" cy="688.7" r="1.8" fill="#838b8b"/>
<circle cx="384.7" cy="683.5" r="1.8" fill="#838b8b"/>
<circle cx="384.3" cy="680.9" r="1.8" fill="#838b8b"/>
<circle cx="384.6" cy="678.3" r="1.8" fill="#838b8b"/>
<circle cx="412.5" cy="689.9" r="1.8" fill="#838b8b"/>
<circle cx="412.8" cy="687.3" r="1.8" fill="#838b8b"/>
<circle cx="412.8" cy="684.7" r="1.8" fill="#838b8b"/>
<circle cx="412.6" cy="682.1" r="1.8" fill="#838b8b"/>
<circle cx="412.6" cy="676.9" r="1.8" fill="#838b8b"/>
<circle cx="412.8" cy="674.8" r="1.8" fill="#838b8b"/>
<circle cx="430.9" cy="682.8" r="1.8" fill="#838b8b"/>
<circle cx="447.8" cy="682.1" r="1.8" fill="#ff00ff"/>
<circle cx="447.8" cy="679.5" r="1.8" fill="#ff00ff"/>
<circle cx="448.0" cy="677.4" r="1.8" fill="#ff00ff"/>
<circle cx="490.0" cy="672.1" r="1.8" fill="#838b8b"/>
<circle cx="489.7" cy="691.5" r="1.8" fill="#838b8b"/>
<circle cx="489.6" cy="688.9" r="1.8" fill="#838b8b"/>
<circle cx="490.0" cy="681.1" r="1.8" fill="#838b8b"/>
<circle cx="490.0" cy="676.5" r="1.8" fill="#838b8b"/>
<circle cx="513.7" cy="686.4" r="1.8" fill="#ff00ff"/>
<circle cx="513.3" cy="681.2" r="1.8" fill="#ff00ff"/>
<circle cx="513.7" cy="678.6" r="1.8" fill="#ff00ff"/>
<circle cx="513.4" cy="675.7" r="1.8" fill="#ff00ff"/>
<circle cx="525.9" cy="692.1" r="1.8" fill="#838b8b"/>
<circle cx="526.3" cy="689.5" r="1.8" fill="#838b8b"/>
<circle cx="526.2" cy="686.9" r="1.8" fill="#838b8b"/>
<circle cx="526.0" cy="684.3" r="1.8" fill="#838b8b"/>
<circle cx="525.8" cy="681.7" r="1.8" fill="#838b8b"/>
<circle cx="525.9" cy="670.3" r="1.8" fill="#838b8b"/>
<circle cx="533.7" cy="691.9" r="1.8" fill="#838b8b"/>
<circle cx="534.2" cy="684.1" r="1.8" fill="#838b8b"/>
<circle cx="533.7" cy="681.5" r="1.8" fill="#838b8b"/>
<circle cx="533.9" cy="676.5" r="1.8" fill="#838b8b"/>
<circle cx="554.0" cy="686.7" r="1.8" fill="#838b8b"/>
<circle cx="554.1" cy="684.1" r="1.8" fill="#838b8b"/>
<circle cx="554.7" cy="681.5" r="1.8" fill="#838b8b"/>
<circle cx="554.1" cy="678.9" r="1.8" fill="#838b8b"/>
<circle cx="554.3" cy="674.8" r="1.8" fill="#838b8b"/>
<circle cx="575.3" cy="683.2" r="1.8" fill="#ff00ff"/>
<circle cx="575.5" cy="680.1" r="1.8" fill="#ff00ff"/>
<circle cx="597.0" cy="685.9" r="1.8" fill="#838b8b"/>
<circle cx="597.4" cy="683.3" r="1.8" fill="#838b8b"/>
<circle cx="597.4" cy="680.1" r="1.8" fill="#838b8b"/>
<circle cx="628.8" cy="683.3" r="1.8" fill="#ff00ff"/>
<circle cx="629.0" cy="679.2" r="1.8" fill="#ff00ff"/>
<circle cx="640.6" cy="685.4" r="1.8" fill="#838b8b"/>
<circle cx="641.0" cy="681.0" r="1.8" fill="#838b8b"/>
<circle cx="612.1" cy="460.3" r="1.8" fill="#ff00ff"/>
<circle cx="612.1" cy="525.2" r="1.8" fill="#ff00ff"/>
<circle cx="612.1" cy="527.9" r="1.8" fill="#ff00ff"/>
<circle cx="612.1" cy="532.4" r="1.8" fill="#ff00ff"/>
<circle cx="612.1" cy="535.0" r="1.8" fill="#ff00ff"/>
<circle cx="612.1" cy="537.7" r="1.8" fill="#ff00ff"/>
<circle cx="612.1" cy="541.3" r="1.8" fill="#ff00ff"/>
<circle cx="612.1" cy="543.9" r="1.8" fill="#ff00ff"/>
<circle cx="612.1" cy="549.7" r="1.8" fill="#ff00ff"/>
<circle cx="612.1" cy="603.6" r="1.8" fill="#ff00ff"/>
<circle cx="612.1" cy="609.8" r="1.8" fill="#ff00ff"/>
<circle cx="612.1" cy="624.0" r="1.8" fill="#ff00ff"/>
<circle cx="612.1" cy="637.4" r="1.8" fill="#ff00ff"/>
<circle cx="612.1" cy="648.5" r="1.8" fill="#ff00ff"/>
<circle cx="612.1" cy="685.5" r="1.8" fill="#ff00ff"/>
<circle cx="612.1" cy="684.5" r="1.8" fill="#ff00ff"/>
<circle cx="612.1" cy="683.6" r="1.8" fill="#ff00ff"/>
<circle cx="612.1" cy="682.8" r="1.8" fill="#ff00ff"/>
<circle cx="612.1" cy="681.9" r="1.8" fill="#ff00ff"/>
<circle cx="612.1" cy="681.0" r="1.8" fill="#ff00ff"/>
<circle cx="612.1" cy="680.1" r="1.8" fill="#ff00ff"/>
<circle cx="612.1" cy="679.1" r="1.8" fill="#ff00ff"/>
<circle cx="612.1" cy="678.2" r="1.8" fill="#ff00ff"/>
<circle cx="612.1" cy="677.4" r="1.8" fill="#ff00ff"/>
<circle cx="612.1" cy="676.5" r="1.8" fill="#ff00ff"/>
<circle cx="612.1" cy="675.6" r="1.8" fill="#ff00ff"/>
<circle cx="612.1" cy="674.7" r="1.8" fill="#ff00ff"/>
<circle cx="612.1" cy="673.8" r="1.8" fill="#ff00ff"/>
<circle cx="612.1" cy="672.9" r="1.8" fill="#ff00ff"/>
<circle cx="612.1" cy="672.0" r="1.8" fill="#ff00ff"/>
<circle cx="612.1" cy="671.1" r="1.8" fill="#ff00ff"/>
<circle cx="612.1" cy="670.2" r="1.8" fill="#ff00ff"/>
<circle cx="612.1" cy="669.3" r="1.8" fill="#ff00ff"/>
<circle cx="612.1" cy="668.4" r="1.8" fill="#ff00ff"/>
<circle cx="612.1" cy="667.5" r="1.8" fill="#ff00ff"/>
<circle cx="612.1" cy="666.6" r="1.8" fill="#ff00ff"/>
<circle cx="612.1" cy="665.7" r="1.8" fill="#ff00ff"/>
<circle cx="612.1" cy="664.8" r="1.8" fill="#ff00ff"/>
<circle cx="612.1" cy="663.9" r="1.8" fill="#ff00ff"/>
<circle cx="612.1" cy="663.0" r="1.8" fill="#ff00ff"/>
<circle cx="612.1" cy="662.1" r="1.8" fill="#ff00ff"/>
<circle cx="612.1" cy="661.2" r="1.8" fill="#ff00ff"/>
<circle cx="612.1" cy="660.3" r="1.8" fill="#ff00ff"/>
<circle cx="612.1" cy="659.4" r="1.8" fill="#ff00ff"/>
<circle cx="612.1" cy="658.5" r="1.8" fill="#ff00ff"/>
<circle cx="612.1" cy="657.6" r="1.8" fill="#ff00ff"/>
<circle cx="612.1" cy="656.7" r="1.8" fill="#ff00ff"/>
<circle cx="612.1" cy="655.8" r="1.8" fill="#ff00ff"/>
<circle cx="612.1" cy="654.9" r="1.8" fill="#ff00ff"/>
<circle cx="612.1" cy="654.0" r="1.8" fill="#ff00ff"/>
<circle cx="612.1" cy="653.1" r="1.8" fill="#ff00ff"/>
<circle cx="612.1" cy="652.2" r="1.8" fill="#ff00ff"/>
<circle cx="612.1" cy="651.3" r="1.8" fill="#ff00ff"/>
<circle cx="111.1" cy="624.5" r="1.8" fill="#ff00ff"/>
<circle cx="111.1" cy="627.6" r="1.8" fill="#ff00ff"/>
<circle cx="111.1" cy="630.3" r="1.8" fill="#ff00ff"/>
<circle cx="111.1" cy="632.0" r="1.8" fill="#ff00ff"/>
<circle cx="111.1" cy="641.0" r="1.8" fill="#ff00ff"/>
<circle cx="111.1" cy="647.2" r="1.8" fill="#ff00ff"/>
<circle cx="111.1" cy="649.9" r="1.8" fill="#ff00ff"/>
<circle cx="111.1" cy="654.3" r="1.8" fill="#ff00ff"/>
<circle cx="111.1" cy="661.4" r="1.8" fill="#ff00ff"/>
<circle cx="111.1" cy="670.3" r="1.8" fill="#ff00ff"/>
<circle cx="111.1" cy="675.7" r="1.8" fill="#ff00ff"/>
<circle cx="326.2" cy="627.6" r="1.8" fill="#838b8b"/>
<circle cx="326.2" cy="631.2" r="1.8" fill="#838b8b"/>
<circle cx="326.2" cy="633.8" r="1.8" fill="#838b8b"/>
<circle cx="326.2" cy="636.5" r="1.8" fill="#838b8b"/>
<circle cx="326.2" cy="657.0" r="1.8" fill="#838b8b"/>
<circle cx="326.2" cy="659.6" r="1.8" fill="#838b8b"/>
<circle cx="326.2" cy="666.8" r="1.8" fill="#838b8b"/>
<circle cx="326.2" cy="671.2" r="1.8" fill="#838b8b"/>
<circle cx="326.2" cy="678.3" r="1.8" fill="#838b8b"/>
<circle cx="470.5" cy="688.1" r="1.8" fill="#838b8b"/>
<circle cx="470.5" cy="687.2" r="1.8" fill="#838b8b"/>
<circle cx="470.5" cy="686.3" r="1.8" fill="#838b8b"/>
<circle cx="470.5" cy="685.4" r="1.8" fill="#838b8b"/>
<circle cx="470.5" cy="684.5" r="1.8" fill="#838b8b"/>
<circle cx="470.5" cy="683.6" r="1.8" fill="#838b8b"/>
<circle cx="470.5" cy="682.7" r="1.8" fill="#838b8b"/>
<circle cx="470.5" cy="681.8" r="1.8" fill="#838b8b"/>
<circle cx="470.5" cy="680.9" r="1.8" fill="#838b8b"/>
<circle cx="470.5" cy="680.0" r="1.8" fill="#838b8b"/>
<circle cx="470.5" cy="679.1" r="1.8" fill="#838b8b"/>
<circle cx="470.5" cy="678.2" r="1.8" fill="#838b8b"/>
<circle cx="470.5" cy="677.3" r="1.8" fill="#838b8b"/>
<circle cx="470.5" cy="676.4" r="1.8" fill="#838b8b"/>
<circle cx="470.5" cy="675.5" r="1.8" fill="#838b8b"/>
<circle cx="470.5" cy="674.6" r="1.8" fill="#838b8b"/>
<circle cx="470.5" cy="673.7" r="1.8" fill="#838b8b"/>
<circle cx="470.5" cy="672.8" r="1.8" fill="#838b8b"/>
<circle cx="470.5" cy="671.9" r="1.8" fill="#838b8b"/>
<circle cx="470.5" cy="671.0" r="1.8" fill="#838b8b"/>
<circle cx="470.5" cy="670.1" r="1.8" fill="#838b8b"/>
<circle cx="470.5" cy="669.2" r="1.8" fill="#838b8b"/>
<circle cx="470.5" cy="668.3" r="1.8" fill="#838b8b"/>
<circle cx="470.5" cy="667.4" r="1.8" fill="#838b8b"/>
<circle cx="470.5" cy="666.5" r="1.8" fill="#838b8b"/>
<circle cx="470.5" cy="665.6" r="1.8" fill="#838b8b"/>
<circle cx="470.5" cy="664.7" r="1.8" fill="#838b8b"/>
<circle cx="470.5" cy="663.8" r="1.8" fill="#838b8b"/>
<circle cx="470.5" cy="662.9" r="1.8" fill="#838b8b"/>
<circle cx="470.5" cy="662.0" r="1.8" fill="#838b8b"/>
<circle cx="470.5" cy="661.1" r="1.8" fill="#838b8b"/>
<circle cx="470.5" cy="660.2" r="1.8" fill="#838b8b"/>
<circle cx="230.7" cy="671.2" r="1.8" fill="#838b8b"/>
<text x="-0.58" y="406.38" font-size="32.67" textLength="18.24" lengthAdjust="spacingAndGlyphs" font-weight="bold">c</text>
<text x="63.72" y="422.67" font-size="24.01" textLength="36.95" lengthAdjust="spacingAndGlyphs">M3</text>
<text transform="translate(29.30,0) rotate(-90)" x="-635.98" y="0.74" font-size="20.30" textLength="15.15" lengthAdjust="spacingAndGlyphs">−</text>
<text transform="translate(29.30,0) rotate(-90)" x="-617.23" y="0.00" font-size="20.30" textLength="28.30" lengthAdjust="spacingAndGlyphs">log</text>
<text transform="translate(32.80,0) rotate(-90)" x="-589.26" y="0.00" font-size="12.60" textLength="15.51" lengthAdjust="spacingAndGlyphs">10</text>
<text transform="translate(27.70,0) rotate(-90)" x="-571.63" y="0.00" font-size="24.70" textLength="9.29" lengthAdjust="spacingAndGlyphs">(</text>
<text transform="translate(29.30,0) rotate(-90)" x="-562.01" y="0.00" font-size="20.30" textLength="10.94" lengthAdjust="spacingAndGlyphs" font-style="italic">p</text>
<text transform="translate(27.70,0) rotate(-90)" x="-547.03" y="0.00" font-size="24.70" textLength="7.16" lengthAdjust="spacingAndGlyphs">)</text>
<text x="305.94" y="772.02" font-size="18.79" textLength="124.88" lengthAdjust="spacingAndGlyphs">Chromosome</text>
<text x="614.37" y="460.27" font-size="13.42" textLength="37.40" lengthAdjust="spacingAndGlyphs">APOE</text>
<text x="119.01" y="625.48" font-size="12.53" textLength="151.26" lengthAdjust="spacingAndGlyphs">CELSR2/PSRC1/SORT1</text>
<text x="327.19" y="628.60" font-size="13.37" textLength="25.64" lengthAdjust="spacingAndGlyphs">LPA</text>
<line x1="783.1" y1="661.51" x2="1368.2" y2="661.51" stroke="#ffc6c6" stroke-width="1.15"/>
<line x1="783.10" y1="466.7" x2="783.10" y2="724.5" stroke="#c8c8c8" stroke-width="1.2"/>
<line x1="777.1" y1="724.00" x2="783.1" y2="724.00" stroke="#a8a8a8" stroke-width="1.2"/>
<text x="758.86" y="731.59" font-size="21.19" textLength="11.77" lengthAdjust="spacingAndGlyphs">0</text>
<line x1="777.1" y1="681.20" x2="783.1" y2="681.20" stroke="#a8a8a8" stroke-width="1.2"/>
<text x="758.92" y="688.79" font-size="21.19" textLength="11.77" lengthAdjust="spacingAndGlyphs">5</text>
<line x1="777.1" y1="638.40" x2="783.1" y2="638.40" stroke="#a8a8a8" stroke-width="1.2"/>
<text x="747.09" y="645.99" font-size="21.19" textLength="23.53" lengthAdjust="spacingAndGlyphs">10</text>
<line x1="777.1" y1="595.60" x2="783.1" y2="595.60" stroke="#a8a8a8" stroke-width="1.2"/>
<text x="747.16" y="603.19" font-size="21.19" textLength="23.53" lengthAdjust="spacingAndGlyphs">15</text>
<line x1="777.1" y1="552.80" x2="783.1" y2="552.80" stroke="#a8a8a8" stroke-width="1.2"/>
<text x="747.09" y="560.39" font-size="21.19" textLength="23.53" lengthAdjust="spacingAndGlyphs">20</text>
<line x1="777.1" y1="510.00" x2="783.1" y2="510.00" stroke="#a8a8a8" stroke-width="1.2"/>
<text x="747.16" y="517.59" font-size="21.19" textLength="23.53" lengthAdjust="spacingAndGlyphs">25</text>
<line x1="777.1" y1="467.20" x2="783.1" y2="467.20" stroke="#a8a8a8" stroke-width="1.2"/>
<text x="747.09" y="474.79" font-size="21.19" textLength="23.53" lengthAdjust="spacingAndGlyphs">30</text>
<line x1="823.98" y1="724.6" x2="823.98" y2="729.8" stroke="#8c8c8c" stroke-width="1.1"/>
<text x="817.98" y="746.00" font-size="19.77" textLength="11.43" lengthAdjust="spacingAndGlyphs">1</text>
<line x1="871.07" y1="724.6" x2="871.07" y2="729.8" stroke="#8c8c8c" stroke-width="1.1"/>
<text x="865.35" y="746.00" font-size="19.77" textLength="11.43" lengthAdjust="spacingAndGlyphs">2</text>
<line x1="913.32" y1="724.6" x2="913.32" y2="729.8" stroke="#8c8c8c" stroke-width="1.1"/>
<text x="907.67" y="745.81" font-size="19.77" textLength="11.43" lengthAdjust="spacingAndGlyphs">3</text>
<line x1="950.31" y1="724.6" x2="950.31" y2="729.8" stroke="#8c8c8c" stroke-width="1.1"/>
<text x="944.66" y="746.00" font-size="19.77" textLength="11.43" lengthAdjust="spacingAndGlyphs">4</text>
<line x1="985.35" y1="724.6" x2="985.35" y2="729.8" stroke="#8c8c8c" stroke-width="1.1"/>
<text x="979.65" y="745.81" font-size="19.77" textLength="11.43" lengthAdjust="spacingAndGlyphs">5</text>
<line x1="1019.44" y1="724.6" x2="1019.44" y2="729.8" stroke="#8c8c8c" stroke-width="1.1"/>
<text x="1013.65" y="745.81" font-size="19.77" textLength="11.43" lengthAdjust="spacingAndGlyphs">6</text>
<line x1="1051.04" y1="724.6" x2="1051.04" y2="729.8" stroke="#8c8c8c" stroke-width="1.1"/>
<text x="1045.31" y="746.00" font-size="19.77" textLength="11.43" lengthAdjust="spacingAndGlyphs">7</text>
<line x1="1080.75" y1="724.6" x2="1080.75" y2="729.8" stroke="#8c8c8c" stroke-width="1.1"/>
<text x="1075.03" y="745.81" font-size="19.77" textLength="11.43" lengthAdjust="spacingAndGlyphs">8</text>
<line x1="1107.57" y1="724.6" x2="1107.57" y2="729.8" stroke="#8c8c8c" stroke-width="1.1"/>
<line x1="1134.56" y1="724.6" x2="1134.56" y2="729.8" stroke="#8c8c8c" stroke-width="1.1"/>
<text x="1122.74" y="745.81" font-size="19.77" textLength="22.87" lengthAdjust="spacingAndGlyphs">10</text>
<line x1="1160.66" y1="724.6" x2="1160.66" y2="729.8" stroke="#8c8c8c" stroke-width="1.1"/>
<line x1="1186.81" y1="724.6" x2="1186.81" y2="729.8" stroke="#8c8c8c" stroke-width="1.1"/>
<text x="1175.11" y="746.00" font-size="19.77" textLength="22.87" lengthAdjust="spacingAndGlyphs">12</text>
<line x1="1211.91" y1="724.6" x2="1211.91" y2="729.8" stroke="#8c8c8c" stroke-width="1.1"/>
<line x1="1233.07" y1="724.6" x2="1233.07" y2="729.8" stroke="#8c8c8c" stroke-width="1.1"/>
<text x="1221.15" y="746.00" font-size="19.77" textLength="22.87" lengthAdjust="spacingAndGlyphs">14</text>
<line x1="1252.28" y1="724.6" x2="1252.28" y2="729.8" stroke="#8c8c8c" stroke-width="1.1"/>
<line x1="1270.44" y1="724.6" x2="1270.44" y2="729.8" stroke="#8c8c8c" stroke-width="1.1"/>
<line x1="1286.15" y1="724.6" x2="1286.15" y2="729.8" stroke="#8c8c8c" stroke-width="1.1"/>
<text x="1274.45" y="746.00" font-size="19.77" textLength="22.87" lengthAdjust="spacingAndGlyphs">17</text>
<line x1="1302.03" y1="724.6" x2="1302.03" y2="729.8" stroke="#8c8c8c" stroke-width="1.1"/>
<line x1="1314.92" y1="724.6" x2="1314.92" y2="729.8" stroke="#8c8c8c" stroke-width="1.1"/>
<line x1="1326.36" y1="724.6" x2="1326.36" y2="729.8" stroke="#8c8c8c" stroke-width="1.1"/>
<line x1="1338.18" y1="724.6" x2="1338.18" y2="729.8" stroke="#8c8c8c" stroke-width="1.1"/>
<text x="1326.74" y="746.00" font-size="19.77" textLength="22.87" lengthAdjust="spacingAndGlyphs">21</text>
<line x1="1348.68" y1="724.6" x2="1348.68" y2="729.8" stroke="#8c8c8c" stroke-width="1.1"/>
<path d="M797.8,724.8 L797.8,686.1 L798.8,685.1 L799.8,684.9 L800.8,685.4 L801.8,685.3 L802.9,685.1 L803.9,685.1 L804.9,685.1 L805.9,684.6 L806.9,684.1 L807.9,683.4 L808.9,684.3 L809.9,685.3 L810.9,684.7 L812.0,685.2 L813.0,685.9 L814.0,684.2 L815.0,684.0 L816.0,684.8 L817.0,685.3 L818.0,684.9 L819.0,684.9 L819.2,684.9 L819.4,684.9 L819.6,684.9 L819.8,684.9 L820.0,684.9 L820.2,684.7 L820.4,684.7 L820.6,684.7 L820.8,684.7 L821.0,684.7 L821.2,685.0 L821.4,685.0 L821.6,685.0 L821.8,685.0 L822.0,685.0 L822.2,686.6 L822.4,686.6 L822.6,686.6 L822.8,686.6 L823.0,686.6 L823.2,687.5 L823.4,687.5 L823.6,687.5 L823.8,687.5 L824.0,689.0 L824.2,691.0 L824.4,693.0 L824.6,695.0 L824.8,696.9 L824.8,724.8 L824.8,724.8 L825.0,724.8 L825.2,724.8 L825.4,724.8 L825.6,724.8 L825.6,687.2 L825.6,687.1 L825.8,686.0 L826.0,685.3 L826.2,687.0 L826.4,687.0 L826.6,687.0 L826.8,687.0 L827.0,687.0 L827.2,686.0 L827.4,686.0 L827.6,686.0 L827.8,686.0 L828.0,686.0 L828.2,685.4 L828.4,685.4 L828.6,685.4 L828.8,685.4 L829.0,685.4 L829.2,684.7 L829.4,684.7 L829.6,684.7 L829.8,684.7 L830.0,684.7 L830.2,685.0 L830.4,685.0 L830.6,685.0 L830.8,685.0 L831.0,685.0 L832.2,685.7 L833.2,686.8 L834.2,686.3 L835.2,685.7 L836.2,685.8 L837.2,686.8 L838.2,686.5 L839.2,686.5 L840.3,685.4 L841.3,686.3 L842.3,686.7 L843.3,686.5 L844.3,685.9 L845.3,684.7 L846.3,684.6 L846.3,724.8 Z" fill="#ff00ff"/>
<circle cx="815.0" cy="679.6" r="1.8" fill="#ff00ff"/>
<circle cx="836.6" cy="685.3" r="1.8" fill="#ff00ff"/>
<circle cx="806.5" cy="683.8" r="1.8" fill="#ff00ff"/>
<circle cx="809.5" cy="679.3" r="1.8" fill="#ff00ff"/>
<circle cx="828.7" cy="684.9" r="1.8" fill="#ff00ff"/>
<circle cx="808.4" cy="683.3" r="1.8" fill="#ff00ff"/>
<circle cx="804.4" cy="682.0" r="1.8" fill="#ff00ff"/>
<circle cx="826.9" cy="682.2" r="1.8" fill="#ff00ff"/>
<circle cx="802.0" cy="684.4" r="1.8" fill="#ff00ff"/>
<circle cx="827.7" cy="685.6" r="1.8" fill="#ff00ff"/>
<circle cx="804.9" cy="683.2" r="1.8" fill="#ff00ff"/>
<circle cx="837.3" cy="682.9" r="1.8" fill="#ff00ff"/>
<circle cx="827.5" cy="684.8" r="1.8" fill="#ff00ff"/>
<circle cx="811.7" cy="680.5" r="1.8" fill="#ff00ff"/>
<circle cx="799.6" cy="684.5" r="1.8" fill="#ff00ff"/>
<circle cx="827.8" cy="681.4" r="1.8" fill="#ff00ff"/>
<circle cx="808.1" cy="680.3" r="1.8" fill="#ff00ff"/>
<circle cx="812.0" cy="680.4" r="1.8" fill="#ff00ff"/>
<circle cx="843.0" cy="686.6" r="1.8" fill="#ff00ff"/>
<circle cx="822.6" cy="685.5" r="1.8" fill="#ff00ff"/>
<circle cx="838.7" cy="683.4" r="1.8" fill="#ff00ff"/>
<path d="M845.7,724.8 L845.7,687.9 L846.7,687.2 L847.7,688.3 L848.7,687.5 L849.7,687.3 L850.7,687.7 L851.7,687.7 L852.7,685.8 L853.7,686.9 L854.7,687.6 L855.8,688.7 L856.8,687.9 L857.8,687.6 L858.8,687.8 L859.8,686.7 L860.8,688.0 L861.8,688.1 L862.8,687.0 L863.8,687.1 L864.8,687.9 L865.8,688.2 L866.8,689.0 L867.8,687.9 L868.8,687.6 L869.8,688.0 L870.8,687.7 L871.8,687.2 L872.8,687.7 L873.8,687.6 L874.8,686.6 L875.8,687.8 L876.8,687.9 L877.8,688.3 L878.8,687.2 L879.8,687.2 L880.8,687.6 L881.8,686.1 L882.8,687.9 L883.8,688.4 L884.8,689.5 L885.8,690.2 L886.8,687.7 L887.8,687.8 L888.8,689.0 L889.8,689.0 L890.9,688.3 L891.9,688.5 L892.9,689.4 L892.9,724.8 Z" fill="#838b8b"/>
<circle cx="847.4" cy="685.8" r="1.8" fill="#838b8b"/>
<circle cx="856.6" cy="685.3" r="1.8" fill="#838b8b"/>
<circle cx="852.9" cy="685.6" r="1.8" fill="#838b8b"/>
<circle cx="852.5" cy="687.2" r="1.8" fill="#838b8b"/>
<circle cx="864.5" cy="682.8" r="1.8" fill="#838b8b"/>
<circle cx="860.8" cy="687.9" r="1.8" fill="#838b8b"/>
<circle cx="852.9" cy="682.1" r="1.8" fill="#838b8b"/>
<circle cx="877.2" cy="685.9" r="1.8" fill="#838b8b"/>
<circle cx="877.6" cy="686.2" r="1.8" fill="#838b8b"/>
<circle cx="861.3" cy="684.4" r="1.8" fill="#838b8b"/>
<circle cx="876.0" cy="687.6" r="1.8" fill="#838b8b"/>
<circle cx="882.3" cy="685.6" r="1.8" fill="#838b8b"/>
<circle cx="852.4" cy="686.6" r="1.8" fill="#838b8b"/>
<circle cx="872.0" cy="687.1" r="1.8" fill="#838b8b"/>
<circle cx="885.1" cy="687.9" r="1.8" fill="#838b8b"/>
<circle cx="866.2" cy="687.4" r="1.8" fill="#838b8b"/>
<circle cx="888.8" cy="683.6" r="1.8" fill="#838b8b"/>
<circle cx="858.2" cy="683.9" r="1.8" fill="#838b8b"/>
<circle cx="859.3" cy="686.5" r="1.8" fill="#838b8b"/>
<circle cx="865.1" cy="686.0" r="1.8" fill="#838b8b"/>
<circle cx="882.4" cy="685.1" r="1.8" fill="#838b8b"/>
<path d="M892.3,724.8 L892.3,688.5 L893.3,687.3 L894.3,688.5 L895.3,687.6 L896.3,687.9 L897.3,689.0 L898.3,688.8 L899.4,688.0 L900.4,688.9 L901.4,687.6 L902.4,687.4 L903.4,686.7 L904.4,686.3 L905.4,687.4 L906.5,687.5 L907.5,687.6 L908.5,686.8 L909.5,686.7 L910.5,687.0 L911.5,686.9 L912.5,687.2 L913.5,685.2 L914.6,686.0 L915.6,686.4 L916.6,686.4 L917.6,687.3 L918.6,686.6 L919.6,685.7 L920.6,686.6 L921.7,687.4 L922.7,687.6 L923.7,688.9 L924.7,688.5 L925.7,687.0 L926.7,685.9 L927.7,686.3 L928.8,686.9 L929.8,685.8 L930.8,686.3 L930.8,724.8 Z" fill="#ff00ff"/>
<circle cx="917.5" cy="683.7" r="1.8" fill="#ff00ff"/>
<circle cx="927.2" cy="683.3" r="1.8" fill="#ff00ff"/>
<circle cx="910.7" cy="682.3" r="1.8" fill="#ff00ff"/>
<circle cx="927.3" cy="683.3" r="1.8" fill="#ff00ff"/>
<circle cx="899.5" cy="686.7" r="1.8" fill="#ff00ff"/>
<circle cx="903.0" cy="684.6" r="1.8" fill="#ff00ff"/>
<circle cx="906.5" cy="685.1" r="1.8" fill="#ff00ff"/>
<circle cx="928.0" cy="685.8" r="1.8" fill="#ff00ff"/>
<circle cx="921.0" cy="686.5" r="1.8" fill="#ff00ff"/>
<circle cx="913.6" cy="683.4" r="1.8" fill="#ff00ff"/>
<circle cx="927.3" cy="682.9" r="1.8" fill="#ff00ff"/>
<circle cx="905.5" cy="686.6" r="1.8" fill="#ff00ff"/>
<circle cx="912.7" cy="681.0" r="1.8" fill="#ff00ff"/>
<circle cx="894.8" cy="688.0" r="1.8" fill="#ff00ff"/>
<circle cx="919.7" cy="685.7" r="1.8" fill="#ff00ff"/>
<circle cx="916.4" cy="682.4" r="1.8" fill="#ff00ff"/>
<circle cx="921.3" cy="683.2" r="1.8" fill="#ff00ff"/>
<path d="M930.2,724.8 L930.2,685.6 L931.2,685.7 L932.2,686.2 L933.3,684.8 L934.3,685.5 L935.3,686.2 L936.3,687.4 L937.4,685.4 L938.4,685.4 L939.4,684.6 L940.4,684.2 L941.5,684.2 L942.5,684.9 L943.5,685.1 L944.5,684.5 L945.6,684.7 L946.6,683.5 L947.6,684.6 L948.6,684.9 L949.7,686.3 L950.7,685.9 L951.7,685.1 L952.7,685.1 L953.8,683.9 L954.8,684.4 L955.8,684.9 L956.8,685.0 L957.9,685.1 L958.9,684.6 L959.9,685.7 L960.9,685.8 L962.0,686.2 L963.0,685.4 L964.0,684.6 L965.0,684.7 L966.1,685.6 L967.1,686.2 L967.1,724.8 Z" fill="#838b8b"/>
<circle cx="951.6" cy="685.4" r="1.8" fill="#838b8b"/>
<circle cx="957.5" cy="684.2" r="1.8" fill="#838b8b"/>
<circle cx="955.9" cy="680.7" r="1.8" fill="#838b8b"/>
<circle cx="942.1" cy="677.8" r="1.8" fill="#838b8b"/>
<circle cx="956.5" cy="683.9" r="1.8" fill="#838b8b"/>
<circle cx="962.4" cy="682.2" r="1.8" fill="#838b8b"/>
<circle cx="947.1" cy="676.8" r="1.8" fill="#838b8b"/>
<circle cx="948.3" cy="678.7" r="1.8" fill="#838b8b"/>
<circle cx="939.8" cy="680.3" r="1.8" fill="#838b8b"/>
<circle cx="942.7" cy="683.7" r="1.8" fill="#838b8b"/>
<circle cx="941.0" cy="683.0" r="1.8" fill="#838b8b"/>
<circle cx="964.9" cy="684.5" r="1.8" fill="#838b8b"/>
<circle cx="950.6" cy="685.9" r="1.8" fill="#838b8b"/>
<circle cx="960.2" cy="683.5" r="1.8" fill="#838b8b"/>
<circle cx="955.6" cy="681.9" r="1.8" fill="#838b8b"/>
<circle cx="962.8" cy="683.7" r="1.8" fill="#838b8b"/>
<circle cx="951.0" cy="684.9" r="1.8" fill="#838b8b"/>
<circle cx="951.0" cy="682.3" r="1.8" fill="#838b8b"/>
<path d="M966.5,724.8 L966.5,685.6 L967.5,686.9 L968.5,687.2 L969.6,687.8 L970.6,687.5 L971.6,687.0 L972.6,686.9 L973.6,685.4 L974.6,685.2 L975.7,686.1 L976.7,686.3 L977.7,687.5 L978.7,686.6 L979.7,687.9 L980.7,688.8 L981.8,689.1 L982.8,686.5 L983.8,686.3 L984.8,686.5 L985.8,687.9 L986.8,687.4 L987.9,688.4 L988.9,687.0 L989.9,687.0 L990.9,687.0 L991.9,687.8 L992.9,686.7 L994.0,686.8 L995.0,686.4 L996.0,687.2 L997.0,687.8 L998.0,685.4 L999.0,686.3 L1000.1,686.6 L1001.1,686.6 L1002.1,686.4 L1002.1,724.8 Z" fill="#ff00ff"/>
<circle cx="981.8" cy="686.3" r="1.8" fill="#ff00ff"/>
<circle cx="982.1" cy="687.0" r="1.8" fill="#ff00ff"/>
<circle cx="981.4" cy="687.5" r="1.8" fill="#ff00ff"/>
<circle cx="992.6" cy="684.7" r="1.8" fill="#ff00ff"/>
<circle cx="980.4" cy="685.1" r="1.8" fill="#ff00ff"/>
<circle cx="993.2" cy="685.9" r="1.8" fill="#ff00ff"/>
<circle cx="991.0" cy="685.2" r="1.8" fill="#ff00ff"/>
<circle cx="980.0" cy="687.6" r="1.8" fill="#ff00ff"/>
<circle cx="978.2" cy="687.0" r="1.8" fill="#ff00ff"/>
<circle cx="984.9" cy="685.7" r="1.8" fill="#ff00ff"/>
<circle cx="986.8" cy="685.0" r="1.8" fill="#ff00ff"/>
<circle cx="975.8" cy="684.5" r="1.8" fill="#ff00ff"/>
<circle cx="990.5" cy="685.1" r="1.8" fill="#ff00ff"/>
<circle cx="999.3" cy="681.3" r="1.8" fill="#ff00ff"/>
<circle cx="973.7" cy="681.8" r="1.8" fill="#ff00ff"/>
<circle cx="982.8" cy="681.5" r="1.8" fill="#ff00ff"/>
<circle cx="978.1" cy="686.5" r="1.8" fill="#ff00ff"/>
<circle cx="978.1" cy="683.9" r="1.8" fill="#ff00ff"/>
<path d="M1001.5,724.8 L1001.5,687.6 L1002.5,687.5 L1003.5,687.6 L1004.5,688.0 L1005.5,688.3 L1006.5,688.3 L1007.5,688.6 L1008.5,688.4 L1009.6,687.6 L1010.6,688.5 L1011.6,687.3 L1012.6,687.6 L1013.6,688.0 L1014.6,686.6 L1015.6,687.1 L1016.6,687.7 L1017.6,689.2 L1018.6,687.9 L1019.7,686.3 L1020.7,688.2 L1021.7,688.2 L1022.7,687.7 L1023.7,687.2 L1024.7,689.0 L1025.7,688.6 L1026.7,688.7 L1027.7,687.9 L1028.7,688.0 L1029.7,687.6 L1030.8,689.1 L1031.8,689.9 L1032.8,688.7 L1033.8,690.1 L1034.8,688.9 L1034.8,724.8 Z" fill="#838b8b"/>
<circle cx="1011.7" cy="687.2" r="1.8" fill="#838b8b"/>
<circle cx="1020.8" cy="686.5" r="1.8" fill="#838b8b"/>
<circle cx="1012.5" cy="686.0" r="1.8" fill="#838b8b"/>
<circle cx="1003.9" cy="685.6" r="1.8" fill="#838b8b"/>
<circle cx="1005.8" cy="686.2" r="1.8" fill="#838b8b"/>
<circle cx="1022.9" cy="683.8" r="1.8" fill="#838b8b"/>
<circle cx="1016.1" cy="682.6" r="1.8" fill="#838b8b"/>
<circle cx="1032.8" cy="685.9" r="1.8" fill="#838b8b"/>
<circle cx="1014.8" cy="686.5" r="1.8" fill="#838b8b"/>
<circle cx="1028.6" cy="682.4" r="1.8" fill="#838b8b"/>
<circle cx="1023.3" cy="686.9" r="1.8" fill="#838b8b"/>
<circle cx="1020.0" cy="680.9" r="1.8" fill="#838b8b"/>
<circle cx="1025.5" cy="689.0" r="1.8" fill="#838b8b"/>
<circle cx="1005.2" cy="685.9" r="1.8" fill="#838b8b"/>
<circle cx="1026.6" cy="688.3" r="1.8" fill="#838b8b"/>
<circle cx="1004.4" cy="686.6" r="1.8" fill="#838b8b"/>
<path d="M1034.2,724.8 L1034.2,685.5 L1035.2,685.7 L1036.2,685.7 L1037.2,686.2 L1038.3,686.1 L1039.3,686.2 L1040.3,685.7 L1041.3,685.1 L1042.3,685.6 L1043.3,686.4 L1044.3,685.5 L1045.4,685.2 L1046.4,684.9 L1047.4,685.6 L1048.4,683.4 L1049.4,685.2 L1050.4,685.0 L1051.5,685.5 L1052.5,684.2 L1053.5,683.8 L1054.5,684.6 L1055.5,684.8 L1056.5,684.5 L1057.5,684.4 L1058.6,684.8 L1059.6,684.8 L1060.6,685.0 L1061.6,685.4 L1062.6,685.6 L1063.6,684.2 L1064.7,684.7 L1065.7,686.3 L1065.7,724.8 Z" fill="#ff00ff"/>
<circle cx="1042.4" cy="683.6" r="1.8" fill="#ff00ff"/>
<circle cx="1058.6" cy="681.1" r="1.8" fill="#ff00ff"/>
<circle cx="1056.7" cy="684.3" r="1.8" fill="#ff00ff"/>
<circle cx="1056.1" cy="681.7" r="1.8" fill="#ff00ff"/>
<circle cx="1061.6" cy="683.8" r="1.8" fill="#ff00ff"/>
<circle cx="1059.2" cy="683.7" r="1.8" fill="#ff00ff"/>
<circle cx="1036.7" cy="683.2" r="1.8" fill="#ff00ff"/>
<circle cx="1046.3" cy="685.1" r="1.8" fill="#ff00ff"/>
<circle cx="1063.3" cy="685.3" r="1.8" fill="#ff00ff"/>
<circle cx="1052.0" cy="682.3" r="1.8" fill="#ff00ff"/>
<circle cx="1047.5" cy="682.2" r="1.8" fill="#ff00ff"/>
<circle cx="1046.0" cy="682.8" r="1.8" fill="#ff00ff"/>
<circle cx="1062.3" cy="684.2" r="1.8" fill="#ff00ff"/>
<circle cx="1063.1" cy="682.8" r="1.8" fill="#ff00ff"/>
<circle cx="1037.3" cy="685.2" r="1.8" fill="#ff00ff"/>
<circle cx="1037.3" cy="682.6" r="1.8" fill="#ff00ff"/>
<path d="M1065.1,724.8 L1065.1,688.8 L1066.1,689.3 L1067.1,688.4 L1068.1,688.2 L1069.1,687.0 L1070.1,687.8 L1071.1,689.2 L1072.1,687.9 L1073.1,686.7 L1074.1,687.8 L1075.2,687.9 L1076.2,688.0 L1077.2,687.7 L1078.2,687.3 L1079.2,687.0 L1080.2,687.5 L1081.2,689.1 L1082.2,686.4 L1083.2,687.6 L1084.2,689.0 L1085.2,689.8 L1086.3,688.3 L1087.3,688.7 L1088.3,687.9 L1089.3,688.9 L1090.3,688.6 L1091.3,689.9 L1092.3,688.3 L1093.3,688.8 L1093.3,724.8 Z" fill="#838b8b"/>
<circle cx="1068.6" cy="683.9" r="1.8" fill="#838b8b"/>
<circle cx="1081.9" cy="687.3" r="1.8" fill="#838b8b"/>
<circle cx="1087.9" cy="686.2" r="1.8" fill="#838b8b"/>
<circle cx="1091.6" cy="684.9" r="1.8" fill="#838b8b"/>
<circle cx="1078.7" cy="683.5" r="1.8" fill="#838b8b"/>
<circle cx="1068.6" cy="685.8" r="1.8" fill="#838b8b"/>
<circle cx="1086.6" cy="687.1" r="1.8" fill="#838b8b"/>
<circle cx="1089.4" cy="686.2" r="1.8" fill="#838b8b"/>
<circle cx="1076.1" cy="686.8" r="1.8" fill="#838b8b"/>
<circle cx="1084.8" cy="686.8" r="1.8" fill="#838b8b"/>
<circle cx="1069.4" cy="685.4" r="1.8" fill="#838b8b"/>
<circle cx="1089.0" cy="685.4" r="1.8" fill="#838b8b"/>
<path d="M1092.7,724.8 L1092.7,683.3 L1093.7,683.8 L1094.8,685.1 L1095.8,684.0 L1096.8,682.9 L1097.8,683.3 L1098.9,682.6 L1099.9,681.8 L1100.0,681.8 L1100.2,681.8 L1100.4,681.8 L1100.6,681.8 L1100.8,681.8 L1101.0,682.2 L1101.2,682.2 L1101.4,682.2 L1101.6,682.2 L1101.8,682.2 L1102.0,681.8 L1102.2,681.8 L1102.4,681.8 L1102.6,682.1 L1102.8,683.1 L1103.0,684.1 L1103.2,685.2 L1103.4,686.4 L1103.6,687.6 L1103.8,688.9 L1104.0,690.3 L1104.2,691.8 L1104.4,693.4 L1104.6,695.3 L1104.8,697.4 L1105.0,700.0 L1105.2,703.8 L1105.3,707.4 L1105.3,724.8 L1105.4,724.8 L1105.6,724.8 L1105.8,724.8 L1106.0,724.8 L1106.2,724.8 L1106.4,724.8 L1106.6,724.8 L1106.7,724.8 L1106.7,688.2 L1106.8,688.2 L1107.0,688.2 L1107.2,688.2 L1107.4,688.2 L1107.6,688.2 L1107.8,688.2 L1108.0,688.2 L1108.2,688.2 L1108.4,688.2 L1108.6,688.2 L1108.8,688.2 L1109.0,688.2 L1109.2,688.2 L1109.4,688.2 L1109.6,688.2 L1109.8,688.2 L1110.0,688.2 L1110.2,689.2 L1110.4,689.2 L1110.6,689.2 L1110.8,689.2 L1111.0,689.2 L1111.2,689.9 L1111.4,689.9 L1111.6,689.9 L1111.8,689.9 L1112.2,689.1 L1113.2,688.3 L1114.3,688.8 L1115.3,688.9 L1116.3,688.9 L1117.3,689.7 L1118.4,691.5 L1119.4,690.6 L1120.4,688.5 L1120.4,724.8 Z" fill="#ff00ff"/>
<circle cx="1098.1" cy="682.2" r="1.8" fill="#ff00ff"/>
<circle cx="1100.4" cy="681.8" r="1.8" fill="#ff00ff"/>
<circle cx="1096.3" cy="680.3" r="1.8" fill="#ff00ff"/>
<circle cx="1117.9" cy="688.5" r="1.8" fill="#ff00ff"/>
<circle cx="1101.0" cy="682.1" r="1.8" fill="#ff00ff"/>
<circle cx="1098.5" cy="683.2" r="1.8" fill="#ff00ff"/>
<circle cx="1094.3" cy="681.8" r="1.8" fill="#ff00ff"/>
<path d="M1119.8,724.8 L1119.8,682.5 L1120.8,683.0 L1121.8,681.5 L1122.9,681.5 L1123.9,680.1 L1124.9,678.7 L1125.9,681.4 L1126.9,682.1 L1127.9,682.7 L1128.9,683.1 L1130.0,682.4 L1131.0,682.3 L1132.0,682.7 L1133.0,681.4 L1134.0,682.4 L1135.0,680.6 L1136.0,681.5 L1137.1,680.4 L1138.1,682.0 L1139.1,682.1 L1140.1,680.7 L1141.1,682.7 L1142.1,681.6 L1143.1,681.8 L1144.2,682.2 L1145.2,682.1 L1146.2,681.8 L1146.2,724.8 Z" fill="#838b8b"/>
<circle cx="1132.7" cy="678.7" r="1.8" fill="#838b8b"/>
<circle cx="1133.4" cy="680.0" r="1.8" fill="#838b8b"/>
<circle cx="1132.0" cy="680.8" r="1.8" fill="#838b8b"/>
<circle cx="1137.5" cy="678.4" r="1.8" fill="#838b8b"/>
<circle cx="1128.1" cy="681.6" r="1.8" fill="#838b8b"/>
<circle cx="1139.3" cy="676.0" r="1.8" fill="#838b8b"/>
<circle cx="1130.6" cy="682.0" r="1.8" fill="#838b8b"/>
<circle cx="1125.4" cy="678.6" r="1.8" fill="#838b8b"/>
<circle cx="1132.9" cy="682.0" r="1.8" fill="#838b8b"/>
<circle cx="1132.0" cy="679.2" r="1.8" fill="#838b8b"/>
<circle cx="1135.1" cy="678.1" r="1.8" fill="#838b8b"/>
<path d="M1145.6,724.8 L1145.6,684.9 L1146.6,683.6 L1147.6,683.3 L1148.7,682.8 L1149.7,684.6 L1150.7,683.7 L1151.8,683.5 L1152.8,684.7 L1153.8,683.6 L1154.9,683.3 L1155.9,683.5 L1156.9,683.9 L1158.0,683.7 L1159.0,682.6 L1160.0,684.3 L1161.1,683.4 L1162.1,684.9 L1163.1,684.7 L1164.1,682.7 L1165.2,683.3 L1166.2,684.1 L1167.2,684.1 L1168.3,685.7 L1169.3,685.7 L1170.3,686.2 L1171.4,685.2 L1172.4,684.4 L1172.4,724.8 Z" fill="#ff00ff"/>
<circle cx="1154.8" cy="682.6" r="1.8" fill="#ff00ff"/>
<circle cx="1148.0" cy="683.1" r="1.8" fill="#ff00ff"/>
<circle cx="1158.1" cy="683.5" r="1.8" fill="#ff00ff"/>
<circle cx="1163.2" cy="678.4" r="1.8" fill="#ff00ff"/>
<circle cx="1161.2" cy="675.0" r="1.8" fill="#ff00ff"/>
<circle cx="1165.0" cy="681.9" r="1.8" fill="#ff00ff"/>
<circle cx="1156.3" cy="679.7" r="1.8" fill="#ff00ff"/>
<circle cx="1161.5" cy="682.6" r="1.8" fill="#ff00ff"/>
<circle cx="1147.3" cy="680.9" r="1.8" fill="#ff00ff"/>
<circle cx="1169.3" cy="684.7" r="1.8" fill="#ff00ff"/>
<circle cx="1170.9" cy="679.4" r="1.8" fill="#ff00ff"/>
<circle cx="1148.3" cy="681.0" r="1.8" fill="#ff00ff"/>
<path d="M1171.8,724.8 L1171.8,689.9 L1172.8,688.8 L1173.8,690.2 L1174.8,690.1 L1175.9,688.4 L1176.9,687.5 L1177.9,687.4 L1178.9,690.2 L1179.9,691.1 L1180.9,691.6 L1182.0,690.4 L1183.0,690.2 L1184.0,689.2 L1185.0,688.1 L1186.0,688.4 L1187.0,688.1 L1188.1,688.9 L1189.1,688.9 L1190.1,689.0 L1191.1,688.9 L1192.1,687.9 L1193.1,688.9 L1194.2,688.3 L1195.2,688.1 L1196.2,689.7 L1197.2,687.8 L1198.2,688.1 L1199.2,688.9 L1200.3,689.6 L1201.3,688.0 L1201.3,724.8 Z" fill="#838b8b"/>
<circle cx="1180.5" cy="689.4" r="1.8" fill="#838b8b"/>
<circle cx="1186.8" cy="687.3" r="1.8" fill="#838b8b"/>
<circle cx="1184.7" cy="684.4" r="1.8" fill="#838b8b"/>
<circle cx="1191.1" cy="687.7" r="1.8" fill="#838b8b"/>
<circle cx="1183.2" cy="689.4" r="1.8" fill="#838b8b"/>
<circle cx="1192.6" cy="684.9" r="1.8" fill="#838b8b"/>
<circle cx="1183.7" cy="685.0" r="1.8" fill="#838b8b"/>
<circle cx="1191.2" cy="683.5" r="1.8" fill="#838b8b"/>
<circle cx="1177.7" cy="684.9" r="1.8" fill="#838b8b"/>
<circle cx="1175.3" cy="688.8" r="1.8" fill="#838b8b"/>
<circle cx="1192.7" cy="685.6" r="1.8" fill="#838b8b"/>
<circle cx="1189.6" cy="688.7" r="1.8" fill="#838b8b"/>
<circle cx="1183.8" cy="689.2" r="1.8" fill="#838b8b"/>
<path d="M1200.7,724.8 L1200.7,682.3 L1201.7,682.5 L1202.7,681.9 L1203.8,682.7 L1204.8,683.2 L1205.8,683.5 L1206.9,681.7 L1207.9,682.6 L1208.9,683.1 L1210.0,683.7 L1211.0,683.8 L1212.0,683.6 L1213.1,684.3 L1214.1,684.8 L1215.2,683.0 L1216.2,682.5 L1217.2,683.5 L1218.3,683.1 L1219.3,681.9 L1220.3,682.3 L1221.4,682.8 L1222.4,682.6 L1223.4,683.1 L1223.4,724.8 Z" fill="#ff00ff"/>
<circle cx="1214.5" cy="678.9" r="1.8" fill="#ff00ff"/>
<circle cx="1217.0" cy="676.9" r="1.8" fill="#ff00ff"/>
<circle cx="1219.8" cy="678.8" r="1.8" fill="#ff00ff"/>
<circle cx="1221.5" cy="678.8" r="1.8" fill="#ff00ff"/>
<circle cx="1212.4" cy="681.3" r="1.8" fill="#ff00ff"/>
<circle cx="1203.0" cy="678.8" r="1.8" fill="#ff00ff"/>
<circle cx="1208.2" cy="681.3" r="1.8" fill="#ff00ff"/>
<circle cx="1209.3" cy="683.0" r="1.8" fill="#ff00ff"/>
<circle cx="1207.9" cy="677.5" r="1.8" fill="#ff00ff"/>
<circle cx="1205.3" cy="682.0" r="1.8" fill="#ff00ff"/>
<path d="M1222.8,724.8 L1222.8,689.3 L1223.8,690.6 L1224.9,691.1 L1225.9,690.7 L1226.9,689.9 L1227.9,689.3 L1228.9,689.6 L1229.9,689.1 L1230.9,688.4 L1231.9,689.2 L1232.9,690.0 L1234.0,689.3 L1235.0,688.9 L1236.0,687.6 L1237.0,690.0 L1238.0,689.7 L1239.0,688.4 L1240.0,688.5 L1241.0,690.4 L1242.1,689.8 L1243.1,689.7 L1244.1,688.7 L1244.1,724.8 Z" fill="#838b8b"/>
<circle cx="1228.0" cy="687.3" r="1.8" fill="#838b8b"/>
<circle cx="1241.1" cy="690.4" r="1.8" fill="#838b8b"/>
<circle cx="1226.8" cy="687.5" r="1.8" fill="#838b8b"/>
<circle cx="1240.8" cy="688.1" r="1.8" fill="#838b8b"/>
<circle cx="1229.8" cy="687.2" r="1.8" fill="#838b8b"/>
<circle cx="1228.0" cy="684.6" r="1.8" fill="#838b8b"/>
<circle cx="1225.9" cy="688.0" r="1.8" fill="#838b8b"/>
<circle cx="1229.8" cy="685.8" r="1.8" fill="#838b8b"/>
<circle cx="1233.5" cy="689.5" r="1.8" fill="#838b8b"/>
<path d="M1243.5,724.8 L1243.5,686.8 L1244.5,686.9 L1245.5,686.5 L1246.5,686.8 L1247.5,688.0 L1248.5,686.1 L1249.5,685.3 L1250.5,687.4 L1251.5,687.0 L1252.5,686.5 L1253.5,687.2 L1254.5,686.5 L1255.5,686.9 L1256.6,687.0 L1257.6,687.1 L1258.6,687.0 L1259.6,687.4 L1260.6,686.3 L1260.6,724.8 Z" fill="#ff00ff"/>
<circle cx="1248.7" cy="685.2" r="1.8" fill="#ff00ff"/>
<circle cx="1253.7" cy="682.2" r="1.8" fill="#ff00ff"/>
<circle cx="1251.3" cy="684.3" r="1.8" fill="#ff00ff"/>
<circle cx="1256.8" cy="685.1" r="1.8" fill="#ff00ff"/>
<circle cx="1259.1" cy="685.9" r="1.8" fill="#ff00ff"/>
<circle cx="1255.6" cy="681.1" r="1.8" fill="#ff00ff"/>
<circle cx="1252.6" cy="681.7" r="1.8" fill="#ff00ff"/>
<path d="M1260.0,724.8 L1260.0,684.8 L1261.0,684.0 L1262.0,684.7 L1263.0,683.9 L1264.0,684.3 L1265.0,684.6 L1266.0,684.5 L1267.1,685.4 L1268.1,685.6 L1269.1,685.3 L1270.1,686.1 L1271.1,685.5 L1272.1,685.6 L1273.1,684.3 L1274.1,685.0 L1275.2,684.5 L1276.2,684.7 L1277.2,683.6 L1277.2,724.8 Z" fill="#838b8b"/>
<circle cx="1262.3" cy="682.4" r="1.8" fill="#838b8b"/>
<circle cx="1272.7" cy="682.7" r="1.8" fill="#838b8b"/>
<circle cx="1272.9" cy="684.2" r="1.8" fill="#838b8b"/>
<circle cx="1263.8" cy="682.1" r="1.8" fill="#838b8b"/>
<circle cx="1273.6" cy="682.4" r="1.8" fill="#838b8b"/>
<circle cx="1274.6" cy="683.3" r="1.8" fill="#838b8b"/>
<circle cx="1262.5" cy="683.9" r="1.8" fill="#838b8b"/>
<path d="M1276.6,724.8 L1276.6,685.6 L1277.6,685.3 L1278.6,685.1 L1279.7,684.2 L1280.7,684.6 L1281.7,685.9 L1282.8,684.3 L1283.8,684.7 L1284.8,683.8 L1285.9,684.7 L1286.9,686.3 L1287.9,684.3 L1289.0,685.6 L1290.0,686.1 L1291.0,685.5 L1292.1,685.1 L1293.1,684.7 L1293.1,724.8 Z" fill="#ff00ff"/>
<circle cx="1281.8" cy="685.9" r="1.8" fill="#ff00ff"/>
<circle cx="1283.1" cy="683.6" r="1.8" fill="#ff00ff"/>
<circle cx="1283.1" cy="681.4" r="1.8" fill="#ff00ff"/>
<circle cx="1284.1" cy="679.7" r="1.8" fill="#ff00ff"/>
<circle cx="1291.4" cy="682.5" r="1.8" fill="#ff00ff"/>
<circle cx="1281.1" cy="682.1" r="1.8" fill="#ff00ff"/>
<circle cx="1286.7" cy="682.8" r="1.8" fill="#ff00ff"/>
<path d="M1292.5,724.8 L1292.5,688.5 L1293.5,688.0 L1294.6,687.5 L1295.6,688.2 L1296.6,688.3 L1297.7,689.4 L1298.7,688.3 L1299.7,688.1 L1300.7,689.4 L1301.8,689.2 L1302.8,688.2 L1303.8,688.3 L1304.9,686.9 L1305.9,686.9 L1306.9,687.2 L1307.9,687.8 L1307.9,724.8 Z" fill="#838b8b"/>
<circle cx="1299.0" cy="688.0" r="1.8" fill="#838b8b"/>
<circle cx="1298.2" cy="686.9" r="1.8" fill="#838b8b"/>
<circle cx="1299.3" cy="686.3" r="1.8" fill="#838b8b"/>
<circle cx="1297.4" cy="687.1" r="1.8" fill="#838b8b"/>
<circle cx="1301.3" cy="686.0" r="1.8" fill="#838b8b"/>
<circle cx="1296.0" cy="687.5" r="1.8" fill="#838b8b"/>
<circle cx="1299.9" cy="687.0" r="1.8" fill="#838b8b"/>
<path d="M1307.3,724.8 L1307.3,687.0 L1308.4,686.3 L1309.5,685.7 L1310.6,685.8 L1311.7,685.6 L1312.8,686.2 L1313.9,684.4 L1315.0,685.8 L1316.1,686.8 L1317.1,687.4 L1318.2,687.5 L1319.3,687.9 L1319.3,724.8 Z" fill="#ff00ff"/>
<circle cx="1311.5" cy="682.9" r="1.8" fill="#ff00ff"/>
<circle cx="1311.8" cy="680.4" r="1.8" fill="#ff00ff"/>
<circle cx="1313.6" cy="686.0" r="1.8" fill="#ff00ff"/>
<circle cx="1314.9" cy="683.7" r="1.8" fill="#ff00ff"/>
<circle cx="1316.0" cy="684.0" r="1.8" fill="#ff00ff"/>
<path d="M1318.7,724.8 L1318.7,687.8 L1319.8,686.7 L1320.8,686.3 L1321.9,687.6 L1323.0,688.5 L1324.0,688.0 L1325.1,688.1 L1326.1,686.5 L1327.2,687.3 L1328.3,686.1 L1329.3,686.4 L1330.4,688.0 L1331.4,688.0 L1332.5,688.0 L1333.5,686.9 L1333.5,724.8 Z" fill="#838b8b"/>
<circle cx="1331.4" cy="686.7" r="1.8" fill="#838b8b"/>
<circle cx="1325.4" cy="686.5" r="1.8" fill="#838b8b"/>
<circle cx="1325.0" cy="685.7" r="1.8" fill="#838b8b"/>
<circle cx="1323.7" cy="687.7" r="1.8" fill="#838b8b"/>
<circle cx="1323.8" cy="684.8" r="1.8" fill="#838b8b"/>
<circle cx="1320.3" cy="686.5" r="1.8" fill="#838b8b"/>
<path d="M1332.9,724.8 L1332.9,686.1 L1334.0,686.5 L1335.1,685.8 L1336.2,686.1 L1337.3,686.6 L1338.4,685.9 L1339.5,687.4 L1340.6,687.9 L1341.7,687.2 L1342.8,687.6 L1343.9,687.2 L1343.9,724.8 Z" fill="#ff00ff"/>
<circle cx="1338.0" cy="685.8" r="1.8" fill="#ff00ff"/>
<circle cx="1339.1" cy="684.9" r="1.8" fill="#ff00ff"/>
<circle cx="1335.3" cy="683.7" r="1.8" fill="#ff00ff"/>
<circle cx="1341.1" cy="684.1" r="1.8" fill="#ff00ff"/>
<path d="M1343.3,724.8 L1343.3,684.3 L1344.4,683.6 L1345.4,684.0 L1346.4,682.9 L1347.5,683.9 L1348.5,685.2 L1349.6,684.2 L1350.6,682.4 L1351.6,682.2 L1352.7,683.4 L1353.7,685.3 L1353.7,724.8 Z" fill="#838b8b"/>
<circle cx="1349.1" cy="683.9" r="1.8" fill="#838b8b"/>
<circle cx="1346.0" cy="682.2" r="1.8" fill="#838b8b"/>
<circle cx="1346.1" cy="681.6" r="1.8" fill="#838b8b"/>
<circle cx="1350.3" cy="680.2" r="1.8" fill="#838b8b"/>
<circle cx="801.0" cy="675.2" r="1.8" fill="#ff00ff"/>
<circle cx="807.2" cy="679.5" r="1.8" fill="#ff00ff"/>
<circle cx="813.0" cy="682.3" r="1.8" fill="#ff00ff"/>
<circle cx="813.2" cy="677.1" r="1.8" fill="#ff00ff"/>
<circle cx="813.4" cy="672.6" r="1.8" fill="#ff00ff"/>
<circle cx="850.9" cy="686.7" r="1.8" fill="#838b8b"/>
<circle cx="851.0" cy="684.1" r="1.8" fill="#838b8b"/>
<circle cx="851.2" cy="681.5" r="1.8" fill="#838b8b"/>
<circle cx="850.9" cy="677.8" r="1.8" fill="#838b8b"/>
<circle cx="854.3" cy="685.9" r="1.8" fill="#838b8b"/>
<circle cx="854.1" cy="683.3" r="1.8" fill="#838b8b"/>
<circle cx="854.5" cy="680.7" r="1.8" fill="#838b8b"/>
<circle cx="854.7" cy="675.5" r="1.8" fill="#838b8b"/>
<circle cx="854.4" cy="670.9" r="1.8" fill="#838b8b"/>
<circle cx="866.4" cy="687.2" r="1.8" fill="#838b8b"/>
<circle cx="865.9" cy="684.6" r="1.8" fill="#838b8b"/>
<circle cx="866.2" cy="682.0" r="1.8" fill="#838b8b"/>
<circle cx="866.4" cy="679.4" r="1.8" fill="#838b8b"/>
<circle cx="866.3" cy="676.8" r="1.8" fill="#838b8b"/>
<circle cx="866.2" cy="674.4" r="1.8" fill="#838b8b"/>
<circle cx="869.7" cy="686.6" r="1.8" fill="#838b8b"/>
<circle cx="869.4" cy="684.0" r="1.8" fill="#838b8b"/>
<circle cx="869.3" cy="676.2" r="1.8" fill="#838b8b"/>
<circle cx="869.6" cy="673.6" r="1.8" fill="#838b8b"/>
<circle cx="869.7" cy="671.0" r="1.8" fill="#838b8b"/>
<circle cx="869.6" cy="668.4" r="1.8" fill="#838b8b"/>
<circle cx="884.2" cy="687.4" r="1.8" fill="#838b8b"/>
<circle cx="884.4" cy="682.2" r="1.8" fill="#838b8b"/>
<circle cx="884.2" cy="678.6" r="1.8" fill="#838b8b"/>
<circle cx="891.8" cy="687.3" r="1.8" fill="#838b8b"/>
<circle cx="891.5" cy="684.7" r="1.8" fill="#838b8b"/>
<circle cx="891.6" cy="682.1" r="1.8" fill="#838b8b"/>
<circle cx="891.8" cy="674.4" r="1.8" fill="#838b8b"/>
<circle cx="906.9" cy="686.5" r="1.8" fill="#ff00ff"/>
<circle cx="907.5" cy="683.9" r="1.8" fill="#ff00ff"/>
<circle cx="907.0" cy="681.3" r="1.8" fill="#ff00ff"/>
<circle cx="907.2" cy="678.7" r="1.8" fill="#ff00ff"/>
<circle cx="907.1" cy="676.1" r="1.8" fill="#ff00ff"/>
<circle cx="939.1" cy="684.4" r="1.8" fill="#838b8b"/>
<circle cx="938.7" cy="681.8" r="1.8" fill="#838b8b"/>
<circle cx="939.0" cy="676.1" r="1.8" fill="#838b8b"/>
<circle cx="946.5" cy="679.9" r="1.8" fill="#838b8b"/>
<circle cx="946.7" cy="676.1" r="1.8" fill="#838b8b"/>
<circle cx="962.9" cy="684.4" r="1.8" fill="#838b8b"/>
<circle cx="963.3" cy="676.1" r="1.8" fill="#838b8b"/>
<circle cx="970.6" cy="684.6" r="1.8" fill="#ff00ff"/>
<circle cx="985.3" cy="685.5" r="1.8" fill="#ff00ff"/>
<circle cx="984.9" cy="682.9" r="1.8" fill="#ff00ff"/>
<circle cx="985.1" cy="678.6" r="1.8" fill="#ff00ff"/>
<circle cx="1028.8" cy="676.9" r="1.8" fill="#838b8b"/>
<circle cx="1060.8" cy="684.0" r="1.8" fill="#ff00ff"/>
<circle cx="1060.5" cy="681.4" r="1.8" fill="#ff00ff"/>
<circle cx="1060.6" cy="678.8" r="1.8" fill="#ff00ff"/>
<circle cx="1061.1" cy="676.2" r="1.8" fill="#ff00ff"/>
<circle cx="1060.8" cy="673.5" r="1.8" fill="#ff00ff"/>
<circle cx="1070.8" cy="684.2" r="1.8" fill="#838b8b"/>
<circle cx="1070.5" cy="681.6" r="1.8" fill="#838b8b"/>
<circle cx="1070.5" cy="676.9" r="1.8" fill="#838b8b"/>
<circle cx="1084.1" cy="668.4" r="1.8" fill="#838b8b"/>
<circle cx="1120.2" cy="678.9" r="1.8" fill="#838b8b"/>
<circle cx="1120.1" cy="676.3" r="1.8" fill="#838b8b"/>
<circle cx="1120.4" cy="672.6" r="1.8" fill="#838b8b"/>
<circle cx="1124.3" cy="679.1" r="1.8" fill="#838b8b"/>
<circle cx="1123.9" cy="672.6" r="1.8" fill="#838b8b"/>
<circle cx="1152.3" cy="682.5" r="1.8" fill="#ff00ff"/>
<circle cx="1152.5" cy="679.9" r="1.8" fill="#ff00ff"/>
<circle cx="1152.3" cy="677.8" r="1.8" fill="#ff00ff"/>
<circle cx="1166.9" cy="680.3" r="1.8" fill="#ff00ff"/>
<circle cx="1189.1" cy="687.9" r="1.8" fill="#838b8b"/>
<circle cx="1189.1" cy="679.5" r="1.8" fill="#838b8b"/>
<circle cx="1196.0" cy="687.1" r="1.8" fill="#838b8b"/>
<circle cx="1195.7" cy="684.5" r="1.8" fill="#838b8b"/>
<circle cx="1195.9" cy="681.9" r="1.8" fill="#838b8b"/>
<circle cx="1195.6" cy="679.3" r="1.8" fill="#838b8b"/>
<circle cx="1196.3" cy="676.7" r="1.8" fill="#838b8b"/>
<circle cx="1196.0" cy="674.4" r="1.8" fill="#838b8b"/>
<circle cx="1210.8" cy="680.1" r="1.8" fill="#ff00ff"/>
<circle cx="1210.4" cy="677.5" r="1.8" fill="#ff00ff"/>
<circle cx="1210.5" cy="674.9" r="1.8" fill="#ff00ff"/>
<circle cx="1210.6" cy="672.2" r="1.8" fill="#ff00ff"/>
<circle cx="1219.9" cy="680.9" r="1.8" fill="#ff00ff"/>
<circle cx="1219.7" cy="678.3" r="1.8" fill="#ff00ff"/>
<circle cx="1219.8" cy="676.1" r="1.8" fill="#ff00ff"/>
<circle cx="1231.9" cy="680.4" r="1.8" fill="#838b8b"/>
<circle cx="1231.9" cy="677.8" r="1.8" fill="#838b8b"/>
<circle cx="1231.9" cy="672.6" r="1.8" fill="#838b8b"/>
<circle cx="1232.5" cy="670.0" r="1.8" fill="#838b8b"/>
<circle cx="1232.1" cy="665.8" r="1.8" fill="#838b8b"/>
<circle cx="1250.7" cy="684.3" r="1.8" fill="#ff00ff"/>
<circle cx="1250.8" cy="681.7" r="1.8" fill="#ff00ff"/>
<circle cx="1250.5" cy="679.5" r="1.8" fill="#ff00ff"/>
<circle cx="1263.5" cy="682.9" r="1.8" fill="#838b8b"/>
<circle cx="1263.5" cy="678.6" r="1.8" fill="#838b8b"/>
<circle cx="1276.9" cy="684.6" r="1.8" fill="#ff00ff"/>
<circle cx="1277.3" cy="682.0" r="1.8" fill="#ff00ff"/>
<circle cx="1277.3" cy="678.6" r="1.8" fill="#ff00ff"/>
<circle cx="1285.1" cy="682.8" r="1.8" fill="#ff00ff"/>
<circle cx="1285.0" cy="673.5" r="1.8" fill="#ff00ff"/>
<circle cx="1295.0" cy="668.4" r="1.8" fill="#838b8b"/>
<circle cx="1294.7" cy="686.5" r="1.8" fill="#838b8b"/>
<circle cx="1294.9" cy="683.9" r="1.8" fill="#838b8b"/>
<circle cx="1295.0" cy="677.8" r="1.8" fill="#838b8b"/>
<circle cx="1303.8" cy="687.2" r="1.8" fill="#838b8b"/>
<circle cx="1303.2" cy="682.0" r="1.8" fill="#838b8b"/>
<circle cx="1303.3" cy="679.4" r="1.8" fill="#838b8b"/>
<circle cx="1303.4" cy="675.2" r="1.8" fill="#838b8b"/>
<circle cx="1324.9" cy="678.6" r="1.8" fill="#838b8b"/>
<circle cx="1339.4" cy="684.9" r="1.8" fill="#ff00ff"/>
<circle cx="1339.4" cy="679.5" r="1.8" fill="#ff00ff"/>
<circle cx="1346.0" cy="683.0" r="1.8" fill="#838b8b"/>
<circle cx="1345.3" cy="680.4" r="1.8" fill="#838b8b"/>
<circle cx="1345.6" cy="674.4" r="1.8" fill="#838b8b"/>
<circle cx="1317.6" cy="460.4" r="1.8" fill="#ff00ff"/>
<circle cx="1317.6" cy="518.1" r="1.8" fill="#ff00ff"/>
<circle cx="1317.6" cy="520.3" r="1.8" fill="#ff00ff"/>
<circle cx="1317.6" cy="523.7" r="1.8" fill="#ff00ff"/>
<circle cx="1317.6" cy="527.1" r="1.8" fill="#ff00ff"/>
<circle cx="1317.6" cy="532.3" r="1.8" fill="#ff00ff"/>
<circle cx="1317.6" cy="535.7" r="1.8" fill="#ff00ff"/>
<circle cx="1317.6" cy="539.1" r="1.8" fill="#ff00ff"/>
<circle cx="1317.6" cy="544.6" r="1.8" fill="#ff00ff"/>
<circle cx="1317.6" cy="588.3" r="1.8" fill="#ff00ff"/>
<circle cx="1317.6" cy="602.4" r="1.8" fill="#ff00ff"/>
<circle cx="1317.6" cy="629.0" r="1.8" fill="#ff00ff"/>
<circle cx="1317.6" cy="637.5" r="1.8" fill="#ff00ff"/>
<circle cx="1317.6" cy="653.0" r="1.8" fill="#ff00ff"/>
<circle cx="1317.6" cy="685.5" r="1.8" fill="#ff00ff"/>
<circle cx="1317.6" cy="684.6" r="1.8" fill="#ff00ff"/>
<circle cx="1317.6" cy="683.7" r="1.8" fill="#ff00ff"/>
<circle cx="1317.6" cy="682.8" r="1.8" fill="#ff00ff"/>
<circle cx="1317.6" cy="681.9" r="1.8" fill="#ff00ff"/>
<circle cx="1317.6" cy="681.0" r="1.8" fill="#ff00ff"/>
<circle cx="1317.6" cy="680.1" r="1.8" fill="#ff00ff"/>
<circle cx="1317.6" cy="679.2" r="1.8" fill="#ff00ff"/>
<circle cx="1317.6" cy="678.3" r="1.8" fill="#ff00ff"/>
<circle cx="1317.6" cy="677.4" r="1.8" fill="#ff00ff"/>
<circle cx="1317.6" cy="676.5" r="1.8" fill="#ff00ff"/>
<circle cx="1317.6" cy="675.6" r="1.8" fill="#ff00ff"/>
<circle cx="1317.6" cy="674.7" r="1.8" fill="#ff00ff"/>
<circle cx="1317.6" cy="673.8" r="1.8" fill="#ff00ff"/>
<circle cx="1317.6" cy="672.9" r="1.8" fill="#ff00ff"/>
<circle cx="1317.6" cy="672.0" r="1.8" fill="#ff00ff"/>
<circle cx="1317.6" cy="671.1" r="1.8" fill="#ff00ff"/>
<circle cx="1317.6" cy="670.2" r="1.8" fill="#ff00ff"/>
<circle cx="1317.6" cy="669.3" r="1.8" fill="#ff00ff"/>
<circle cx="1317.6" cy="668.4" r="1.8" fill="#ff00ff"/>
<circle cx="1317.6" cy="667.5" r="1.8" fill="#ff00ff"/>
<circle cx="1317.6" cy="666.6" r="1.8" fill="#ff00ff"/>
<circle cx="1317.6" cy="665.7" r="1.8" fill="#ff00ff"/>
<circle cx="1317.6" cy="664.8" r="1.8" fill="#ff00ff"/>
<circle cx="1317.6" cy="663.9" r="1.8" fill="#ff00ff"/>
<circle cx="1317.6" cy="663.0" r="1.8" fill="#ff00ff"/>
<circle cx="1317.6" cy="662.1" r="1.8" fill="#ff00ff"/>
<circle cx="1317.6" cy="661.2" r="1.8" fill="#ff00ff"/>
<circle cx="1317.6" cy="660.3" r="1.8" fill="#ff00ff"/>
<circle cx="1317.6" cy="659.4" r="1.8" fill="#ff00ff"/>
<circle cx="1317.6" cy="658.5" r="1.8" fill="#ff00ff"/>
<circle cx="1317.6" cy="657.6" r="1.8" fill="#ff00ff"/>
<circle cx="1317.6" cy="656.7" r="1.8" fill="#ff00ff"/>
<circle cx="1317.6" cy="655.8" r="1.8" fill="#ff00ff"/>
<circle cx="1317.6" cy="654.9" r="1.8" fill="#ff00ff"/>
<circle cx="1317.6" cy="654.0" r="1.8" fill="#ff00ff"/>
<circle cx="1317.6" cy="653.1" r="1.8" fill="#ff00ff"/>
<circle cx="820.5" cy="640.5" r="1.8" fill="#ff00ff"/>
<circle cx="820.5" cy="642.7" r="1.8" fill="#ff00ff"/>
<circle cx="820.5" cy="645.2" r="1.8" fill="#ff00ff"/>
<circle cx="820.5" cy="647.8" r="1.8" fill="#ff00ff"/>
<circle cx="820.5" cy="656.8" r="1.8" fill="#ff00ff"/>
<circle cx="820.5" cy="659.8" r="1.8" fill="#ff00ff"/>
<circle cx="820.5" cy="663.2" r="1.8" fill="#ff00ff"/>
<circle cx="820.5" cy="672.2" r="1.8" fill="#ff00ff"/>
<circle cx="920.3" cy="655.8" r="1.8" fill="#ff00ff"/>
<circle cx="920.3" cy="658.9" r="1.8" fill="#ff00ff"/>
<circle cx="920.3" cy="679.5" r="1.8" fill="#ff00ff"/>
<circle cx="1034.2" cy="638.0" r="1.8" fill="#838b8b"/>
<circle cx="1034.2" cy="640.1" r="1.8" fill="#838b8b"/>
<circle cx="1034.2" cy="642.7" r="1.8" fill="#838b8b"/>
<circle cx="1034.2" cy="663.2" r="1.8" fill="#838b8b"/>
<circle cx="1034.2" cy="665.8" r="1.8" fill="#838b8b"/>
<circle cx="1034.2" cy="673.5" r="1.8" fill="#838b8b"/>
<circle cx="1034.2" cy="676.1" r="1.8" fill="#838b8b"/>
<circle cx="1177.5" cy="688.0" r="1.8" fill="#838b8b"/>
<circle cx="1177.5" cy="687.1" r="1.8" fill="#838b8b"/>
<circle cx="1177.5" cy="686.2" r="1.8" fill="#838b8b"/>
<circle cx="1177.5" cy="685.3" r="1.8" fill="#838b8b"/>
<circle cx="1177.5" cy="684.4" r="1.8" fill="#838b8b"/>
<circle cx="1177.5" cy="683.5" r="1.8" fill="#838b8b"/>
<circle cx="1177.5" cy="682.6" r="1.8" fill="#838b8b"/>
<circle cx="1177.5" cy="681.7" r="1.8" fill="#838b8b"/>
<circle cx="1177.5" cy="680.8" r="1.8" fill="#838b8b"/>
<circle cx="1177.5" cy="679.9" r="1.8" fill="#838b8b"/>
<circle cx="1177.5" cy="679.0" r="1.8" fill="#838b8b"/>
<circle cx="1177.5" cy="678.1" r="1.8" fill="#838b8b"/>
<circle cx="1177.5" cy="677.2" r="1.8" fill="#838b8b"/>
<circle cx="1177.5" cy="676.3" r="1.8" fill="#838b8b"/>
<circle cx="1177.5" cy="675.4" r="1.8" fill="#838b8b"/>
<circle cx="1177.5" cy="674.5" r="1.8" fill="#838b8b"/>
<circle cx="1177.5" cy="673.6" r="1.8" fill="#838b8b"/>
<circle cx="1177.5" cy="672.7" r="1.8" fill="#838b8b"/>
<circle cx="1177.5" cy="671.8" r="1.8" fill="#838b8b"/>
<circle cx="1177.5" cy="670.9" r="1.8" fill="#838b8b"/>
<circle cx="1177.5" cy="670.0" r="1.8" fill="#838b8b"/>
<circle cx="1177.5" cy="669.1" r="1.8" fill="#838b8b"/>
<circle cx="1177.5" cy="668.2" r="1.8" fill="#838b8b"/>
<circle cx="1177.5" cy="667.3" r="1.8" fill="#838b8b"/>
<circle cx="1177.5" cy="666.4" r="1.8" fill="#838b8b"/>
<circle cx="1177.5" cy="665.5" r="1.8" fill="#838b8b"/>
<circle cx="1177.5" cy="664.6" r="1.8" fill="#838b8b"/>
<circle cx="1177.5" cy="663.7" r="1.8" fill="#838b8b"/>
<circle cx="1177.5" cy="662.8" r="1.8" fill="#838b8b"/>
<circle cx="1177.5" cy="661.9" r="1.8" fill="#838b8b"/>
<circle cx="1177.5" cy="661.0" r="1.8" fill="#838b8b"/>
<circle cx="1177.5" cy="660.1" r="1.8" fill="#838b8b"/>
<circle cx="1177.5" cy="659.2" r="1.8" fill="#838b8b"/>
<circle cx="1177.5" cy="658.3" r="1.8" fill="#838b8b"/>
<circle cx="1177.5" cy="657.4" r="1.8" fill="#838b8b"/>
<circle cx="1177.5" cy="656.5" r="1.8" fill="#838b8b"/>
<circle cx="1177.5" cy="655.6" r="1.8" fill="#838b8b"/>
<text x="710.69" y="416.68" font-size="32.27" textLength="20.97" lengthAdjust="spacingAndGlyphs" font-weight="bold">d</text>
<text x="772.74" y="429.07" font-size="23.59" textLength="36.62" lengthAdjust="spacingAndGlyphs">M6</text>
<text transform="translate(739.20,0) rotate(-90)" x="-632.80" y="1.37" font-size="20.70" textLength="12.98" lengthAdjust="spacingAndGlyphs">−</text>
<text transform="translate(739.20,0) rotate(-90)" x="-618.71" y="0.00" font-size="20.70" textLength="27.85" lengthAdjust="spacingAndGlyphs">log</text>
<text transform="translate(742.80,0) rotate(-90)" x="-589.76" y="0.00" font-size="10.00" textLength="15.51" lengthAdjust="spacingAndGlyphs">10</text>
<text transform="translate(738.40,0) rotate(-90)" x="-572.94" y="0.00" font-size="23.00" textLength="8.79" lengthAdjust="spacingAndGlyphs">(</text>
<text transform="translate(739.20,0) rotate(-90)" x="-564.69" y="0.00" font-size="20.70" textLength="11.45" lengthAdjust="spacingAndGlyphs" font-style="italic">p</text>
<text transform="translate(738.40,0) rotate(-90)" x="-551.43" y="0.00" font-size="23.00" textLength="7.66" lengthAdjust="spacingAndGlyphs">)</text>
<text x="1013.25" y="771.40" font-size="20.70" textLength="124.68" lengthAdjust="spacingAndGlyphs">Chromosome</text>
<text x="1320.57" y="459.77" font-size="13.70" textLength="36.29" lengthAdjust="spacingAndGlyphs">APOE</text>
<text x="827.92" y="640.78" font-size="12.26" textLength="149.04" lengthAdjust="spacingAndGlyphs">CELSR2/PSRC1/SORT1</text>
<text x="927.19" y="656.68" font-size="12.53" textLength="145.46" lengthAdjust="spacingAndGlyphs">STAG1/SLC35G2/NCK1</text>
<text x="1034.46" y="639.40" font-size="13.95" textLength="26.37" lengthAdjust="spacingAndGlyphs">LPA</text>
<text x="1180.30" y="655.37" font-size="13.42" textLength="59.14" lengthAdjust="spacingAndGlyphs">SLCO1B1</text>
<line x1="73.5" y1="1017.99" x2="662.7" y2="1017.99" stroke="#ffc6c6" stroke-width="1.15"/>
<line x1="73.50" y1="872.2" x2="73.50" y2="1102.0" stroke="#c8c8c8" stroke-width="1.2"/>
<line x1="67.5" y1="1101.50" x2="73.5" y2="1101.50" stroke="#888888" stroke-width="1.2"/>
<text x="48.93" y="1108.70" font-size="20.06" textLength="11.91" lengthAdjust="spacingAndGlyphs">0</text>
<line x1="67.5" y1="1044.30" x2="73.5" y2="1044.30" stroke="#888888" stroke-width="1.2"/>
<text x="48.99" y="1051.50" font-size="20.06" textLength="11.91" lengthAdjust="spacingAndGlyphs">5</text>
<line x1="67.5" y1="987.10" x2="73.5" y2="987.10" stroke="#888888" stroke-width="1.2"/>
<text x="37.02" y="994.30" font-size="20.06" textLength="23.81" lengthAdjust="spacingAndGlyphs">10</text>
<line x1="67.5" y1="929.90" x2="73.5" y2="929.90" stroke="#888888" stroke-width="1.2"/>
<text x="37.09" y="937.10" font-size="20.06" textLength="23.81" lengthAdjust="spacingAndGlyphs">15</text>
<line x1="67.5" y1="872.70" x2="73.5" y2="872.70" stroke="#888888" stroke-width="1.2"/>
<text x="37.02" y="879.90" font-size="20.06" textLength="23.81" lengthAdjust="spacingAndGlyphs">20</text>
<line x1="114.17" y1="1102.1" x2="114.17" y2="1107.3" stroke="#8c8c8c" stroke-width="1.1"/>
<text x="108.50" y="1123.30" font-size="20.34" textLength="10.82" lengthAdjust="spacingAndGlyphs">1</text>
<line x1="161.62" y1="1102.1" x2="161.62" y2="1107.3" stroke="#8c8c8c" stroke-width="1.1"/>
<text x="156.21" y="1123.30" font-size="20.34" textLength="10.82" lengthAdjust="spacingAndGlyphs">2</text>
<line x1="204.20" y1="1102.1" x2="204.20" y2="1107.3" stroke="#8c8c8c" stroke-width="1.1"/>
<text x="198.84" y="1123.10" font-size="20.34" textLength="10.82" lengthAdjust="spacingAndGlyphs">3</text>
<line x1="241.46" y1="1102.1" x2="241.46" y2="1107.3" stroke="#8c8c8c" stroke-width="1.1"/>
<text x="236.11" y="1123.30" font-size="20.34" textLength="10.82" lengthAdjust="spacingAndGlyphs">4</text>
<line x1="276.76" y1="1102.1" x2="276.76" y2="1107.3" stroke="#8c8c8c" stroke-width="1.1"/>
<text x="271.37" y="1123.10" font-size="20.34" textLength="10.82" lengthAdjust="spacingAndGlyphs">5</text>
<line x1="311.12" y1="1102.1" x2="311.12" y2="1107.3" stroke="#8c8c8c" stroke-width="1.1"/>
<text x="305.64" y="1123.10" font-size="20.34" textLength="10.82" lengthAdjust="spacingAndGlyphs">6</text>
<line x1="342.95" y1="1102.1" x2="342.95" y2="1107.3" stroke="#8c8c8c" stroke-width="1.1"/>
<text x="337.53" y="1123.30" font-size="20.34" textLength="10.82" lengthAdjust="spacingAndGlyphs">7</text>
<line x1="372.89" y1="1102.1" x2="372.89" y2="1107.3" stroke="#8c8c8c" stroke-width="1.1"/>
<text x="367.47" y="1123.10" font-size="20.34" textLength="10.82" lengthAdjust="spacingAndGlyphs">8</text>
<line x1="399.91" y1="1102.1" x2="399.91" y2="1107.3" stroke="#8c8c8c" stroke-width="1.1"/>
<line x1="427.10" y1="1102.1" x2="427.10" y2="1107.3" stroke="#8c8c8c" stroke-width="1.1"/>
<text x="415.92" y="1123.10" font-size="20.34" textLength="21.64" lengthAdjust="spacingAndGlyphs">10</text>
<line x1="453.40" y1="1102.1" x2="453.40" y2="1107.3" stroke="#8c8c8c" stroke-width="1.1"/>
<line x1="479.75" y1="1102.1" x2="479.75" y2="1107.3" stroke="#8c8c8c" stroke-width="1.1"/>
<text x="468.68" y="1123.30" font-size="20.34" textLength="21.64" lengthAdjust="spacingAndGlyphs">12</text>
<line x1="505.04" y1="1102.1" x2="505.04" y2="1107.3" stroke="#8c8c8c" stroke-width="1.1"/>
<line x1="526.36" y1="1102.1" x2="526.36" y2="1107.3" stroke="#8c8c8c" stroke-width="1.1"/>
<text x="515.08" y="1123.30" font-size="20.34" textLength="21.64" lengthAdjust="spacingAndGlyphs">14</text>
<line x1="545.72" y1="1102.1" x2="545.72" y2="1107.3" stroke="#8c8c8c" stroke-width="1.1"/>
<line x1="564.01" y1="1102.1" x2="564.01" y2="1107.3" stroke="#8c8c8c" stroke-width="1.1"/>
<line x1="579.84" y1="1102.1" x2="579.84" y2="1107.3" stroke="#8c8c8c" stroke-width="1.1"/>
<text x="568.77" y="1123.30" font-size="20.34" textLength="21.64" lengthAdjust="spacingAndGlyphs">17</text>
<line x1="595.85" y1="1102.1" x2="595.85" y2="1107.3" stroke="#8c8c8c" stroke-width="1.1"/>
<line x1="608.83" y1="1102.1" x2="608.83" y2="1107.3" stroke="#8c8c8c" stroke-width="1.1"/>
<line x1="620.35" y1="1102.1" x2="620.35" y2="1107.3" stroke="#8c8c8c" stroke-width="1.1"/>
<line x1="632.27" y1="1102.1" x2="632.27" y2="1107.3" stroke="#8c8c8c" stroke-width="1.1"/>
<text x="621.43" y="1123.30" font-size="20.34" textLength="21.64" lengthAdjust="spacingAndGlyphs">21</text>
<line x1="642.84" y1="1102.1" x2="642.84" y2="1107.3" stroke="#8c8c8c" stroke-width="1.1"/>
<path d="M87.8,1102.3 L87.8,1056.4 L88.8,1056.1 L89.8,1056.2 L90.9,1056.0 L91.9,1056.2 L92.9,1058.1 L93.9,1058.3 L94.9,1057.5 L95.9,1058.1 L97.0,1060.1 L98.0,1059.7 L99.0,1059.8 L100.0,1059.6 L101.0,1058.4 L102.1,1058.4 L103.1,1059.1 L104.1,1059.7 L105.1,1059.2 L106.1,1058.8 L107.2,1058.7 L108.2,1058.2 L109.2,1056.9 L109.8,1056.9 L110.0,1056.9 L110.2,1056.9 L110.4,1058.8 L110.6,1058.8 L110.8,1058.8 L111.0,1058.8 L111.2,1058.8 L111.4,1059.1 L111.6,1059.1 L111.8,1059.1 L112.0,1059.1 L112.2,1059.1 L112.4,1058.1 L112.6,1058.1 L112.8,1058.1 L113.0,1058.1 L113.2,1058.1 L113.4,1057.9 L113.6,1057.9 L113.8,1057.9 L114.0,1058.3 L114.2,1059.9 L114.4,1061.5 L114.6,1063.1 L114.8,1064.7 L115.0,1066.3 L115.2,1067.9 L115.4,1069.4 L115.4,1102.3 L115.4,1102.3 L115.6,1102.3 L115.8,1102.3 L116.0,1102.3 L116.2,1102.3 L116.2,1058.8 L116.2,1058.8 L116.4,1055.2 L116.6,1054.0 L116.8,1054.0 L117.0,1054.0 L117.2,1054.0 L117.4,1052.7 L117.6,1052.7 L117.8,1052.7 L118.0,1052.7 L118.2,1052.7 L118.4,1053.9 L118.6,1053.9 L118.8,1053.9 L119.0,1053.9 L119.2,1053.9 L119.4,1053.6 L119.6,1053.6 L119.8,1053.6 L120.0,1053.6 L120.2,1053.6 L120.4,1053.6 L120.6,1053.6 L120.8,1053.6 L121.0,1053.6 L121.2,1053.6 L121.4,1053.6 L121.6,1054.2 L122.4,1053.5 L123.4,1054.0 L124.5,1054.4 L125.5,1053.8 L126.5,1055.4 L127.5,1054.5 L128.5,1054.1 L129.6,1053.1 L130.6,1054.2 L131.6,1053.9 L132.6,1053.1 L133.6,1052.6 L134.6,1054.0 L135.7,1053.6 L136.7,1054.1 L136.7,1102.3 Z" fill="#ff00ff"/>
<circle cx="126.8" cy="1054.6" r="1.8" fill="#ff00ff"/>
<circle cx="130.2" cy="1052.9" r="1.8" fill="#ff00ff"/>
<circle cx="121.4" cy="1048.1" r="1.8" fill="#ff00ff"/>
<circle cx="103.0" cy="1058.3" r="1.8" fill="#ff00ff"/>
<circle cx="108.3" cy="1057.0" r="1.8" fill="#ff00ff"/>
<circle cx="110.0" cy="1053.5" r="1.8" fill="#ff00ff"/>
<circle cx="95.0" cy="1056.9" r="1.8" fill="#ff00ff"/>
<circle cx="111.0" cy="1055.0" r="1.8" fill="#ff00ff"/>
<circle cx="97.3" cy="1058.7" r="1.8" fill="#ff00ff"/>
<circle cx="126.0" cy="1045.6" r="1.8" fill="#ff00ff"/>
<circle cx="122.7" cy="1051.6" r="1.8" fill="#ff00ff"/>
<circle cx="121.6" cy="1051.7" r="1.8" fill="#ff00ff"/>
<circle cx="122.0" cy="1053.5" r="1.8" fill="#ff00ff"/>
<circle cx="98.5" cy="1058.0" r="1.8" fill="#ff00ff"/>
<circle cx="132.9" cy="1049.8" r="1.8" fill="#ff00ff"/>
<circle cx="107.9" cy="1057.4" r="1.8" fill="#ff00ff"/>
<circle cx="132.4" cy="1052.2" r="1.8" fill="#ff00ff"/>
<circle cx="100.7" cy="1055.3" r="1.8" fill="#ff00ff"/>
<circle cx="121.4" cy="1052.5" r="1.8" fill="#ff00ff"/>
<circle cx="109.7" cy="1056.7" r="1.8" fill="#ff00ff"/>
<circle cx="134.5" cy="1051.6" r="1.8" fill="#ff00ff"/>
<path d="M136.1,1102.3 L136.1,1058.6 L137.1,1058.7 L138.1,1059.5 L139.1,1058.7 L140.1,1058.8 L141.1,1058.2 L142.1,1057.6 L143.2,1056.3 L144.2,1056.8 L145.2,1056.4 L146.2,1057.3 L147.2,1058.2 L148.2,1057.8 L149.2,1058.8 L150.2,1057.9 L151.2,1058.2 L152.3,1058.8 L153.3,1058.1 L154.3,1058.2 L155.3,1057.3 L156.3,1058.4 L157.3,1057.9 L158.3,1057.5 L159.3,1058.3 L160.3,1056.9 L161.3,1057.0 L162.4,1057.6 L163.4,1057.7 L164.4,1057.8 L165.4,1059.2 L166.4,1059.5 L167.4,1060.1 L168.4,1059.4 L169.4,1057.3 L170.4,1058.7 L171.4,1057.2 L172.5,1056.6 L173.5,1057.2 L174.5,1058.8 L175.5,1057.8 L176.5,1058.1 L177.5,1059.0 L178.5,1057.9 L179.5,1057.6 L180.5,1057.9 L181.6,1058.1 L182.6,1059.6 L183.6,1057.9 L183.6,1102.3 Z" fill="#838b8b"/>
<circle cx="169.4" cy="1059.3" r="1.8" fill="#838b8b"/>
<circle cx="163.0" cy="1056.0" r="1.8" fill="#838b8b"/>
<circle cx="165.0" cy="1057.0" r="1.8" fill="#838b8b"/>
<circle cx="181.7" cy="1054.6" r="1.8" fill="#838b8b"/>
<circle cx="166.5" cy="1058.5" r="1.8" fill="#838b8b"/>
<circle cx="158.7" cy="1057.2" r="1.8" fill="#838b8b"/>
<circle cx="138.6" cy="1056.0" r="1.8" fill="#838b8b"/>
<circle cx="164.3" cy="1056.9" r="1.8" fill="#838b8b"/>
<circle cx="167.9" cy="1054.7" r="1.8" fill="#838b8b"/>
<circle cx="168.7" cy="1058.0" r="1.8" fill="#838b8b"/>
<circle cx="140.8" cy="1053.6" r="1.8" fill="#838b8b"/>
<circle cx="181.6" cy="1055.0" r="1.8" fill="#838b8b"/>
<circle cx="141.7" cy="1053.7" r="1.8" fill="#838b8b"/>
<circle cx="148.9" cy="1055.2" r="1.8" fill="#838b8b"/>
<circle cx="141.1" cy="1058.3" r="1.8" fill="#838b8b"/>
<circle cx="161.9" cy="1056.0" r="1.8" fill="#838b8b"/>
<circle cx="173.4" cy="1054.4" r="1.8" fill="#838b8b"/>
<circle cx="156.1" cy="1055.7" r="1.8" fill="#838b8b"/>
<circle cx="142.7" cy="1054.0" r="1.8" fill="#838b8b"/>
<circle cx="174.0" cy="1055.8" r="1.8" fill="#838b8b"/>
<circle cx="181.7" cy="1056.1" r="1.8" fill="#838b8b"/>
<circle cx="173.9" cy="1053.6" r="1.8" fill="#838b8b"/>
<path d="M183.0,1102.3 L183.0,1054.9 L184.0,1056.1 L185.0,1057.1 L186.0,1057.7 L187.1,1056.8 L188.1,1056.9 L189.1,1057.3 L190.1,1055.8 L191.1,1057.4 L192.2,1056.7 L193.2,1055.3 L194.2,1056.0 L195.2,1057.2 L196.2,1057.5 L197.3,1056.7 L198.3,1056.7 L199.3,1055.2 L200.3,1055.3 L201.4,1055.1 L202.4,1056.6 L203.4,1057.1 L204.4,1056.6 L205.4,1055.2 L206.5,1055.9 L207.5,1054.9 L208.5,1055.7 L209.5,1055.6 L210.5,1056.4 L211.6,1056.4 L212.6,1056.7 L213.6,1057.0 L214.6,1055.9 L215.7,1058.6 L216.7,1058.0 L217.7,1057.5 L218.7,1057.3 L219.7,1056.4 L220.8,1057.7 L221.8,1056.2 L221.8,1102.3 Z" fill="#ff00ff"/>
<circle cx="212.5" cy="1050.3" r="1.8" fill="#ff00ff"/>
<circle cx="203.0" cy="1056.1" r="1.8" fill="#ff00ff"/>
<circle cx="197.9" cy="1055.8" r="1.8" fill="#ff00ff"/>
<circle cx="199.1" cy="1056.6" r="1.8" fill="#ff00ff"/>
<circle cx="191.8" cy="1056.3" r="1.8" fill="#ff00ff"/>
<circle cx="193.1" cy="1055.7" r="1.8" fill="#ff00ff"/>
<circle cx="220.1" cy="1053.2" r="1.8" fill="#ff00ff"/>
<circle cx="196.2" cy="1056.7" r="1.8" fill="#ff00ff"/>
<circle cx="211.2" cy="1056.2" r="1.8" fill="#ff00ff"/>
<circle cx="198.6" cy="1054.4" r="1.8" fill="#ff00ff"/>
<circle cx="219.3" cy="1057.1" r="1.8" fill="#ff00ff"/>
<circle cx="195.7" cy="1050.3" r="1.8" fill="#ff00ff"/>
<circle cx="198.8" cy="1055.7" r="1.8" fill="#ff00ff"/>
<circle cx="187.7" cy="1053.9" r="1.8" fill="#ff00ff"/>
<circle cx="207.3" cy="1053.1" r="1.8" fill="#ff00ff"/>
<circle cx="189.6" cy="1055.9" r="1.8" fill="#ff00ff"/>
<circle cx="195.8" cy="1054.9" r="1.8" fill="#ff00ff"/>
<circle cx="187.2" cy="1053.2" r="1.8" fill="#ff00ff"/>
<circle cx="187.2" cy="1050.6" r="1.8" fill="#ff00ff"/>
<path d="M221.2,1102.3 L221.2,1057.4 L222.2,1057.4 L223.2,1058.3 L224.2,1057.8 L225.2,1056.5 L226.2,1058.7 L227.2,1056.6 L228.2,1056.9 L229.2,1058.7 L230.2,1058.3 L231.2,1056.6 L232.2,1057.5 L233.2,1057.2 L234.3,1056.6 L235.3,1056.4 L236.3,1057.2 L237.3,1057.8 L238.3,1056.8 L239.3,1056.5 L240.3,1058.2 L241.3,1058.1 L242.3,1057.5 L243.3,1057.9 L244.3,1057.0 L245.3,1057.3 L246.3,1057.4 L247.3,1058.0 L248.3,1057.7 L249.3,1058.4 L250.3,1059.6 L251.3,1058.9 L252.3,1058.1 L253.4,1059.2 L254.4,1057.7 L255.4,1058.0 L256.4,1057.8 L257.4,1056.1 L258.4,1057.3 L258.4,1102.3 Z" fill="#838b8b"/>
<circle cx="256.3" cy="1056.8" r="1.8" fill="#838b8b"/>
<circle cx="253.3" cy="1057.1" r="1.8" fill="#838b8b"/>
<circle cx="250.2" cy="1055.2" r="1.8" fill="#838b8b"/>
<circle cx="236.3" cy="1055.9" r="1.8" fill="#838b8b"/>
<circle cx="243.4" cy="1052.5" r="1.8" fill="#838b8b"/>
<circle cx="248.1" cy="1054.8" r="1.8" fill="#838b8b"/>
<circle cx="237.0" cy="1055.6" r="1.8" fill="#838b8b"/>
<circle cx="224.1" cy="1056.5" r="1.8" fill="#838b8b"/>
<circle cx="239.1" cy="1054.1" r="1.8" fill="#838b8b"/>
<circle cx="242.4" cy="1056.4" r="1.8" fill="#838b8b"/>
<circle cx="229.5" cy="1057.6" r="1.8" fill="#838b8b"/>
<circle cx="226.0" cy="1055.3" r="1.8" fill="#838b8b"/>
<circle cx="246.4" cy="1056.0" r="1.8" fill="#838b8b"/>
<circle cx="249.7" cy="1058.3" r="1.8" fill="#838b8b"/>
<circle cx="240.4" cy="1049.7" r="1.8" fill="#838b8b"/>
<circle cx="241.1" cy="1054.6" r="1.8" fill="#838b8b"/>
<path d="M257.8,1102.3 L257.8,1053.0 L258.8,1051.7 L259.8,1052.2 L260.8,1053.2 L261.9,1052.2 L262.9,1051.9 L263.9,1052.4 L264.9,1051.9 L266.0,1051.3 L267.0,1053.0 L268.0,1052.0 L269.0,1052.7 L270.1,1052.9 L271.1,1053.5 L272.1,1053.9 L273.1,1054.2 L274.2,1053.3 L275.2,1052.0 L276.2,1052.7 L277.2,1053.2 L278.3,1052.9 L279.3,1053.6 L280.3,1052.8 L281.3,1053.2 L282.4,1052.1 L283.4,1053.3 L284.4,1053.3 L285.4,1052.7 L286.5,1053.6 L287.5,1053.3 L288.5,1053.8 L289.5,1054.0 L290.6,1052.9 L291.6,1052.8 L292.6,1054.0 L293.6,1053.8 L293.6,1102.3 Z" fill="#ff00ff"/>
<circle cx="267.5" cy="1051.1" r="1.8" fill="#ff00ff"/>
<circle cx="283.9" cy="1052.7" r="1.8" fill="#ff00ff"/>
<circle cx="280.0" cy="1053.0" r="1.8" fill="#ff00ff"/>
<circle cx="291.6" cy="1051.2" r="1.8" fill="#ff00ff"/>
<circle cx="265.0" cy="1050.3" r="1.8" fill="#ff00ff"/>
<circle cx="268.4" cy="1051.3" r="1.8" fill="#ff00ff"/>
<circle cx="265.4" cy="1049.4" r="1.8" fill="#ff00ff"/>
<circle cx="262.8" cy="1049.6" r="1.8" fill="#ff00ff"/>
<circle cx="260.5" cy="1050.4" r="1.8" fill="#ff00ff"/>
<circle cx="284.7" cy="1052.0" r="1.8" fill="#ff00ff"/>
<circle cx="279.3" cy="1052.6" r="1.8" fill="#ff00ff"/>
<circle cx="266.4" cy="1049.7" r="1.8" fill="#ff00ff"/>
<circle cx="285.2" cy="1049.9" r="1.8" fill="#ff00ff"/>
<circle cx="274.6" cy="1053.0" r="1.8" fill="#ff00ff"/>
<circle cx="275.3" cy="1050.6" r="1.8" fill="#ff00ff"/>
<circle cx="262.3" cy="1051.0" r="1.8" fill="#ff00ff"/>
<circle cx="262.5" cy="1051.2" r="1.8" fill="#ff00ff"/>
<path d="M293.0,1102.3 L293.0,1054.8 L294.0,1054.5 L295.1,1056.8 L296.1,1054.7 L297.1,1054.7 L298.1,1054.8 L299.1,1056.2 L300.1,1053.8 L301.2,1053.7 L302.2,1053.3 L303.2,1054.2 L304.2,1054.8 L305.2,1055.5 L306.2,1055.2 L307.3,1055.5 L308.3,1056.6 L309.3,1057.1 L310.3,1056.6 L311.3,1055.1 L312.3,1055.2 L313.4,1055.3 L314.4,1054.8 L315.4,1053.6 L316.4,1053.9 L317.4,1054.6 L318.4,1054.7 L319.5,1054.8 L320.5,1054.9 L321.5,1057.3 L322.5,1055.0 L323.5,1054.8 L324.5,1055.5 L325.6,1055.6 L326.6,1055.8 L326.6,1102.3 Z" fill="#838b8b"/>
<circle cx="301.0" cy="1050.6" r="1.8" fill="#838b8b"/>
<circle cx="301.5" cy="1053.6" r="1.8" fill="#838b8b"/>
<circle cx="306.1" cy="1054.1" r="1.8" fill="#838b8b"/>
<circle cx="315.5" cy="1050.6" r="1.8" fill="#838b8b"/>
<circle cx="323.1" cy="1053.2" r="1.8" fill="#838b8b"/>
<circle cx="307.9" cy="1051.3" r="1.8" fill="#838b8b"/>
<circle cx="320.4" cy="1051.6" r="1.8" fill="#838b8b"/>
<circle cx="297.8" cy="1052.2" r="1.8" fill="#838b8b"/>
<circle cx="316.4" cy="1048.3" r="1.8" fill="#838b8b"/>
<circle cx="323.4" cy="1055.0" r="1.8" fill="#838b8b"/>
<circle cx="298.8" cy="1050.1" r="1.8" fill="#838b8b"/>
<circle cx="322.1" cy="1055.6" r="1.8" fill="#838b8b"/>
<circle cx="310.8" cy="1054.3" r="1.8" fill="#838b8b"/>
<circle cx="316.4" cy="1052.8" r="1.8" fill="#838b8b"/>
<circle cx="301.0" cy="1051.2" r="1.8" fill="#838b8b"/>
<circle cx="321.1" cy="1053.9" r="1.8" fill="#838b8b"/>
<path d="M326.0,1102.3 L326.0,1052.6 L327.0,1052.7 L328.0,1053.4 L329.0,1052.3 L330.1,1052.6 L331.1,1052.4 L332.1,1053.0 L333.1,1053.0 L334.2,1053.0 L335.2,1053.6 L336.2,1052.5 L337.2,1052.6 L338.3,1053.3 L339.3,1053.4 L340.3,1052.5 L341.3,1051.3 L342.3,1051.9 L343.4,1052.3 L344.4,1053.0 L345.4,1054.4 L346.4,1052.8 L347.5,1052.2 L348.5,1053.5 L349.5,1053.1 L350.5,1052.4 L351.6,1053.9 L352.6,1053.7 L353.6,1054.8 L354.6,1054.1 L355.6,1053.3 L356.7,1053.3 L357.7,1052.2 L357.7,1102.3 Z" fill="#ff00ff"/>
<circle cx="344.4" cy="1051.6" r="1.8" fill="#ff00ff"/>
<circle cx="343.3" cy="1050.7" r="1.8" fill="#ff00ff"/>
<circle cx="342.5" cy="1048.4" r="1.8" fill="#ff00ff"/>
<circle cx="347.4" cy="1051.7" r="1.8" fill="#ff00ff"/>
<circle cx="329.0" cy="1051.0" r="1.8" fill="#ff00ff"/>
<circle cx="354.7" cy="1049.4" r="1.8" fill="#ff00ff"/>
<circle cx="347.0" cy="1050.5" r="1.8" fill="#ff00ff"/>
<circle cx="348.1" cy="1050.2" r="1.8" fill="#ff00ff"/>
<circle cx="334.8" cy="1046.4" r="1.8" fill="#ff00ff"/>
<circle cx="352.8" cy="1050.3" r="1.8" fill="#ff00ff"/>
<circle cx="355.4" cy="1047.7" r="1.8" fill="#ff00ff"/>
<circle cx="346.8" cy="1051.1" r="1.8" fill="#ff00ff"/>
<circle cx="343.9" cy="1051.2" r="1.8" fill="#ff00ff"/>
<circle cx="350.2" cy="1050.8" r="1.8" fill="#ff00ff"/>
<circle cx="346.3" cy="1053.4" r="1.8" fill="#ff00ff"/>
<path d="M357.1,1102.3 L357.1,1055.4 L358.1,1054.6 L359.1,1054.4 L360.1,1054.9 L361.2,1055.1 L362.2,1053.7 L363.2,1054.5 L364.2,1054.3 L365.2,1054.4 L366.2,1055.9 L367.3,1055.5 L368.3,1055.8 L369.3,1055.8 L370.3,1055.3 L371.3,1055.9 L372.3,1055.7 L373.4,1055.9 L374.4,1055.8 L375.4,1055.0 L376.4,1054.8 L377.4,1054.4 L378.4,1054.9 L379.5,1054.9 L380.5,1054.3 L381.5,1053.4 L382.5,1053.6 L383.5,1053.3 L384.5,1052.6 L385.6,1054.0 L385.6,1102.3 Z" fill="#838b8b"/>
<circle cx="364.1" cy="1053.8" r="1.8" fill="#838b8b"/>
<circle cx="366.4" cy="1054.1" r="1.8" fill="#838b8b"/>
<circle cx="377.2" cy="1048.2" r="1.8" fill="#838b8b"/>
<circle cx="371.0" cy="1049.6" r="1.8" fill="#838b8b"/>
<circle cx="373.1" cy="1055.4" r="1.8" fill="#838b8b"/>
<circle cx="376.4" cy="1053.0" r="1.8" fill="#838b8b"/>
<circle cx="365.3" cy="1048.1" r="1.8" fill="#838b8b"/>
<circle cx="381.5" cy="1053.6" r="1.8" fill="#838b8b"/>
<circle cx="367.9" cy="1054.9" r="1.8" fill="#838b8b"/>
<circle cx="369.1" cy="1052.3" r="1.8" fill="#838b8b"/>
<circle cx="373.0" cy="1053.7" r="1.8" fill="#838b8b"/>
<circle cx="378.5" cy="1054.3" r="1.8" fill="#838b8b"/>
<path d="M385.0,1102.3 L385.0,1056.1 L386.0,1056.6 L387.0,1055.9 L388.1,1057.2 L389.1,1056.6 L390.1,1056.3 L391.2,1056.5 L392.2,1056.0 L392.3,1056.0 L392.5,1056.0 L392.7,1056.0 L392.9,1056.0 L393.1,1056.0 L393.3,1054.3 L393.5,1054.3 L393.7,1054.3 L393.9,1054.3 L394.1,1054.3 L394.3,1054.7 L394.5,1054.7 L394.7,1055.4 L394.9,1056.4 L395.1,1057.5 L395.3,1058.6 L395.5,1059.8 L395.7,1061.0 L395.9,1062.3 L396.1,1063.7 L396.3,1065.2 L396.5,1066.8 L396.7,1068.5 L396.9,1070.4 L397.1,1072.7 L397.3,1075.5 L397.5,1079.5 L397.6,1083.3 L397.6,1102.3 L397.7,1102.3 L397.9,1102.3 L398.1,1102.3 L398.3,1102.3 L398.5,1102.3 L398.7,1102.3 L398.9,1102.3 L399.0,1102.3 L399.0,1055.7 L399.1,1055.7 L399.3,1055.7 L399.5,1055.6 L399.7,1055.6 L399.9,1055.6 L400.1,1055.6 L400.3,1055.6 L400.5,1055.2 L400.7,1055.2 L400.9,1055.2 L401.1,1055.2 L401.3,1055.2 L401.5,1055.2 L401.7,1055.2 L401.9,1055.2 L402.1,1055.2 L402.3,1055.2 L402.5,1055.2 L402.7,1055.2 L402.9,1055.2 L403.1,1055.2 L403.3,1055.2 L403.5,1055.2 L403.7,1055.3 L403.9,1055.3 L404.1,1055.3 L404.3,1055.3 L404.6,1055.5 L405.6,1055.2 L406.7,1055.7 L407.7,1055.3 L408.7,1055.2 L409.8,1056.2 L410.8,1055.7 L411.8,1055.2 L412.9,1055.2 L412.9,1102.3 Z" fill="#ff00ff"/>
<circle cx="405.4" cy="1055.1" r="1.8" fill="#ff00ff"/>
<circle cx="391.3" cy="1053.5" r="1.8" fill="#ff00ff"/>
<circle cx="399.9" cy="1054.8" r="1.8" fill="#ff00ff"/>
<circle cx="392.9" cy="1048.2" r="1.8" fill="#ff00ff"/>
<circle cx="389.3" cy="1054.2" r="1.8" fill="#ff00ff"/>
<path d="M412.3,1102.3 L412.3,1052.1 L413.3,1053.3 L414.3,1053.2 L415.3,1053.4 L416.3,1053.1 L417.4,1052.3 L418.4,1052.6 L419.4,1054.2 L420.4,1054.8 L421.4,1053.1 L422.5,1052.7 L423.5,1052.7 L424.5,1051.5 L425.5,1051.0 L426.6,1053.0 L427.6,1053.3 L428.6,1052.8 L429.6,1053.8 L430.6,1054.7 L431.7,1052.8 L432.7,1053.4 L433.7,1051.4 L434.7,1051.2 L435.8,1051.4 L436.8,1054.3 L437.8,1053.6 L438.8,1052.6 L438.8,1102.3 Z" fill="#838b8b"/>
<circle cx="417.3" cy="1050.9" r="1.8" fill="#838b8b"/>
<circle cx="427.3" cy="1049.5" r="1.8" fill="#838b8b"/>
<circle cx="420.1" cy="1053.2" r="1.8" fill="#838b8b"/>
<circle cx="415.5" cy="1050.8" r="1.8" fill="#838b8b"/>
<circle cx="427.3" cy="1052.6" r="1.8" fill="#838b8b"/>
<circle cx="418.0" cy="1049.5" r="1.8" fill="#838b8b"/>
<circle cx="434.6" cy="1047.1" r="1.8" fill="#838b8b"/>
<circle cx="427.2" cy="1052.2" r="1.8" fill="#838b8b"/>
<circle cx="432.5" cy="1050.5" r="1.8" fill="#838b8b"/>
<circle cx="426.0" cy="1044.2" r="1.8" fill="#838b8b"/>
<circle cx="432.6" cy="1051.7" r="1.8" fill="#838b8b"/>
<circle cx="426.1" cy="1047.4" r="1.8" fill="#838b8b"/>
<path d="M438.2,1102.3 L438.2,1056.0 L439.2,1054.3 L440.2,1055.3 L441.2,1055.4 L442.2,1054.6 L443.2,1054.4 L444.2,1054.0 L445.2,1054.5 L446.2,1055.7 L447.2,1056.3 L448.2,1056.0 L449.2,1056.1 L450.2,1055.6 L451.2,1055.2 L452.2,1054.4 L453.2,1052.8 L454.2,1055.4 L455.2,1055.1 L456.2,1055.0 L457.2,1055.8 L458.2,1056.6 L459.2,1054.9 L460.2,1053.4 L461.2,1054.7 L462.2,1054.7 L463.2,1055.2 L464.2,1055.7 L465.2,1056.3 L465.2,1102.3 Z" fill="#ff00ff"/>
<circle cx="440.5" cy="1049.0" r="1.8" fill="#ff00ff"/>
<circle cx="456.6" cy="1054.0" r="1.8" fill="#ff00ff"/>
<circle cx="455.3" cy="1049.9" r="1.8" fill="#ff00ff"/>
<circle cx="444.9" cy="1052.6" r="1.8" fill="#ff00ff"/>
<circle cx="442.1" cy="1054.9" r="1.8" fill="#ff00ff"/>
<circle cx="451.2" cy="1054.3" r="1.8" fill="#ff00ff"/>
<circle cx="460.2" cy="1053.3" r="1.8" fill="#ff00ff"/>
<circle cx="458.5" cy="1055.3" r="1.8" fill="#ff00ff"/>
<circle cx="441.0" cy="1054.6" r="1.8" fill="#ff00ff"/>
<circle cx="459.1" cy="1055.4" r="1.8" fill="#ff00ff"/>
<circle cx="451.3" cy="1051.9" r="1.8" fill="#ff00ff"/>
<circle cx="449.9" cy="1056.1" r="1.8" fill="#ff00ff"/>
<path d="M464.6,1102.3 L464.6,1057.3 L465.6,1055.5 L466.7,1055.5 L467.7,1057.1 L468.7,1056.9 L469.7,1058.0 L470.8,1056.1 L471.8,1054.5 L472.8,1055.3 L473.8,1054.8 L474.9,1056.0 L475.9,1055.3 L476.9,1056.0 L477.9,1055.3 L479.0,1056.7 L480.0,1056.2 L481.0,1055.9 L482.0,1055.7 L483.1,1055.3 L484.1,1055.5 L485.1,1055.9 L486.1,1056.1 L487.1,1056.8 L488.2,1057.5 L489.2,1056.7 L490.2,1056.8 L491.2,1056.9 L492.3,1056.7 L493.3,1057.1 L494.3,1054.2 L494.3,1102.3 Z" fill="#838b8b"/>
<circle cx="466.2" cy="1051.6" r="1.8" fill="#838b8b"/>
<circle cx="489.5" cy="1056.0" r="1.8" fill="#838b8b"/>
<circle cx="471.9" cy="1052.5" r="1.8" fill="#838b8b"/>
<circle cx="476.9" cy="1054.7" r="1.8" fill="#838b8b"/>
<circle cx="485.0" cy="1054.8" r="1.8" fill="#838b8b"/>
<circle cx="469.9" cy="1056.7" r="1.8" fill="#838b8b"/>
<circle cx="474.0" cy="1054.0" r="1.8" fill="#838b8b"/>
<circle cx="486.3" cy="1052.8" r="1.8" fill="#838b8b"/>
<circle cx="491.1" cy="1053.9" r="1.8" fill="#838b8b"/>
<circle cx="492.7" cy="1056.4" r="1.8" fill="#838b8b"/>
<circle cx="482.7" cy="1053.9" r="1.8" fill="#838b8b"/>
<circle cx="479.0" cy="1055.8" r="1.8" fill="#838b8b"/>
<circle cx="468.7" cy="1055.5" r="1.8" fill="#838b8b"/>
<path d="M493.7,1102.3 L493.7,1056.5 L494.8,1054.5 L495.8,1054.4 L496.8,1055.2 L497.9,1054.8 L498.9,1053.5 L500.0,1054.5 L501.0,1055.4 L502.1,1056.1 L503.1,1054.1 L504.1,1054.0 L505.2,1054.1 L506.2,1055.1 L507.3,1054.2 L508.3,1054.6 L509.3,1055.2 L510.4,1054.4 L511.4,1055.5 L512.5,1056.5 L513.5,1055.9 L514.6,1055.3 L515.6,1055.1 L516.6,1054.5 L516.6,1102.3 Z" fill="#ff00ff"/>
<circle cx="499.4" cy="1051.4" r="1.8" fill="#ff00ff"/>
<circle cx="496.4" cy="1052.9" r="1.8" fill="#ff00ff"/>
<circle cx="498.0" cy="1049.0" r="1.8" fill="#ff00ff"/>
<circle cx="498.7" cy="1052.2" r="1.8" fill="#ff00ff"/>
<circle cx="499.3" cy="1052.9" r="1.8" fill="#ff00ff"/>
<circle cx="500.4" cy="1052.5" r="1.8" fill="#ff00ff"/>
<circle cx="499.9" cy="1052.9" r="1.8" fill="#ff00ff"/>
<circle cx="505.3" cy="1048.0" r="1.8" fill="#ff00ff"/>
<circle cx="495.9" cy="1049.8" r="1.8" fill="#ff00ff"/>
<circle cx="509.8" cy="1055.0" r="1.8" fill="#ff00ff"/>
<path d="M516.0,1102.3 L516.0,1059.9 L517.1,1059.1 L518.1,1058.4 L519.1,1058.4 L520.1,1060.3 L521.1,1060.4 L522.2,1058.9 L523.2,1059.5 L524.2,1059.2 L525.2,1059.8 L526.2,1059.1 L527.3,1060.0 L528.3,1059.1 L529.3,1058.9 L530.3,1060.0 L531.3,1059.8 L532.4,1060.9 L533.4,1059.9 L534.4,1060.9 L535.4,1061.2 L536.4,1060.8 L537.5,1060.8 L537.5,1102.3 Z" fill="#838b8b"/>
<circle cx="526.0" cy="1056.2" r="1.8" fill="#838b8b"/>
<circle cx="521.5" cy="1058.5" r="1.8" fill="#838b8b"/>
<circle cx="520.5" cy="1058.0" r="1.8" fill="#838b8b"/>
<circle cx="526.6" cy="1058.4" r="1.8" fill="#838b8b"/>
<circle cx="534.0" cy="1058.1" r="1.8" fill="#838b8b"/>
<circle cx="517.7" cy="1056.9" r="1.8" fill="#838b8b"/>
<circle cx="533.5" cy="1057.4" r="1.8" fill="#838b8b"/>
<circle cx="522.8" cy="1057.9" r="1.8" fill="#838b8b"/>
<circle cx="519.7" cy="1056.0" r="1.8" fill="#838b8b"/>
<path d="M536.9,1102.3 L536.9,1056.3 L537.9,1056.5 L538.9,1055.1 L539.9,1053.2 L540.9,1054.4 L541.9,1054.4 L542.9,1054.8 L543.9,1053.8 L545.0,1054.0 L546.0,1053.7 L547.0,1054.4 L548.0,1055.4 L549.0,1055.1 L550.0,1054.9 L551.0,1054.7 L552.0,1056.1 L553.1,1056.1 L554.1,1056.2 L554.1,1102.3 Z" fill="#ff00ff"/>
<circle cx="539.2" cy="1049.6" r="1.8" fill="#ff00ff"/>
<circle cx="546.0" cy="1051.0" r="1.8" fill="#ff00ff"/>
<circle cx="542.2" cy="1050.2" r="1.8" fill="#ff00ff"/>
<circle cx="540.7" cy="1051.1" r="1.8" fill="#ff00ff"/>
<circle cx="543.8" cy="1053.8" r="1.8" fill="#ff00ff"/>
<circle cx="548.9" cy="1051.5" r="1.8" fill="#ff00ff"/>
<circle cx="539.3" cy="1054.4" r="1.8" fill="#ff00ff"/>
<path d="M553.5,1102.3 L553.5,1060.5 L554.5,1059.4 L555.5,1060.7 L556.5,1061.7 L557.5,1060.8 L558.6,1059.6 L559.6,1060.2 L560.6,1061.7 L561.6,1062.1 L562.6,1061.9 L563.7,1060.7 L564.7,1061.8 L565.7,1061.1 L566.7,1060.8 L567.7,1062.2 L568.8,1063.4 L569.8,1061.0 L570.8,1061.7 L570.8,1102.3 Z" fill="#838b8b"/>
<circle cx="559.3" cy="1059.1" r="1.8" fill="#838b8b"/>
<circle cx="568.5" cy="1059.5" r="1.8" fill="#838b8b"/>
<circle cx="558.1" cy="1060.2" r="1.8" fill="#838b8b"/>
<circle cx="560.6" cy="1059.3" r="1.8" fill="#838b8b"/>
<circle cx="566.7" cy="1057.4" r="1.8" fill="#838b8b"/>
<circle cx="560.1" cy="1057.9" r="1.8" fill="#838b8b"/>
<circle cx="564.9" cy="1058.8" r="1.8" fill="#838b8b"/>
<path d="M570.2,1102.3 L570.2,1053.5 L571.2,1053.3 L572.3,1053.3 L573.3,1051.1 L574.4,1050.9 L575.4,1052.2 L576.4,1053.0 L577.5,1052.2 L578.5,1053.8 L579.6,1053.3 L580.6,1053.1 L581.7,1054.0 L582.7,1054.7 L583.7,1054.6 L584.8,1053.6 L585.8,1053.0 L586.9,1052.9 L586.9,1102.3 Z" fill="#ff00ff"/>
<circle cx="574.5" cy="1050.8" r="1.8" fill="#ff00ff"/>
<circle cx="576.5" cy="1048.2" r="1.8" fill="#ff00ff"/>
<circle cx="577.7" cy="1052.1" r="1.8" fill="#ff00ff"/>
<circle cx="577.2" cy="1050.6" r="1.8" fill="#ff00ff"/>
<circle cx="584.2" cy="1049.2" r="1.8" fill="#ff00ff"/>
<circle cx="580.8" cy="1048.3" r="1.8" fill="#ff00ff"/>
<circle cx="575.2" cy="1049.6" r="1.8" fill="#ff00ff"/>
<path d="M586.3,1102.3 L586.3,1054.5 L587.3,1054.6 L588.3,1053.3 L589.4,1052.7 L590.4,1053.0 L591.4,1051.9 L592.5,1052.9 L593.5,1053.2 L594.5,1054.7 L595.6,1055.2 L596.6,1055.4 L597.7,1053.6 L598.7,1054.2 L599.7,1055.9 L600.8,1056.2 L601.8,1055.3 L601.8,1102.3 Z" fill="#838b8b"/>
<circle cx="598.0" cy="1051.9" r="1.8" fill="#838b8b"/>
<circle cx="598.2" cy="1051.7" r="1.8" fill="#838b8b"/>
<circle cx="591.1" cy="1052.4" r="1.8" fill="#838b8b"/>
<circle cx="598.5" cy="1052.9" r="1.8" fill="#838b8b"/>
<circle cx="592.3" cy="1050.6" r="1.8" fill="#838b8b"/>
<circle cx="590.3" cy="1050.9" r="1.8" fill="#838b8b"/>
<circle cx="593.1" cy="1052.3" r="1.8" fill="#838b8b"/>
<path d="M601.2,1102.3 L601.2,1054.1 L602.2,1053.8 L603.2,1054.2 L604.2,1055.7 L605.2,1056.5 L606.2,1055.1 L607.2,1055.0 L608.2,1055.2 L609.2,1055.0 L610.2,1054.9 L611.3,1055.1 L612.3,1055.2 L613.3,1055.0 L613.3,1102.3 Z" fill="#ff00ff"/>
<circle cx="606.0" cy="1055.3" r="1.8" fill="#ff00ff"/>
<circle cx="607.4" cy="1053.4" r="1.8" fill="#ff00ff"/>
<circle cx="610.0" cy="1054.9" r="1.8" fill="#ff00ff"/>
<circle cx="607.9" cy="1052.3" r="1.8" fill="#ff00ff"/>
<circle cx="609.3" cy="1052.6" r="1.8" fill="#ff00ff"/>
<path d="M612.7,1102.3 L612.7,1058.8 L613.7,1058.1 L614.8,1058.8 L615.9,1057.5 L616.9,1057.2 L618.0,1057.6 L619.1,1056.9 L620.1,1057.5 L621.2,1057.4 L622.3,1059.1 L623.3,1056.9 L624.4,1057.1 L625.5,1059.1 L626.5,1059.5 L627.6,1058.7 L627.6,1102.3 Z" fill="#838b8b"/>
<circle cx="619.6" cy="1052.1" r="1.8" fill="#838b8b"/>
<circle cx="619.3" cy="1054.9" r="1.8" fill="#838b8b"/>
<circle cx="623.5" cy="1056.3" r="1.8" fill="#838b8b"/>
<circle cx="624.9" cy="1054.2" r="1.8" fill="#838b8b"/>
<circle cx="614.3" cy="1058.0" r="1.8" fill="#838b8b"/>
<circle cx="624.9" cy="1055.6" r="1.8" fill="#838b8b"/>
<path d="M627.0,1102.3 L627.0,1056.6 L628.0,1055.2 L629.0,1054.9 L630.0,1055.7 L631.0,1056.5 L632.0,1055.8 L633.0,1055.6 L634.0,1055.5 L635.0,1055.3 L636.0,1054.3 L637.0,1055.4 L638.1,1053.9 L638.1,1102.3 Z" fill="#ff00ff"/>
<circle cx="629.3" cy="1053.8" r="1.8" fill="#ff00ff"/>
<circle cx="631.3" cy="1056.5" r="1.8" fill="#ff00ff"/>
<circle cx="629.9" cy="1054.2" r="1.8" fill="#ff00ff"/>
<circle cx="634.8" cy="1053.3" r="1.8" fill="#ff00ff"/>
<circle cx="629.4" cy="1053.9" r="1.8" fill="#ff00ff"/>
<path d="M637.5,1102.3 L637.5,1056.9 L638.5,1055.7 L639.5,1055.4 L640.6,1055.1 L641.6,1056.0 L642.7,1056.6 L643.7,1058.2 L644.8,1056.8 L645.8,1057.8 L646.9,1058.5 L647.9,1058.0 L647.9,1102.3 Z" fill="#838b8b"/>
<circle cx="640.4" cy="1050.3" r="1.8" fill="#838b8b"/>
<circle cx="643.5" cy="1055.0" r="1.8" fill="#838b8b"/>
<circle cx="644.9" cy="1051.8" r="1.8" fill="#838b8b"/>
<circle cx="641.0" cy="1052.3" r="1.8" fill="#838b8b"/>
<circle cx="97.2" cy="1042.0" r="1.8" fill="#ff00ff"/>
<circle cx="106.2" cy="1034.0" r="1.8" fill="#ff00ff"/>
<circle cx="111.5" cy="1055.5" r="1.8" fill="#ff00ff"/>
<circle cx="112.1" cy="1047.7" r="1.8" fill="#ff00ff"/>
<circle cx="111.7" cy="1045.1" r="1.8" fill="#ff00ff"/>
<circle cx="111.8" cy="1041.4" r="1.8" fill="#ff00ff"/>
<circle cx="129.1" cy="1053.1" r="1.8" fill="#ff00ff"/>
<circle cx="129.0" cy="1050.5" r="1.8" fill="#ff00ff"/>
<circle cx="129.1" cy="1045.4" r="1.8" fill="#ff00ff"/>
<circle cx="145.5" cy="1052.8" r="1.8" fill="#838b8b"/>
<circle cx="145.8" cy="1049.4" r="1.8" fill="#838b8b"/>
<circle cx="157.7" cy="1056.9" r="1.8" fill="#838b8b"/>
<circle cx="157.6" cy="1052.3" r="1.8" fill="#838b8b"/>
<circle cx="178.1" cy="1045.4" r="1.8" fill="#838b8b"/>
<circle cx="200.4" cy="1054.3" r="1.8" fill="#ff00ff"/>
<circle cx="200.6" cy="1047.2" r="1.8" fill="#ff00ff"/>
<circle cx="210.5" cy="1050.0" r="1.8" fill="#ff00ff"/>
<circle cx="213.5" cy="1055.7" r="1.8" fill="#ff00ff"/>
<circle cx="213.8" cy="1053.1" r="1.8" fill="#ff00ff"/>
<circle cx="213.5" cy="1048.9" r="1.8" fill="#ff00ff"/>
<circle cx="216.1" cy="1057.6" r="1.8" fill="#ff00ff"/>
<circle cx="216.8" cy="1052.4" r="1.8" fill="#ff00ff"/>
<circle cx="216.6" cy="1049.8" r="1.8" fill="#ff00ff"/>
<circle cx="216.5" cy="1046.6" r="1.8" fill="#ff00ff"/>
<circle cx="219.8" cy="1053.7" r="1.8" fill="#ff00ff"/>
<circle cx="219.8" cy="1051.1" r="1.8" fill="#ff00ff"/>
<circle cx="219.3" cy="1048.5" r="1.8" fill="#ff00ff"/>
<circle cx="219.5" cy="1045.4" r="1.8" fill="#ff00ff"/>
<circle cx="221.4" cy="1038.0" r="1.8" fill="#838b8b"/>
<circle cx="224.3" cy="1052.1" r="1.8" fill="#838b8b"/>
<circle cx="224.4" cy="1049.5" r="1.8" fill="#838b8b"/>
<circle cx="224.2" cy="1046.6" r="1.8" fill="#838b8b"/>
<circle cx="227.2" cy="1057.7" r="1.8" fill="#838b8b"/>
<circle cx="227.0" cy="1055.1" r="1.8" fill="#838b8b"/>
<circle cx="226.8" cy="1049.9" r="1.8" fill="#838b8b"/>
<circle cx="227.0" cy="1047.7" r="1.8" fill="#838b8b"/>
<circle cx="225.6" cy="1039.2" r="1.8" fill="#838b8b"/>
<circle cx="243.0" cy="1056.5" r="1.8" fill="#838b8b"/>
<circle cx="242.6" cy="1053.9" r="1.8" fill="#838b8b"/>
<circle cx="243.1" cy="1048.7" r="1.8" fill="#838b8b"/>
<circle cx="243.0" cy="1040.9" r="1.8" fill="#838b8b"/>
<circle cx="242.7" cy="1038.3" r="1.8" fill="#838b8b"/>
<circle cx="242.5" cy="1035.7" r="1.8" fill="#838b8b"/>
<circle cx="242.9" cy="1032.9" r="1.8" fill="#838b8b"/>
<circle cx="247.8" cy="1057.0" r="1.8" fill="#838b8b"/>
<circle cx="247.9" cy="1054.4" r="1.8" fill="#838b8b"/>
<circle cx="247.8" cy="1051.8" r="1.8" fill="#838b8b"/>
<circle cx="247.8" cy="1047.2" r="1.8" fill="#838b8b"/>
<circle cx="268.1" cy="1049.4" r="1.8" fill="#ff00ff"/>
<circle cx="267.5" cy="1046.8" r="1.8" fill="#ff00ff"/>
<circle cx="268.0" cy="1044.2" r="1.8" fill="#ff00ff"/>
<circle cx="267.9" cy="1042.0" r="1.8" fill="#ff00ff"/>
<circle cx="316.8" cy="1052.9" r="1.8" fill="#838b8b"/>
<circle cx="317.3" cy="1050.3" r="1.8" fill="#838b8b"/>
<circle cx="316.9" cy="1042.5" r="1.8" fill="#838b8b"/>
<circle cx="317.0" cy="1038.6" r="1.8" fill="#838b8b"/>
<circle cx="320.3" cy="1053.9" r="1.8" fill="#838b8b"/>
<circle cx="320.7" cy="1051.3" r="1.8" fill="#838b8b"/>
<circle cx="320.3" cy="1048.7" r="1.8" fill="#838b8b"/>
<circle cx="320.3" cy="1046.1" r="1.8" fill="#838b8b"/>
<circle cx="320.3" cy="1043.5" r="1.8" fill="#838b8b"/>
<circle cx="320.5" cy="1038.6" r="1.8" fill="#838b8b"/>
<circle cx="331.4" cy="1051.4" r="1.8" fill="#ff00ff"/>
<circle cx="331.6" cy="1048.9" r="1.8" fill="#ff00ff"/>
<circle cx="362.2" cy="1052.7" r="1.8" fill="#838b8b"/>
<circle cx="362.2" cy="1047.7" r="1.8" fill="#838b8b"/>
<circle cx="380.9" cy="1048.9" r="1.8" fill="#838b8b"/>
<circle cx="389.3" cy="1055.6" r="1.8" fill="#ff00ff"/>
<circle cx="388.9" cy="1053.0" r="1.8" fill="#ff00ff"/>
<circle cx="389.0" cy="1050.4" r="1.8" fill="#ff00ff"/>
<circle cx="389.2" cy="1047.7" r="1.8" fill="#ff00ff"/>
<circle cx="408.8" cy="1053.9" r="1.8" fill="#ff00ff"/>
<circle cx="409.4" cy="1046.1" r="1.8" fill="#ff00ff"/>
<circle cx="409.3" cy="1043.5" r="1.8" fill="#ff00ff"/>
<circle cx="409.4" cy="1040.9" r="1.8" fill="#ff00ff"/>
<circle cx="408.8" cy="1038.3" r="1.8" fill="#ff00ff"/>
<circle cx="409.1" cy="1036.3" r="1.8" fill="#ff00ff"/>
<circle cx="417.2" cy="1052.1" r="1.8" fill="#838b8b"/>
<circle cx="417.0" cy="1047.2" r="1.8" fill="#838b8b"/>
<circle cx="425.2" cy="1050.5" r="1.8" fill="#838b8b"/>
<circle cx="425.3" cy="1047.2" r="1.8" fill="#838b8b"/>
<circle cx="431.5" cy="1042.0" r="1.8" fill="#838b8b"/>
<circle cx="448.1" cy="1055.3" r="1.8" fill="#ff00ff"/>
<circle cx="448.6" cy="1044.9" r="1.8" fill="#ff00ff"/>
<circle cx="448.0" cy="1039.7" r="1.8" fill="#ff00ff"/>
<circle cx="448.5" cy="1037.1" r="1.8" fill="#ff00ff"/>
<circle cx="448.1" cy="1034.5" r="1.8" fill="#ff00ff"/>
<circle cx="448.2" cy="1030.6" r="1.8" fill="#ff00ff"/>
<circle cx="455.6" cy="1051.5" r="1.8" fill="#ff00ff"/>
<circle cx="455.5" cy="1048.9" r="1.8" fill="#ff00ff"/>
<circle cx="456.0" cy="1046.3" r="1.8" fill="#ff00ff"/>
<circle cx="455.9" cy="1041.1" r="1.8" fill="#ff00ff"/>
<circle cx="455.3" cy="1038.5" r="1.8" fill="#ff00ff"/>
<circle cx="455.7" cy="1034.0" r="1.8" fill="#ff00ff"/>
<circle cx="467.2" cy="1049.3" r="1.8" fill="#838b8b"/>
<circle cx="467.4" cy="1047.2" r="1.8" fill="#838b8b"/>
<circle cx="479.8" cy="1051.2" r="1.8" fill="#838b8b"/>
<circle cx="491.1" cy="1055.8" r="1.8" fill="#838b8b"/>
<circle cx="490.6" cy="1053.2" r="1.8" fill="#838b8b"/>
<circle cx="490.9" cy="1050.6" r="1.8" fill="#838b8b"/>
<circle cx="490.7" cy="1045.4" r="1.8" fill="#838b8b"/>
<circle cx="490.8" cy="1040.9" r="1.8" fill="#838b8b"/>
<circle cx="499.9" cy="1047.3" r="1.8" fill="#ff00ff"/>
<circle cx="500.0" cy="1044.7" r="1.8" fill="#ff00ff"/>
<circle cx="499.6" cy="1040.9" r="1.8" fill="#ff00ff"/>
<circle cx="509.0" cy="1048.9" r="1.8" fill="#ff00ff"/>
<circle cx="519.7" cy="1057.4" r="1.8" fill="#838b8b"/>
<circle cx="519.2" cy="1054.8" r="1.8" fill="#838b8b"/>
<circle cx="519.3" cy="1049.6" r="1.8" fill="#838b8b"/>
<circle cx="519.0" cy="1047.0" r="1.8" fill="#838b8b"/>
<circle cx="519.5" cy="1044.4" r="1.8" fill="#838b8b"/>
<circle cx="519.3" cy="1040.9" r="1.8" fill="#838b8b"/>
<circle cx="539.9" cy="1054.1" r="1.8" fill="#ff00ff"/>
<circle cx="539.6" cy="1051.5" r="1.8" fill="#ff00ff"/>
<circle cx="539.6" cy="1048.9" r="1.8" fill="#ff00ff"/>
<circle cx="539.7" cy="1044.3" r="1.8" fill="#ff00ff"/>
<circle cx="546.7" cy="1053.4" r="1.8" fill="#ff00ff"/>
<circle cx="547.0" cy="1046.6" r="1.8" fill="#ff00ff"/>
<circle cx="554.1" cy="1059.5" r="1.8" fill="#838b8b"/>
<circle cx="554.2" cy="1051.7" r="1.8" fill="#838b8b"/>
<circle cx="554.3" cy="1048.9" r="1.8" fill="#838b8b"/>
<circle cx="566.3" cy="1060.1" r="1.8" fill="#838b8b"/>
<circle cx="565.8" cy="1057.5" r="1.8" fill="#838b8b"/>
<circle cx="566.2" cy="1049.7" r="1.8" fill="#838b8b"/>
<circle cx="565.8" cy="1047.1" r="1.8" fill="#838b8b"/>
<circle cx="566.1" cy="1044.5" r="1.8" fill="#838b8b"/>
<circle cx="566.0" cy="1040.9" r="1.8" fill="#838b8b"/>
<circle cx="571.9" cy="1036.3" r="1.8" fill="#ff00ff"/>
<circle cx="573.5" cy="1052.3" r="1.8" fill="#ff00ff"/>
<circle cx="573.4" cy="1049.7" r="1.8" fill="#ff00ff"/>
<circle cx="573.1" cy="1044.5" r="1.8" fill="#ff00ff"/>
<circle cx="573.3" cy="1042.0" r="1.8" fill="#ff00ff"/>
<circle cx="578.3" cy="1051.2" r="1.8" fill="#ff00ff"/>
<circle cx="578.2" cy="1048.6" r="1.8" fill="#ff00ff"/>
<circle cx="578.4" cy="1040.9" r="1.8" fill="#ff00ff"/>
<circle cx="586.6" cy="1050.9" r="1.8" fill="#838b8b"/>
<circle cx="586.4" cy="1048.3" r="1.8" fill="#838b8b"/>
<circle cx="586.5" cy="1045.7" r="1.8" fill="#838b8b"/>
<circle cx="586.5" cy="1043.2" r="1.8" fill="#838b8b"/>
<circle cx="593.8" cy="1038.6" r="1.8" fill="#838b8b"/>
<circle cx="599.7" cy="1050.6" r="1.8" fill="#838b8b"/>
<circle cx="599.3" cy="1048.0" r="1.8" fill="#838b8b"/>
<circle cx="599.9" cy="1045.4" r="1.8" fill="#838b8b"/>
<circle cx="599.6" cy="1040.9" r="1.8" fill="#838b8b"/>
<circle cx="632.1" cy="1055.5" r="1.8" fill="#ff00ff"/>
<circle cx="631.8" cy="1045.4" r="1.8" fill="#ff00ff"/>
<circle cx="642.0" cy="1040.9" r="1.8" fill="#838b8b"/>
<circle cx="612.1" cy="843.0" r="1.8" fill="#ff00ff"/>
<circle cx="612.1" cy="924.8" r="1.8" fill="#ff00ff"/>
<circle cx="612.1" cy="932.2" r="1.8" fill="#ff00ff"/>
<circle cx="612.1" cy="964.7" r="1.8" fill="#ff00ff"/>
<circle cx="612.1" cy="967.1" r="1.8" fill="#ff00ff"/>
<circle cx="612.1" cy="969.4" r="1.8" fill="#ff00ff"/>
<circle cx="612.1" cy="972.2" r="1.8" fill="#ff00ff"/>
<circle cx="612.1" cy="980.6" r="1.8" fill="#ff00ff"/>
<circle cx="612.1" cy="1050.0" r="1.8" fill="#ff00ff"/>
<circle cx="612.1" cy="1049.1" r="1.8" fill="#ff00ff"/>
<circle cx="612.1" cy="1048.2" r="1.8" fill="#ff00ff"/>
<circle cx="612.1" cy="1047.3" r="1.8" fill="#ff00ff"/>
<circle cx="612.1" cy="1046.4" r="1.8" fill="#ff00ff"/>
<circle cx="612.1" cy="1045.5" r="1.8" fill="#ff00ff"/>
<circle cx="612.1" cy="1044.6" r="1.8" fill="#ff00ff"/>
<circle cx="612.1" cy="1043.7" r="1.8" fill="#ff00ff"/>
<circle cx="612.1" cy="1042.8" r="1.8" fill="#ff00ff"/>
<circle cx="612.1" cy="1041.9" r="1.8" fill="#ff00ff"/>
<circle cx="612.1" cy="1041.0" r="1.8" fill="#ff00ff"/>
<circle cx="612.1" cy="1040.1" r="1.8" fill="#ff00ff"/>
<circle cx="612.1" cy="1039.2" r="1.8" fill="#ff00ff"/>
<circle cx="612.1" cy="1038.3" r="1.8" fill="#ff00ff"/>
<circle cx="612.1" cy="1037.4" r="1.8" fill="#ff00ff"/>
<circle cx="612.1" cy="1036.5" r="1.8" fill="#ff00ff"/>
<circle cx="612.1" cy="1035.6" r="1.8" fill="#ff00ff"/>
<circle cx="612.1" cy="1034.7" r="1.8" fill="#ff00ff"/>
<circle cx="612.1" cy="1033.8" r="1.8" fill="#ff00ff"/>
<circle cx="612.1" cy="1032.9" r="1.8" fill="#ff00ff"/>
<circle cx="612.1" cy="1032.0" r="1.8" fill="#ff00ff"/>
<circle cx="612.1" cy="1031.1" r="1.8" fill="#ff00ff"/>
<circle cx="612.1" cy="1030.2" r="1.8" fill="#ff00ff"/>
<circle cx="612.1" cy="1029.3" r="1.8" fill="#ff00ff"/>
<circle cx="612.1" cy="1028.4" r="1.8" fill="#ff00ff"/>
<circle cx="612.1" cy="1027.5" r="1.8" fill="#ff00ff"/>
<circle cx="612.1" cy="1026.6" r="1.8" fill="#ff00ff"/>
<circle cx="612.1" cy="1025.7" r="1.8" fill="#ff00ff"/>
<circle cx="612.1" cy="1024.8" r="1.8" fill="#ff00ff"/>
<circle cx="612.1" cy="1023.9" r="1.8" fill="#ff00ff"/>
<circle cx="612.1" cy="1023.0" r="1.8" fill="#ff00ff"/>
<circle cx="612.1" cy="1022.1" r="1.8" fill="#ff00ff"/>
<circle cx="612.1" cy="1021.2" r="1.8" fill="#ff00ff"/>
<circle cx="612.1" cy="1020.3" r="1.8" fill="#ff00ff"/>
<circle cx="612.1" cy="1019.4" r="1.8" fill="#ff00ff"/>
<circle cx="612.1" cy="1018.5" r="1.8" fill="#ff00ff"/>
<circle cx="612.1" cy="1017.6" r="1.8" fill="#ff00ff"/>
<circle cx="612.1" cy="1016.7" r="1.8" fill="#ff00ff"/>
<circle cx="612.1" cy="1015.8" r="1.8" fill="#ff00ff"/>
<circle cx="612.1" cy="1014.9" r="1.8" fill="#ff00ff"/>
<text x="3.47" y="823.38" font-size="32.86" textLength="18.89" lengthAdjust="spacingAndGlyphs" font-weight="bold">e</text>
<text x="62.70" y="840.10" font-size="24.86" textLength="37.25" lengthAdjust="spacingAndGlyphs">M7</text>
<text transform="translate(28.90,0) rotate(-90)" x="-1010.96" y="1.57" font-size="20.40" textLength="12.50" lengthAdjust="spacingAndGlyphs">−</text>
<text transform="translate(28.90,0) rotate(-90)" x="-996.41" y="0.00" font-size="20.40" textLength="27.85" lengthAdjust="spacingAndGlyphs">log</text>
<text transform="translate(32.80,0) rotate(-90)" x="-968.29" y="0.00" font-size="11.30" textLength="14.50" lengthAdjust="spacingAndGlyphs">10</text>
<text transform="translate(28.00,0) rotate(-90)" x="-951.91" y="0.00" font-size="23.30" textLength="8.67" lengthAdjust="spacingAndGlyphs">(</text>
<text transform="translate(28.90,0) rotate(-90)" x="-942.51" y="0.00" font-size="20.40" textLength="11.05" lengthAdjust="spacingAndGlyphs" font-style="italic">p</text>
<text transform="translate(28.00,0) rotate(-90)" x="-930.02" y="0.00" font-size="23.30" textLength="7.03" lengthAdjust="spacingAndGlyphs">)</text>
<text x="305.94" y="1147.91" font-size="19.61" textLength="124.88" lengthAdjust="spacingAndGlyphs">Chromosome</text>
<text x="614.37" y="842.47" font-size="13.42" textLength="36.79" lengthAdjust="spacingAndGlyphs">APOE</text>
</svg></body></html>
